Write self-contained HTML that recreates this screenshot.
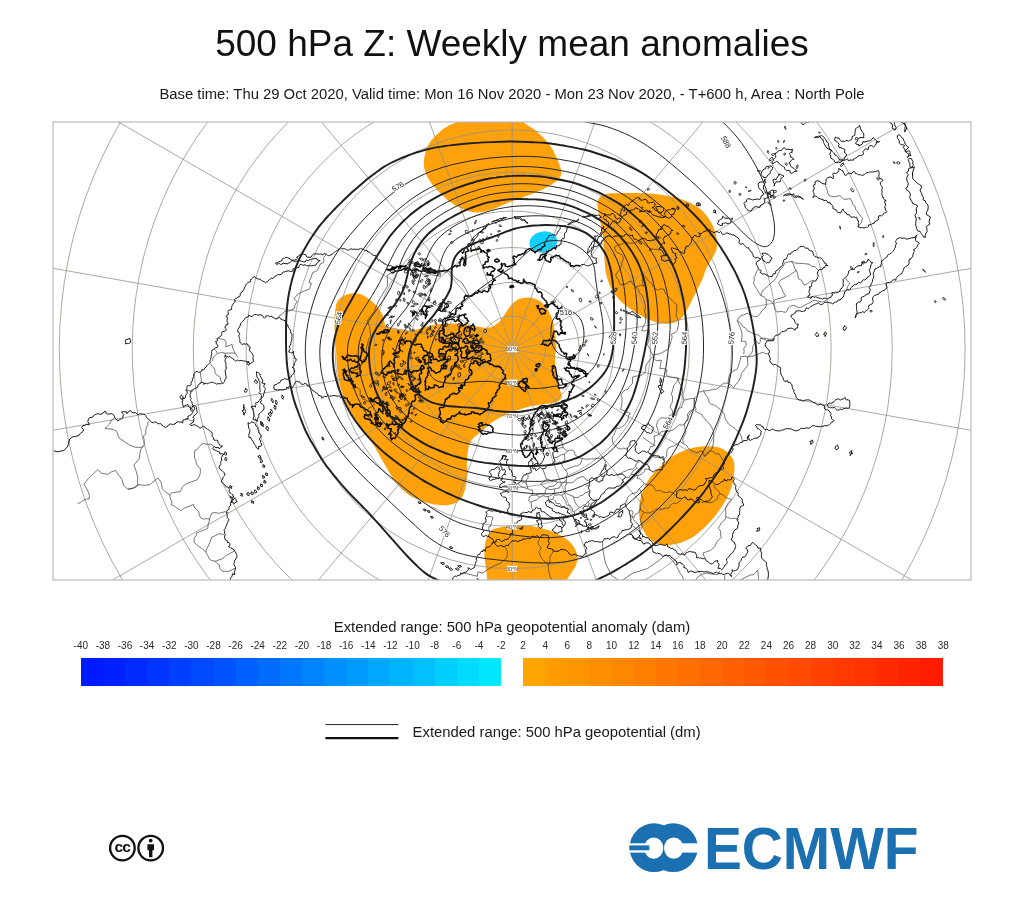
<!DOCTYPE html>
<html lang="en"><head><meta charset="utf-8"><title>500 hPa Z: Weekly mean anomalies</title>
<style>
html,body{margin:0;padding:0;background:#fff;}
body{width:1024px;height:922px;position:relative;overflow:hidden;font-family:"Liberation Sans",sans-serif;color:#111;}
.map{position:absolute;left:0;top:0;}
.t{position:absolute;left:0;width:1024px;text-align:center;white-space:nowrap;line-height:1;}
#title{top:25.3px;font-size:37px;}
#sub{top:86.7px;font-size:14.83px;color:#1a1a1a;}
#lt{top:620.4px;font-size:14.85px;color:#1a1a1a;}
#l2{position:absolute;left:412.6px;top:724.6px;font-size:14.85px;line-height:1;white-space:nowrap;color:#1a1a1a;}
</style></head><body>
<svg class="map" width="1024" height="922" viewBox="0 0 1024 922">
<defs><clipPath id="fr"><rect x="53.0" y="122.0" width="918.0" height="458.0"/></clipPath></defs>
<g clip-path="url(#fr)">
<g fill="#ffa10a" stroke="none">
<path d="M475 114C483.2 112.6 500.2 111.8 508 113C515.8 114.2 518.4 119.2 522 121.5C525.6 123.8 527 124.8 529.5 126.5C532 128.2 533.6 128.7 536.7 131.5C539.9 134.3 545.1 139 548.4 143.2C551.7 147.4 554.2 152.3 556.3 156.9C558.4 161.5 560.6 166.9 561.1 170.5C561.6 174.1 561 176 559.2 178.4C557.4 180.8 554.1 182.9 550.4 185.2C546.6 187.5 541.6 189.9 536.7 192C531.8 194.1 526.3 195.9 521.1 197.9C515.9 199.9 510.4 201.9 505.5 203.8C500.6 205.8 496.4 208.2 491.8 209.6C487.2 211 482.3 212.3 478.1 212.5C473.9 212.7 470.6 212 466.4 210.6C462.2 209.2 457.2 206.9 452.7 203.8C448.1 200.7 443 195.9 439.1 192C435.2 188.1 431.8 184.2 429.3 180.3C426.9 176.4 425.2 172.5 424.4 168.6C423.6 164.7 423.6 161.1 424.4 156.9C425.2 152.7 426.9 147.3 429.3 143.2C431.8 139.1 435.9 135.4 439.1 132.5C442.4 129.6 445.6 127.4 448.8 125.6C452.1 123.8 454.2 123.4 458.6 121.5C463 119.6 466.8 115.4 475 114Z"/>
<path d="M597.5 203C597.8 200.9 598.4 198.9 599.5 197.5C600.6 196.1 601.6 195.2 604 194.5C606.4 193.8 608.4 193.6 613.9 193.3C619.4 193.1 629.5 192.8 637.3 193C645.1 193.2 653.4 193.6 660.8 194.7C668.2 195.8 675.6 197.2 681.9 199.4C688.1 201.6 693.6 204.1 698.3 207.6C703 211.1 707.1 216 710 220.5C712.9 225 714.8 229.8 715.9 234.5C717 239.2 717.2 244.7 716.6 248.6C716 252.5 714 254.8 712.3 258C710.6 261.2 708.2 264.3 706.5 268C704.8 271.7 704 275.5 702 280C700 284.5 697 290 694.5 295C692 300 689.5 305.8 687 310C684.5 314.2 682.4 317.7 679.5 320C676.6 322.3 673.2 323.4 669.5 323.8C665.8 324.2 661.2 323.6 657 322.5C652.8 321.4 648.7 319.6 644.5 317.5C640.3 315.4 636.2 312.9 632 310C627.8 307.1 623 303.8 619.5 300C616 296.2 613.1 292.1 610.8 287.5C608.5 282.9 606.9 277.9 605.8 272.5C604.7 267.1 604.7 260.8 604.2 255C603.7 249.2 603.7 243.3 603 237.5C602.3 231.7 600.8 224.6 600 220C599.2 215.4 598.4 212.8 598 210C597.6 207.2 597.2 205.1 597.5 203Z"/>
<path d="M335.4 309.2C335.9 306.1 336 304 337.2 301.8C338.4 299.6 340.2 297.6 342.7 296.2C345.2 294.8 348.9 293.8 352 293.5C355.1 293.2 358.1 293.3 361.2 294.4C364.3 295.5 367.6 297.8 370.4 299.9C373.2 302 375.6 304.5 377.8 307.3C380 310.1 381.9 313.4 383.3 316.5C384.7 319.6 383.6 323.7 386.1 325.8C388.6 327.9 393.7 328.6 398.1 329.4C402.6 330.2 406.7 331.2 412.8 330.4C418.9 329.6 427.4 325.9 434.7 324.8C442 323.7 449.8 323.3 456.6 323.5C463.4 323.7 470.2 325.5 475.7 326.2C481.2 326.9 485.3 328.5 489.4 327.6C493.5 326.7 497.1 323.9 500.3 320.7C503.5 317.5 505.8 311.8 508.5 308.4C511.2 305 513.5 302 516.7 300.2C519.9 298.4 524.1 297.5 527.7 297.5C531.4 297.5 535.4 298.4 538.6 300.2C541.8 302 544.5 305.2 546.8 308.4C549.1 311.6 550.9 315.3 552.3 319.4C553.7 323.5 554.3 328.4 555 333C555.7 337.6 556.4 342.6 556.4 346.7C556.4 350.8 555 353.1 555 357.7C555 362.3 555.7 369.1 556.4 374.1C557.1 379.1 558.2 384.1 559.1 387.7C560 391.3 562 393.6 561.8 395.9C561.6 398.2 560.7 400 557.7 401.4C554.8 402.8 549.1 403.3 544.1 404.2C539.1 405.1 533.2 405.5 527.7 406.9C522.2 408.3 516.7 410.1 511.2 412.4C505.7 414.7 499.8 417.4 494.8 420.6C489.8 423.8 485.3 427.9 481.2 431.5C477.1 435.1 472.6 437.6 470.2 442.4C467.8 447.1 467.5 454.6 467 460C466.5 465.4 467.7 470 467.3 475C466.9 480 466.1 485.8 464.8 490C463.6 494.2 462.5 497.5 459.8 500C457.1 502.5 453.3 504.4 448.5 505C443.7 505.6 437.2 505.2 431 503.8C424.8 502.4 416.8 499.9 411 496.3C405.2 492.8 400.6 488.1 396 482.5C391.4 476.9 387.2 468.8 383.5 462.5C379.8 456.2 377.2 450.8 373.5 445C369.8 439.2 364.9 433.3 361 427.5C357.1 421.7 353.1 416.2 349.8 410C346.5 403.8 343.1 396.7 341 390C338.9 383.3 338.1 376.7 337.3 370C336.5 363.3 336.4 355.8 336 350C335.6 344.2 335.3 340 335 335C334.7 330 334.3 324.5 334.4 320.2C334.5 315.9 334.9 312.3 335.4 309.2Z"/>
<path d="M712 446.3C717 446.7 721 447.7 724.5 450C728 452.3 731.7 455.8 733.3 460C734.9 464.2 734.6 469.6 734 475C733.4 480.4 731.9 486.7 729.5 492.5C727.1 498.3 723.2 504.6 719.5 510C715.8 515.4 711.6 520.4 707 525C702.4 529.6 697 534.4 692 537.5C687 540.6 682 542.5 677 543.8C672 545 666.6 545.8 662 545C657.4 544.2 652.8 541.7 649.5 538.8C646.2 535.9 643.8 531.9 642 527.5C640.2 523.1 639.2 517.5 639 512.5C638.8 507.5 639.2 502.9 640.8 497.5C642.3 492.1 644.8 485.4 648.3 480C651.8 474.6 657.2 469.4 662 465C666.8 460.6 671.6 456.7 677 453.8C682.4 450.9 688.7 448.8 694.5 447.5C700.3 446.2 707 445.9 712 446.3Z"/>
<path d="M491.4 530.5C493.8 528.1 496.5 528.4 500 527.5C503.5 526.6 507.3 525.5 512.5 525.3C517.7 525 524.4 525 531 526C537.6 527 545.7 529.1 552 531.6C558.3 534.1 564.6 537.3 568.8 541C573 544.7 575.8 549.9 577 554C578.2 558.1 577 562.1 575.8 565.6C574.6 569.1 571.6 572.4 570 575C568.4 577.6 567.6 578.2 566.4 581C565.2 583.8 576.1 590.2 563 592C549.9 593.8 500.6 593.8 488 592C475.4 590.2 487.5 584.7 487.2 581C486.9 577.3 486.8 574.2 486.3 570C485.8 565.8 484.5 560.7 484.4 556C484.3 551.3 484.3 546.2 485.5 542C486.7 537.8 489 532.9 491.4 530.5Z"/>
</g>
<ellipse cx="543.3" cy="242" rx="14" ry="10.5" transform="rotate(-10 543.3 242)" fill="#0fd0ff"/>
<g fill="none" stroke="#92928a" stroke-width="0.9" stroke-opacity="0.88">
<circle cx="512.2" cy="349.3" r="542.7"/>
<circle cx="512.2" cy="349.3" r="452.9"/>
<circle cx="512.2" cy="349.3" r="380"/>
<circle cx="512.2" cy="349.3" r="318.9"/>
<circle cx="512.2" cy="349.3" r="266.1"/>
<circle cx="512.2" cy="349.3" r="219.4"/>
<circle cx="512.2" cy="349.3" r="177.2"/>
<circle cx="512.2" cy="349.3" r="138.3"/>
<circle cx="512.2" cy="349.3" r="101.8"/>
<circle cx="512.2" cy="349.3" r="67"/>
<circle cx="512.2" cy="349.3" r="33.2"/>
<path d="M512.2 349.3L512.2 945.8M512.2 349.3L716.2 909.8M512.2 349.3L895.6 806.2M512.2 349.3L1028.8 647.5M512.2 349.3L1099.6 452.9M512.2 349.3L1099.6 245.7M512.2 349.3L1028.8 51.1M512.2 349.3L895.6 -107.6M512.2 349.3L716.2 -211.2M512.2 349.3L512.2 -247.2M512.2 349.3L308.2 -211.2M512.2 349.3L128.8 -107.6M512.2 349.3L-4.4 51.1M512.2 349.3L-75.2 245.7M512.2 349.3L-75.2 452.9M512.2 349.3L-4.4 647.5M512.2 349.3L128.8 806.2M512.2 349.3L308.2 909.8"/>
</g>
<g fill="none" stroke="#2b2b2b" stroke-width="0.65" stroke-linejoin="round">
<path d="M469.2 296.2L466 289.6L462 282.9L455.7 278.4L448.8 271L445.4 272.5L443.7 271.5L440.8 271.3L440.7 273.8L440.3 276.2L437.3 275.6L434.2 275.3L431.3 274.9L429.1 273.8L426.8 273.8L422.9 274.4L421.9 272.9L420.3 270.8M393.5 271.3L387.1 275.7L387.7 285.9L383.3 293L378.7 300.7L374.1 311.5L367 321.1L369.7 326.8L370.7 336.4L369.5 337.8L368.2 340.6L367.6 344.2L366.7 346.8L366.3 350.6L367.2 353.9L366.1 356.9L363.7 358.8L362.9 361.4L362 363L361.5 364.8L359.7 366.7L357.3 369.7L355 369.8L353.2 371L350.8 372L348.4 371.2L346.3 370.4L344.3 369.9L345.1 372.4L346.3 375.6L348.3 378.3L349.2 381L351.2 380.6L352.4 382.8L353.5 384L356.1 386.8L358.3 388.1L360.2 390L360.2 392.8L360.1 395.5L361.8 397.5L362.9 399.2L365.1 399.6L367.3 401.2L371.1 401.3L373.7 401.9L374.5 404.9L371.6 406.9L369 407.7L367.3 410.8M326.6 254.3L324.6 256.4L323.5 258.2L323.8 260.3L323.6 262.5L320.5 263.8L318.8 267.2L317.2 270.5L312.7 272.7L312 274.7L311.2 277.4L309.8 279.8L309.2 282.6L311.3 283.2L310.5 286.2L309.4 289.2L306.9 290.1L304.5 290.9L301.4 292.3L298.1 293.9L295.7 296.7L294.1 298.9L295.3 300.1L297.1 301.6L295.1 304.6L294.7 307L293.7 309.1L291.2 309.9L287.8 311.3L284.8 311.2L282.5 314.1L279.3 315.8L278.5 317.6L276.2 319.5M218.2 338L220.6 338.9L222.4 339.2L224.9 340L225.9 341.8L226.1 344.2L225.9 346.8L229.2 345.7L232.1 344.4L232.7 348.1L233.7 350.2L235.1 353.2L233.5 353.1L231 353L227.7 353.1L225.4 353.3L224.9 355.4L224.4 357.8M235.1 353.2L236.6 355.6L238.3 357.4M217.5 353.4L216.3 351.1L214.2 348.8M225.4 353.3L221.7 352.3L219.6 353L217.5 353.4L215.8 355L213.3 357.3L212.3 360.8M210.3 363.5L212.6 366.5L213.7 367.9L215 370.1L214.9 372.3L215.9 374.2L218.6 376.2L220.4 377.4L220.5 380.1L221.9 382.2L222.7 383.8M200.4 372.7L200.6 374.9L201.1 377.9L201.4 381.3L200.3 383.7M185 390.1L188.7 390.6L191.5 391.5L193.2 390.7M193.8 420.5L190.6 420.8L188.5 419.3L184.6 419.5M219.7 448.3L217.9 447.7L215.4 447.4L213.6 445.9L210.8 444.3L207.3 444.4L204.1 443.5L201.8 444.2L199.2 446.8L197.1 449.7L194.7 450.6L194.5 455L194.5 458.2L195.9 460.4L196.3 464.3L200.3 468.8L200.3 473.5L198.9 477.2L197.2 479.8L191.7 481.7L187.5 483.3L184.8 484.7L182.4 487.2L180.2 491.6L175 492.4L172.1 492.7L169.7 494.7M148.9 420.6L147.7 422.9L148.1 424.9L146.4 427L145.7 430.5L145.8 434.1L143.4 436.1L144.2 439.9L144.3 444.4L143.4 446.1M143.4 446.1L140.8 449.2L140 453.5L139 459.2L133.9 465L135.9 470.3L137.8 477.3L137.3 481.6L137.9 485.5L135.5 487.2L132.2 488.7L129.6 488.9L127.9 489.2M169.7 494.7L165.5 492L162.2 488.5L161.3 482.8L158.2 478.1L156 479.6L153.1 481.8L151.9 482.8L150 484.7L144.5 485.3L138.9 484.6L133.2 488L127.9 489.2M169.7 494.7L170.2 497.3L170.7 499.7L172.1 502L171.2 504.7L174.3 505.8L176.3 507.9L179 509.4L181.2 510.7L183.8 508.2L187.4 507L191.2 505.4L193.7 504.6L194.4 507.7L196.5 509.3L198.8 511.7L199.3 515.7L201.1 518.3L203.9 519.1L206.3 518.7L209.6 519.1M209.6 519.1L210.3 516.6L211.8 513.1L214.7 512.5L219.2 513.3L224.8 511.7L228.6 513M209.6 519.1L209.1 521.6L208 524.9L207.8 528.3L204.5 529.9L199.9 531.5L196.7 532.9L196.3 535.4L194.4 538.1L193.9 542.1L197 545.2L201.2 548.1L203.4 549.5L205.7 552.2M223.8 534.5L221.5 534.1L218.7 533.7L215.1 535.8L211.7 537.1L210 541.9L208.9 544.9L206.7 548.9L205.7 552.2M234.4 551.1L231 552.8L225.9 555.8L221.8 558.9L215 561.3M205.7 552.2L207.7 555.2L208.7 558L210.8 560.2L215 561.3L216.9 563.3L219.4 565.1L219.8 568.1L222.6 571.5L225.8 571.2L228.2 571.5L231 570.3L235.1 568.2M114.7 417.2L111.8 419.8L109.4 424.1L107.6 425.8L105.1 428.4L107.6 428.8L110.9 429L113.7 429.7L116.6 431.2L118.9 437.8L125.7 442.6L130 445.2L134.5 447L136 447.4L138.5 447.3L140.9 447.5L143.4 446.1M127.9 489.2L123.6 485.5L121.9 479.4L118 474L115.6 470.5L111.7 471.7L107.8 474.4L101.7 473.3L97.6 469.8L94.8 472.5L91.6 475.2L88.2 478.7L84.1 484.3L85.9 487.5L88.5 492.3L89.3 495.1L89.1 499.1L86.1 499.1L82.3 500.9L80.2 502.9L77.7 503.2M533.2 452.6L533.2 449.3L533.2 447.5L533.1 445.3L533 441.8L531.6 438.4L531.8 436L533 432.7L533.1 429L532.9 426.6L533 423.6L533.7 421.8L534.2 419.3L534.7 417.8L536.9 415.3M536.9 415.3L539.2 416.4L541.9 417.7L544 420.4L545.3 423.7M536.9 415.3L539.7 414.1L542.5 412.9L541.6 409.5L543.7 408.5L546.3 410.9M546.3 410.9L546.6 412.7L549.6 414.2L550.6 416.2L552 419.6L554.3 422.3L555.7 425.5L557.7 426.7L560.2 427.7L559.9 429.7L560.5 432.9L559.7 435L558.9 437.8M486.3 516.5L488.1 516.8L490.8 516.5L493 517.8L491.7 521.3L491.2 524.1L490.5 526.4L488.9 526.6L488.9 529.9L489.7 532.4L489.2 534.4L487.9 536.4M507.1 512.9L508.4 514.3L511.2 515.3L514.2 515.7L516.5 515.8L518 517.2L521.6 516.6M533.4 510L531.7 508.2L531.4 504.8L531 502.1L528.7 500.8L529.2 498.3L530.2 496L531.7 495.4L532.6 492.7L532.5 489.9L529.6 489.9L527.8 488.6L526.4 488.8L524.4 487.5L522.3 487.2L519.6 485.5L518.1 483.4M527.8 488.6L527.4 486.5L526.3 483.9L526.2 480.1L528 478.1L528 474.3M521.9 482L523.8 481.9L526.3 483.9M542.7 468.9L543.6 471.4L544.7 474.1L545.3 476.4L547 479.3M541 483.4L543.9 481.2L547 479.3L549.4 479.7L551.2 480.8L554.5 481.2L557.4 482L556.5 483.8L554 485.9L551.1 486.3L549 486.5L546.4 488.4L543 486.5L541 483.4M546.4 488.4L545.1 490.9L545.4 493.3L541.5 493.5L539.3 493.4L536.8 495L534.8 495.2L531.7 495.4M546.4 488.4L548.4 489L551 489.6L554.8 488.8L554.6 491L554.1 493.4L551.3 495.4L548.1 496.6L545.7 496.7L543.8 495.6L541.4 496.3L539.4 497.3L536.8 495M531 502.1L533 501L534.8 500.4L536.9 499.8L539.4 497.3M548.1 496.6L548.6 499.7M530.2 468.1L532.1 468.2M552.9 464.3L555.5 463.2L557.7 463.1L559.5 461.8L561.6 462.9L562.4 466.8L564.8 469.1L566.5 471.6L567.7 473.9L566.3 476.9L566.4 480.2M557.4 482L559.2 482.2L561.5 482.5L563.8 481.9L566.4 480.2L566.7 482.9L570.5 482.7L572.8 482.4L574.9 480.6L577 478.7L580.1 477.1L583.4 476.6L585.7 479.6L588.2 480.9M585.7 486.3L589.4 485.1M554.8 488.8L557.2 488.3L559.5 488.1L560 486.4L561.2 484.2L564.1 482.3L566.7 482.9M554.1 493.4L555.4 495L558.9 494.9L561.8 495L563.5 494.4L565.3 492.9L565.2 489L565.1 486.5L566.7 482.9M565.3 492.9L567.3 493.9L569.6 495L573 496.2L574.1 497.4L575.9 497.3L578.3 497.7L579.6 495.9L582.7 495.3L585.3 492.7L587 492.3L589.8 491.6M548.8 500.4L551.4 499.5L553.2 499.3L553.3 496.9L555.4 495M554.8 500L556.4 503.6L559.9 503.6L561.9 506.9L565.3 507.9L568.5 509.3M561.8 495L563.6 498.5L566 501.3L565.9 503.5L567.6 505.2L569.8 505L571.9 508L572.8 511.5L574.7 512.1L574.4 514.5L573.2 517M573 496.2L573.8 498.8L574.6 500.6L575.5 502.8L576.7 504.9L579.1 507.7L576.5 510.2L574.4 511.3M579.1 507.7L581.2 507.1L583.2 505.1L585.9 504.5L587.7 502L589.2 503.1L588.5 505.7M587.7 502L589.8 499.9L591.6 498.7M561.6 462.9L563.4 461.3L564.9 458.9L564.6 456.8L564.5 454.2L566.9 451.4L569.7 450.1L572.6 450.2L574.8 451.7L574.7 454.9L576.7 455.9L578.2 457.1L580.2 458L582.3 458.5L581.4 461.8L580.1 464.2L577.3 465.9L574.7 465.9L572.3 467.2L570.4 467.6L567.9 468.6L565.4 470.5M582.3 458.5L584.5 459.1L587.1 459.2L590.3 458.9L593.9 458.9L597.4 458.3L600.8 458.1L602.3 456.2L603.8 459L605.8 461.7L605 463.6L604.5 466.6M553.7 457.4L556.4 457.5L558.6 456.5L561.2 454.8L564.5 454.2M557.3 449.3L560 447.9L563.2 447.6M561.3 440.9L562.3 444L563.2 447.6L564.8 448.9L566.9 451.4M625.6 477.5L628.6 477.7L631.1 474.6L634.7 474.3L637.9 475.9L637 478.5L638.7 478.3L641 479.7L642.5 481.1L644.4 483.8L642.2 486L639.4 488.6L636.5 492.7L631.5 493.7L627.8 497.4L625.9 501.9L625.6 504.6L626.3 506.3M617.4 474.7L620.1 473.9L623.6 471.7L626 471L627.7 469.7L630.7 469.2L632.7 469L635.5 466.3L636.4 463.4L639.7 461.7M631.1 474.6L632.3 472.3L633.8 470.1L635.9 469L637.5 468.2L635.5 466.3M637.9 475.9L639.6 475L641.9 473.8L644.3 471.6L645.1 469L647.7 469.1L650.6 470.1M664.3 460.2L664.9 458.4L666.7 456.1L666.7 452.6L667.3 449.3L670 447.1L674.1 445.8L677.4 443.8L679.7 441.4L681.1 442.2L683.1 443.8L685.2 444.4L687.1 446.2L688.2 448.2L690.3 450.3L694.7 451.9L698 453.1L699.5 451.2L702.4 451.3L703.3 454.2L704.7 456.4L705.3 454.5L707.2 452.7L709.7 450.8L712.3 451.4L713.9 452.3L715.9 453.9L719.2 453.9L720.7 456.5L722.6 459.9L724 462.3L724.3 464M644.4 483.8L646.2 484.5L648.7 484.8L650.4 484.9L653 485.3L654.2 488.2L656.3 490.9L659.2 490.2L663.2 492L666.8 492.6L669.2 491.7L672.8 492.8L674.7 494.6L676.8 494.4M639.4 488.6L640.9 491.4L641.4 494L642 497.2L643.6 500.5L641 503.5L640.3 505.7L640.4 508.8L639.5 510.5L638.6 512.5L635 514.6L634.2 517.3L631.6 516M640.4 508.8L641.4 511L644.2 512.3L641.8 515.2L641.6 517L640.3 519.3L641.2 522.8L641.9 525.2L641.8 528.1L639.6 531.2M644.2 512.3L646.4 513L649.3 513L653.4 511.3L656.1 509.1L658.9 508.8L662.3 509.3L666.3 508L669 507.8L670.3 505.1L672.4 503.8L674.2 503.1L676.6 503.5L679.4 501.5L681.3 499.4M632.6 525.8L635.5 528.2L637.4 529.8L639 531.1M631.6 516L633.5 519.4L635.8 522.6L637.9 523.6L639.2 527L639.3 530.8M629.5 510.7L632.2 510.8L633.1 512.8L631.9 515.3M706.7 501.2L703.6 502L701.8 502.8M705.6 502.6L708.8 502.5L712.4 502.4L714.4 500.9L717.1 498.8L717.8 496.6L719.9 493.7L722.9 494.8L726.6 498.1L729.8 498.9L731.7 499.6L727.5 504L725.7 507.9L725.8 511.2L725.8 516.2L725 519.7L721.2 523.1L719.8 525.7L718.3 528.4L719.8 529.8L720.8 532.2L720.6 535.1L721.2 537.4L716.8 542L714.7 546.5L710.8 550.4L703.3 552.8L703.4 555.1L705.3 557.9M719.9 493.7L718.6 490.9L715.7 488.8L714.5 486.6L713.3 484.9M725.8 516.2L727.8 517.7L731.2 518.5L734.7 518.2L738.7 519.4M627.5 449.5L625.8 448.8L623.5 448.1L621.5 449L618.9 448.8L616.4 446.6L614.9 445.6L613.4 443.6L612.4 441.1L612.2 436.9L613.9 435.3L614.8 432.3L615.7 430.5L616.4 428L619.7 428.3L622.4 426.5L624.1 425.5L625.9 423.2L627.3 421.2L628.2 419L628.6 415.3L630.5 413.5L628.4 412.5L626.5 412L623.3 410.4L620.5 409.3L621.6 405.7L621.8 403.2L622.1 400.6L621.9 397.1L620.9 395L623 391.8L625.2 390L628.2 389.3L628.8 387.5L630.2 385.7L632.3 383.7L632.6 380L632.5 377.1L636.2 376.1L640.4 375.7L643.2 374.3L644.7 372.7L645.9 369.1L645.8 365.7L647 363.8L648.7 361.2L651.3 358.3L653.4 356M653.4 356L651.4 352.9L649.9 349.1L648.8 347.1L647.4 344.6L648.5 341.1L648.9 337.7L648.9 333.9L649.2 330.1L646.6 330.3L644.8 331L641.7 330.4L642.4 328.4L643.7 325.6L645.4 322.7L645.6 320.5L645.4 318.1L645.5 314.4L644.4 311L645.2 308.6L645.6 305.8L644.6 303.4L644.3 300.7L643.4 298.9L642.6 295.6L639.4 292.7L638.6 289.6L636.4 286.8M636.4 286.8L633.4 285.2L632.1 283.1L631.2 281.1L628.7 282L626.8 283.6L623.7 284.4L620.2 284.4L619.1 282.3L618.7 279.9L617.2 278.4L615.7 275.5L616.5 273.4L618.3 271.2L620.5 267.9L621.9 265.1L621.9 262.3L623.5 258.9L622.8 256.8L621.8 254.7L619.8 253.7L617.7 253L615.7 251L614.3 247.2L616 246.3L618.3 244.4L622.5 244L625.5 241.8L628 243L630.1 243.3L633.6 243.1L636.8 242L639.3 240M653.4 354.7L658.8 354.1L662.5 352.4L667.3 349.6L669.6 346.6L670.1 344L671 340.7L672.1 337.7L671.6 334L673.1 333.5L675.4 332.6L677.2 330.5L678.5 325L678.6 321.3L677.5 318.3L676 316L676.3 312.5L676.9 310L676.4 307.9L677.2 305.1L672.7 301.2L668.2 296.3L664.9 292.8L664.1 289.5L660.9 288.6L658.1 290.3L655.3 288.6L653.6 287.1L652.4 284.1L648.6 281.3L647.2 279.4L645.7 277.2L643.1 274.3L642.8 277.7L642.3 281.6L642.8 284.5L644.2 286.3L640.7 285.2L638.3 286.2L636.4 286.8M653.4 356L654.3 358.8L656.3 360.7L659.1 360.4L661.5 360.3L661 362L660.6 364.2L660.3 366.1L659.8 368.7L663 368.6L665.3 369L667 370.2L666.1 373.6L667.3 376.1L671 377.1L673.9 377.4L675.8 377.3L678.1 378M678.1 378L678.6 380.7L679.7 383.7L681.9 386.9L682.6 391.8L681.9 395.2L683.2 397.2L684 400.2L687.9 399.2L691.3 398.5L694.3 398.4M642.7 437.3L646.1 439.7L649.9 442.3L652.6 444.3L654.8 445.5L653.8 443.9L654.8 441.3L654.2 439.1L654.2 436L657.1 435.3L659.4 434.3L658.3 432.3L657.8 429.3L656.4 425.9L657.3 422.2L658.5 419.9L660.2 418.3L662.7 417.7L665 418.1L666.8 418.1L669.1 415.7L672.8 414.2L672.4 410.8L671.6 409.1L670.2 407.4L671 404L672.1 402.7L672.5 400.1L672.5 396.8L671.4 393.5L672.2 391.7L672.9 389.4L673.6 385.8L675.4 383.5L676.9 381.6L678.1 378M664.3 460.2L663.5 456.4L661.2 457.1L659.6 457.9L657.3 457.1L655.3 457.2L653.1 456.7L650.9 454.8L648.1 452.1L649.2 449.9L650.6 446.6L652.5 446.5L654.8 445.5M659.4 434.3L660.7 432L664 431L667.2 431.5L669.4 431.1L673.1 429.8L676.2 427.5L677.5 426.3L679.3 424.7L682.2 425.2L684.4 424.2M672.8 414.2L675.7 415.4L676.6 411.9L678 409.8L678.5 408.2L681.7 407.6L682 405.2L682.8 403.2L684 400.2M684.4 424.2L686 421.3L687.9 420.3L688.1 417.5L687.3 414.8L688.5 412.9L689.8 411.1L692.7 409.7M683.3 443.4L682.9 440.3L683 438L684.8 434.7L685.8 432.1L685 428.7L684.6 426.1L684.4 424.2L687.5 419L688.9 415.3L690.4 412.8L692.7 409.7L694 408L693.9 405.1L694.4 401.3L694.3 398.4L694.2 402.6L695 406.3L695.9 408.5L695.6 411.4L698.5 413L702 414.7L702.7 416.6L704.8 418.4L706.4 421.2L709.6 423.9L711.4 426.9L713.3 430.6L713.4 433.4L713.8 437L713.6 440.9L712.9 445.8L711.8 448.9L709.2 451.8L707.8 454L704.7 456.4M694.3 398.4L697.7 395.2L698.4 391.9L700.7 391.9L703.5 390.7L704.8 393.7L708 398L709.3 402.7L711.8 404.7L713.9 404.8L716.6 406.4L720 409.4L722.6 411.6L724.4 414.4L725.2 418.8L727.1 421.7L728.5 423.8L730.2 425.5L732.9 427L735 428.7L737.5 431.3L739.6 433.2L740.9 435.1L741.8 438.5L742.6 441.5M703.5 390.7L706 390.9L708.9 390.5L712.7 389.4L716.8 389.1L719.7 386.6L722.4 384.2L725.3 382.9L728 383.5L731.3 385.3L733.7 387.6L735.7 384.6L738.5 381.5L740.7 376.9L741.5 373.4L745 368.8L748.1 364.8L747.4 361.1L747.7 357.1L745.1 356.1L742.7 356.5L740.9 356.5L740.4 359.2L739.6 361.9L738.3 366.1L737.4 369L733.5 370.9L729.6 374.2L728.4 379.3L728 383.5M743.6 354.1L744.2 351.6L743.7 348.6L746.5 344.9L745.4 341.2L743.6 341.4L741.3 341.3L741.9 337.6L741.9 332.1L739.6 326.7L737.3 320.5M747.7 357.1L750.3 356.4L753.9 355.9L757.5 354.4L759.7 353.4L762.7 352.4L765.3 353.6L768.5 353.8M774.1 338.8L769.3 339.4L766.2 338.3L762.8 338.1L760.2 338.5L760.3 341.7L758.9 344.1L756.5 341.5L754.1 338.7L754.2 341.1L754.5 343.6L752.5 347.2L752.9 350.1L751.7 352.7L750.4 354.4L747.7 357.1M774.1 338.8L769.7 341.4L765 339.7L761.9 338.5L758.6 335.1L754.2 334.1L751 332.4L747.7 330.9L745.5 328.1L742.8 326.5L741.3 323.8L739.6 322L737.3 320.5L738.8 318L740.3 316L743.7 314.8L747.4 313.3L750.7 314.7L752.6 316L754.7 316.6L757.3 316.6L759.3 314.6L761.2 312.2L762.2 310.5L764.7 308.4L765.8 306.2L766.3 304.2L766.2 302L766.1 299.5L768.2 300.3L770 300.5L772.7 302.9L774.3 306.3L774.6 308.8L776.1 310.6L777.2 312.1L780.8 311.3L783.2 311.9L785.8 312.3L787.4 310L788.2 308L790.8 306.1L793.1 305.3L795.1 305.7L796.8 306.7L798.5 307.5L800.8 307.7L804 305.6L806.9 304L810.4 302.3L812.7 300.6L815.3 300.3L818.4 301.3L822.4 302L826.2 300.7M766.1 299.5L764.2 296.9L760.8 295.5L758.4 291.6L756.4 288.5L755.1 286.2L753.4 283.3L754.3 280.5L754 276.7L755.3 275.2L756.1 273.2L756.8 271.1L758.3 269.3M760.8 295.5L761.9 292.2L763.3 290L766.1 287.6L768.5 285.4L771.1 283.1L772.8 281.5L775.5 278.8L778.2 273.6L780.6 269.2L782.8 266.7L785.1 262.7L786.9 262.4L789.1 261.9L791.8 261.1M772.7 302.9L775 299.8L777.5 298.9L782.3 297.6L785.7 296.1L783.1 292L781.7 288.1L780.1 285.5L778.6 282.9L780.9 279.9L783.3 278.7L785.2 277.6L787 276.7L789.3 275.7L792 273.4L794.4 272.2L796.1 270M813.8 280.2L811.4 280.9L809.6 281.9L807.3 283.9L804.3 285.1L801.5 280.4L798.3 278.6L797.7 273.9L796.1 270L794.5 268.3L793.6 264.8L792.2 262.8L791.8 261.1L794.5 262.9L798.2 263.3L803.6 263.6L809.1 264.2L812.1 266.5L814.7 266.5L816.8 268.8L818.9 270.6M661.5 238L658.9 236.6L655.5 235.7M658.6 249.4L656 249.6L653.3 249.1L650.5 249.1L648.1 247.2L645.3 244.9L642.4 242.5L639.5 240.2M846.7 289.7L847.6 286.5L848.8 285.1L849.7 283.1L846.8 280.4L845.6 277.8M857.9 226.2L859.7 224.3L861.4 222.9L862 220.1L862.6 218.3L860.6 216.1L858.4 213.3L857.6 211.5L855.5 209.2L855.1 206.2L852.8 204.6L851.8 201.3L850.4 198.7L844.1 199.4L839.8 195.6L834.4 196.9L829.6 195.9L827.8 193.3L827.3 190.4L826.3 187.8L825.1 185.7M602.6 541.5L602.9 550.2L605.6 563.7L611.8 575.7L620.5 581.6L632.2 573.4L647.6 568.5L658.7 560.8L666.1 554.3M620.5 581.6L621.3 584.4L622.6 587.2L621.7 591.2L621.4 594.6L624.1 598.4L626.4 602L626.1 606.4L629.3 612.3M553.2 551.1L551.4 554.6L550 556.9L549.9 559.9L549.9 563.2L548.2 564.4M540.5 536.6L539.1 540L538.1 542.3L538.5 544.7L541.1 547.1L540.5 549.6L538.9 551.7L540 554.9L541.9 558.9L545.3 562L548.2 564.4L548.3 568.7L548.9 571.9L550.3 577.3L553 580.9L555.5 582.4L557.5 586L561.1 589.5L564 593L568.3 592L571.2 592.6L574 593.4L577.3 592.2L584.3 592.7L595.3 595.1L605.2 592.1L621.4 594.6M504.6 546.5L505.9 548.5L507.1 550.7L507.3 554.7L506.7 557.7L505.4 559.3L503.3 560.6L501.6 562.6L499.1 563.9L493.2 566.1L487.3 569.8L482.6 573.1L478.1 571.9L477.4 574L477.5 576.3L473 575.2L468.8 574.1L463.8 573.2L460.5 573.1M477.2 578.1L481.3 583.2L484.8 585.6L488.6 587L491.9 590.5L498.6 595.6L507 598.7L513.5 604.1L517.7 609.9M564 593L559.5 596.9L552.4 599L550.2 602.9L546.4 609.2M577.3 592.2L578.8 595.9L580.1 598.5L583 600.8L584.9 602.7M453.8 602.3L455.1 599.9L455.5 597.9L455.6 594.4L457.6 593.5L460.3 593.5L461.2 590.5L462.4 586.6L461.4 584.3L462.8 581.6L467.2 580.9L471.2 581.1L473.7 581.9L476.3 584L477.3 581.4L477.2 578.1M477.2 578.1L478.9 580.6L482.4 583.5L486.4 585.4L489 590.3L488.3 602.1L494.4 611.3L492.2 622.8L485 631.8M666.1 554.3L668.8 557L673 561.3L676.6 566.4L678.4 569.8L680.3 573.5L682.5 576.5L684.2 582.3L686.8 586.1L688.8 585.2L690.4 583.3L693.1 581.7L695.7 580L697.2 578L698.1 576.7L701.3 574.7L705.8 573.1L709.2 573.7L713 574.1L717.9 574.5L719.8 571.2M686.8 586.1L689.7 592.6L694 596.2L692 601.7L691.9 605.9M758.4 595.5L759.2 589.6L757.7 585.7L758.5 578.4L757.7 570.3L755.9 572.1L753.8 574.6L749.8 575.2L744.7 577.7L738.1 581.5L731.6 584.6L730.3 582.4L728.4 581.4L726.5 580.7L724.6 579.5L724.6 576.9L725.1 575.3"/>
</g>
<g fill="none" stroke="#141414" stroke-width="1.0" stroke-linejoin="round" stroke-linecap="round">
<path d="M344.2 397.5L343.1 396.5L342 396.3L341.5 397.4L340.5 397.9L340.2 396.7L339.2 395.8L338.4 396L337.1 396.2L335.4 395.6L334 395.6L332.8 395.7L330.8 396.1L329.5 396.2L328.4 395.1L327.4 395.9L326.2 396.8L324.3 396.1L323.5 397.3L321.8 398.2L321.8 396.3L320 395.8L319 395.3L318 394.9L317.4 393.4L316.3 393.1L315.3 392L314.1 391.4L313.4 390.8L312.3 390.4L311.7 389.2L310.4 387.8L309.3 386.1L307.7 386.1L307 384.3L306.2 384L305.2 383.2L303.6 384.3L301.7 384.2L300.4 383.2L299.7 381.8L298.4 381.9L297.3 381.3L296.2 381.1L295.3 382.1L294.7 383.6L294 384.6L293.6 385.7L293.1 386.7L292.1 387.3L291.2 387.6L290.1 386.8L289.2 386.2L288.5 388.2L286.5 387.4L286.5 388.9L285.5 389.4L283.9 389.7L282 389.9L280.5 389.7L279 389.9L277.5 390L276 389.7L275 389.9L274.1 389.1L273.8 388L273.9 386.2L274.6 384.9L276.3 384.6L277.5 383.7L278.1 383L279.9 382.7L280.6 381.7L280.7 380.4L282.2 379.8L283.2 379.6L284.4 378.5L286.1 379.1L287.9 379.3L289.4 378.7L290.1 377.4L291.4 376.8L291.3 375.3L292.7 374.7L293.3 373.9L294.1 373L294.4 372.1L294.9 371L294.1 369.7L294 368.2L292.2 367.4L293.3 366.4L294.4 365L294.2 363.4L295 362.6L295.5 361.5L296.2 360.2L296.1 358.9L294.8 358.5L294.7 356.9L294.1 355.4L293.6 354.5L293.6 353.2L293.7 351.2L292.8 352.3L291.9 353.1L290.5 352.4L288.8 352L289.1 350.8L289.6 349.6L290.2 348.4L289.3 347.4L289.5 345.9L290.5 345.2L290.8 343.6L290.9 342.6L291.2 341.6L291.9 339.7L291.9 338.8L291.7 337.6L292.1 336.4L292 334.7L291.7 333.3L290.5 332.9L290.7 331.5L290.1 329.9L289.6 328.8L289 328.2L287.9 326.6L288.1 325.1L287 324.9L286.7 323.6L285.5 322.7L285.5 321L283.9 320.2L282.6 319.9L280.8 319.2L280.5 318.2L279.3 317.6L277.5 318L275.8 319L274.8 318.2L273.4 317.7L272.3 317.2L271.8 316.1L270.8 316.4L269.6 316.8L268.6 316L267.7 315.8L266.2 315.7L265.6 317.1L264.4 318.3L263.7 317.6L263 316.3L261.9 315L260.2 314.8L259 315.1L257.9 315.1L256.3 314.6L254.7 314.6L253.6 315.1L252.1 316.4L250.5 316.2L248.7 315.3L248.4 316.7L247 317.1L245.5 318.1L244.6 318.7L244.3 319.7L243.3 320.9L242.4 321.4L241.3 322.6L240.6 323.6L240.2 325.5L239.5 327L238.7 328.1L238.1 328.8L237.8 330.1L237.8 332L238.9 332.3L239.8 333.8L238.8 335.4L238.8 336.2L239.4 337.4L239.4 338.7L240 339.3L239.7 340.7L239.9 342L240.8 343.4L242.2 344.6L243.9 343.6L245.2 344.3L246.3 343.8L247.4 343.9L248 345L248.3 346.1L249.2 346.3L250.1 347L249.8 348.8L249.3 350.2L249.9 351.1L251.1 352.5L252.5 353.8L253 355.7L253.5 356.8L252.7 357.7L253.3 359L252.9 360.1L253.8 361.5L252.7 362.2L251.5 362.6L250.5 363.9L249 363.3L248.2 362.1L247.3 361.8L245.5 361.2L243.9 361L242.6 360.8L240.9 360.3L239.3 360.8L238.3 360.5L237.3 359.9L236.5 360.8L235.7 361.1L234.8 360.3L234 359.7L232.7 358.7L231.1 357.6L230.1 356.4L228.3 357L226.6 356.3L225.4 355.3L225.6 356.5L226.2 357.8L225.3 359.3L225 360.7L225.1 361.8L225.9 362.8L226 364.6L225.8 365.6L226.1 367L226.3 368L226 369.3L224.9 371L225.5 372L225.7 373L225.4 373.9L225.9 375.1L226.1 376.8L226.1 378.7L224.7 379.8L224.5 381.5L223.8 382.4L222.7 383.8L221.6 383.1L220.1 383.9L218.3 383.6L216.5 384.1L215.5 383.3L214.6 383.2L213.8 382.8L212.7 382.1L211.7 382.4L210.4 382.3L209.5 382.9L208.6 383L207.8 383.8L206.4 383.6L204.8 383L203.8 384.5L203.7 383.5L203.3 382.5L201.8 382.2L200.8 383.1L199.7 383.4L199 384.7L197.7 385.5L198.1 386.6L197 387.6L195.7 388.2L194.7 388.7L193.7 389.1L192.9 390L191.5 390.3L190.8 391.4L190.7 393.3L189.9 394.3L190.1 395.6L190.3 397.2L191.4 398.3L190.6 399.3L190.5 400.3L191.1 401.3L191.8 401.8L192.2 403.4L192.5 404.8L193.7 405.5L194.6 405.7L195.7 406.1L196.5 407.8L196.6 409.3L196.8 410.5L197.3 412.4L196.4 413.5L195.4 414.8L194.2 415.6L192.8 416.9L193.9 418.2L193.9 419.2L193.8 420.5L193.3 422.1L191.7 423L190.9 424L189.9 424.3L190.9 425.5L192.7 425.3L193.8 424.6L195.4 424.9L196.5 426L197.6 425.9L198.4 426.9L199 427.4L200 428.1L201.4 427.7L202 427L203.3 426.2L204.8 426.9L205.6 427.4L206.2 428.4L207.5 429L208.2 429.7L209.4 430.4L210.4 431.3L212 432.5L212.1 433.6L212.3 434.5L212 436.2L212.6 436.9L213.5 437.8L213.8 439.8L215.6 440.4L216.6 440.2L217.9 440.8L217.8 442.1L218.5 443L219.2 443.9L219.7 445.3L220.8 445.9L222.5 446.2L220.9 447.3L220.2 448.3L219.2 448.5L218.2 447.4L217.1 447.6L215.9 447.8L214.5 446.6L213.4 447.3L212.8 448.9L213.7 449.8L215.7 450.2L216.7 451.2L218.2 451.5L219.6 452L219.9 454L220.8 453.9L222.1 453.9L223 454.2L224.1 454.2L222.6 455.2L222.2 456.8L221.2 457.5L221.5 458.8L221.8 460.8L220.8 461.5L220.4 462.4L220.8 463.5L220.9 464.6L220.1 465.2L219.3 465.7L219.2 467.7L220.1 469L221 470.3L222.2 470.9L223.7 472.2L224.4 473.1L224.8 474.1L224.7 475.5L223.5 476.6L222.8 477.5L222.9 479L222 479.4L221.3 480.4L221.8 482.3L223 483.1L223.7 483.8L224.7 484.6L225.3 485.8L226.3 487L227.8 487.1L228.6 487.6L228.9 488.5L229.4 489.8L229.2 491.6L229.8 492.8L231.1 493.6L231.9 494.4L232.9 494.7L233.2 496L233.6 497.4L232.2 497.3L231 497.2L229.6 495.8L230.3 496.5L230.8 497.8L232.2 498.5L233.5 499.1L232.4 500.8L230.7 502.1L230.5 503.6L230.8 505.3L229.5 506.3L229 507.5L229.1 509.3L228.2 509.7L227.2 510.5L226.7 511.8L226.6 512.7L226.8 513.7L227.1 514.6L227.2 516.2L227.2 517.2L228 518.4L229.1 519.4L228.1 520.9L228.1 522.1L227.3 522.8L227 523.9L226.5 525.2L226.2 526.2L225.5 527.1L225.4 528.2L224.3 529.6L224.2 530.7L224.8 531.9L224.6 533.4L225.2 534.3L224.7 536L224.5 536.9L224.7 538.2L225.1 539.2L225.6 540L227.1 540.6L227.5 542.7L228.8 542.2L229.7 543.4L230.1 545.1L228.4 546.6L229.9 547.2L230.9 548.2L232.1 548.2L232.8 549.3L234.4 549.8L234.4 551.1L235.7 552.1L235.8 553L236.5 554.3L237.1 555.9L236.8 557.1L236.2 557.8L235.8 559.1L235.1 560L234.1 561.2L234.6 562.4L233.7 563.9L234.1 565L234.8 566.2L235.6 567.8L235.2 569.7L234.6 571.3L234.4 572.8L234.8 574.6L232.6 573.7L232 576.2L231.2 577.5L230.3 578.2L230.5 579.7L229.3 580.7L228.5 582.5L228.7 583.7L228.9 584.5L228.9 585.9L228.3 587.2L226.8 588.5L226.1 590.3L225.1 591.7L224.1 592.6L222.7 592.8L221.5 592.6L220.9 590.7L220.4 589.5L218.4 589.1L216.9 588.4L217 590L217.5 591.5L217.4 593L217.3 594.2L217.6 595.8L219.3 596.7L218.6 599.4L220.7 600.7L221.7 602.4L222.3 604L223.6 604.6M54.1 450.9L57.9 451.9L60.9 451L63.9 450.6L65.2 449L66.9 447.5L67.9 446L68.3 444.3L68.9 441.9L69.7 439L71.8 437.4L73.7 436.5L75.9 436.6L77.1 435.7L78.7 435.8L79.6 433.9L80.8 433.2L82.7 431.6L83.7 429.9L81.7 427.6L83 425.5L85 425.6L86.1 424.2L88 424.6L89.3 424.6L88.8 423L87.7 421.5L88.5 419L89.5 417.7L91.1 417.4L92.7 417.3L93.5 415.7L95.2 414.6L96.5 414.1L98.1 413.7L99.8 414.2L101.7 414.2L102.7 412.7L103.8 412.7L104.6 411.3L105.8 411.5L106.1 413.5L107.5 414.1L109.4 413.9L111.8 413.7L112.8 414.4L114 415.3L114.3 416.2L114.7 417.2L115.6 418.7L116.6 419.3L117.4 420.8L119.2 420L120.4 419.2L121.4 418.9L122.7 418.1L122.9 416.9L123 415.6L123.9 414.7L123.4 414L122.4 413.3L121.6 411.9L123.4 411.5L125 412L126.6 411.9L127 413.7L128.1 412.1L128.9 411.2L130.4 410.5L131.4 411.4L131.9 412.6L133.7 412.8L135.4 412.6L136.4 413.2L137.1 414.3L138.5 414.5L139.4 413.6L140.7 413.9L142.6 414.1L143.8 414.3L145 414.7L145.6 415.3L145.9 416.2L146.5 417.4L147.5 418.6L148.5 418.9L149.6 420.4L150.4 421.1L151.6 422.2L153.3 422.9L154.8 421.8L156.5 422.3L158 423.9L159.6 423.6L160.7 423.6L161.5 424.8L163.2 425.8L164.2 426.9L165.3 427.5L166.8 426.7L167.9 426L168.7 424.8L170.4 423.9L171.3 424.1L172.8 424.7L173.8 424.1L175.2 424L176.1 422.6L177 422.2L178.3 421.7L179.4 422.1L181.2 422L182.9 422.9L182.8 421.2L183 420L184.3 419.8L185.2 419.4L186.8 418.7L188.2 418.5L188 417.3L188 416.2L189.8 415.5L191.2 414.3L192.2 413.5L192.9 412.4L193 411.3L191.4 411.1L190.8 410.1L190.4 408.9L190.5 407.2L189.1 407.1L188.3 406L187.6 404.2L186.1 405.5L184.6 405.7L183.4 407.3L183.3 406L182.9 405.2L182.6 403.8L182 402.2L182.8 400.8L182.5 399.9L182.9 398.5L184.7 398.4L185.3 397L185.7 395.5L186.5 393.9L187.1 393.3L187.3 391.9L186.2 390.5L186.8 389.6L186.9 388.3L186.9 387.3L187.4 385.7L188.5 385.6L189.8 385.8L191.3 384.7L190.9 383.4L191.8 381.7L192.4 380.2L192.4 379L193 378.1L193.7 376.5L193.7 375L194.2 373.2L195.6 372L197.1 371.4L198.4 372.2L199.8 372.2L200.6 371.9L201.6 371.3L201.9 369.7L203.9 369.8L204.4 368.8L204.8 367.9L206.1 367L206.9 365.8L207.7 365L208.3 364.4L209.1 363.6L210.2 362.5L209.8 361.2L210.5 359.4L210.7 358.5L211.1 357.2L211.3 355.3L211.8 353.7L211.5 352.7L211.7 351.2L212.2 349.9L213.7 349.3L214.8 348.6L215.5 347.4L217.1 347.6L217.8 346.4L217.6 344.8L216.1 343.7L216.4 342.2L215.4 341.5L216.9 341.1L217.6 340.4L216.9 338.6L217.8 338.2L218.7 337.5L220.8 336.1L221.9 334.6L221.4 333.3L222.2 331.8L224.2 331.3L225.3 331.1L226.5 329.8L225.4 328.4L224.9 326.6L225.9 326.2L225.9 324.8L226.9 324.2L228 324.4L227.8 322.6L227.2 321.8L227.1 320.6L227.3 318.7L227.6 317.4L226.1 316.7L227 315.1L228.2 314.6L228.3 313.1L227.9 311.8L228.5 310.4L229.9 309.9L231.8 309.3L231.5 308.3L231.6 307.3L231.8 306.4L232.4 305L233 304.3L233.5 303.1L234.5 302.3L235.3 302L234.9 300.8L234.5 299.3L235.7 298.5L236.7 298.2L237.8 297.2L239.6 296.7L240.2 295.8L240 294.4L240.9 292.7L242.1 291.9L243 290.7L243.6 289.9L244.2 288.8L244.4 287.8L245.2 286.8L245.7 285.3L246.6 283.9L247.6 283L248.9 282.1L250.7 281.7L250.5 280.6L250.3 279.7L251.3 279.4L252.4 278.4L253.2 277.2L254.7 276.6L255.6 278L257.2 278.6L258.3 279.1L260.2 279.2L261.4 280.6L262.6 281L264.3 281.8L265.4 282.7L266.6 282L267.8 281.6L268.2 280.7L269.2 280L270.4 278.7L271.8 278.1L272.9 278.4L273.9 277.8L274.4 277.1L275.2 276L276.6 275.8L277.7 274.4L278.6 274.6L279.9 274.7L281.7 274.1L282.4 273L283.2 271.9L284.6 272L285.9 271.4L287 271.1L288.4 270.8L290.1 271.3L291.3 271.5L293.2 270.9L292.8 269.1L294.1 268.3L295.8 268.4L297.3 267.4L299 267.5L299 266.5L299.4 265.1L301.1 264.1L302.1 264.8L303.2 265.3L305 264.7L306.6 265.6L307.9 265.8L309.3 265.5L310.4 265.9L311.9 265.5L313.1 265.5L314.3 265.3L315.7 265.2L316.3 263.8L317.8 262.7L318.7 261.1L320.2 260.6L318.4 260.1L317.1 259.8L316.4 258.4L314.9 258.5L313.4 258.8L312.4 258.7L311.5 259.2L310.2 259.7L308.9 260.2L307.8 260.8L306.9 260L305.5 260.8L305.2 262L303.3 261.9L301.6 261.2L300.1 260.8L298.6 259.8L297.7 260.8L296.8 261.1L295.4 261.7L293.7 261L292 260.6L291.1 261.4L290.1 262.7L288.3 263L287.2 264.2L286 263.3L284.9 263.9L284.1 263L283 263.1L282.2 264.1L280.6 264.4L279.7 263.7L278.3 263.7L276.4 264.4L275.4 263.1L276.9 262.8L278.4 262L280.2 261.3L281.8 260.9L282.3 259.2L283.4 258L284.5 258.4L285.4 257.4L287.2 257.5L288.9 258.3L290.1 258.8L290.9 259.9L292 260.3L293.1 260.1L294.8 260L296.5 259.4L297.5 258.3L296.7 257L298.3 256.5L299.1 255.3L300.9 254.9L301.7 253.8L303.6 254.2L304.9 254.6L306 254.9L306.4 255.7L306.8 257L307.9 257.3L309.3 257.2L310.9 257.3L311.8 255.8L312.5 254.8L313.7 253.8L315.1 254.1L316.8 253.8L318.2 254L319.3 254.4L320.1 254L321.5 254.1L322.6 255.2L323.3 254.1L324.1 253.6L325.1 253.9L326.6 254.3L327.5 255.1L328.2 255.8L329.5 255.4L330.9 254.9L332 254.3L333.6 253.1L334.8 252L335.6 251.4L336.6 250.6L337.5 250.4L338.1 249.8L339.2 249.3L339.9 248.4L340.5 247.7L341.9 248.5L342.9 248.9L344.8 248.7L346.4 249.6L347.5 250.2L348.6 249.7L349.5 249.7L351.2 248.7L352.9 249.5L354.1 249L355.2 249.3L356.7 249.4L358.2 249.3L359.4 248.9L360.4 248.7L361.4 248.7L363.2 249.4L364.8 250.3L365.7 250.7L367.1 250.4L367.9 252.1L369.5 252.1L370.3 252.8L370.9 253.6L372.1 254.4L373.1 255.3L374.4 255.4L376 255.7L376.2 257.3L377.1 258L377.6 258.8L378.2 260L378.5 260.8L379.5 259.9L380.7 260.6L381.4 262L382.9 262L383.8 263.7L385 264L385.9 264.1L386.8 265.2L387.9 265.5L389.5 265.8L390.6 265.4L391.3 266L392.4 266.4L393.5 267.1M386.8 269.7L387.7 270.5L389.7 270.9L390.7 271.7L391.7 272.6M467.1 248.1L466.8 246.5L467.9 245.6L468.8 245.3L469.3 244.1L470.3 243.5L470.8 242.6L471.2 241.5L471.3 239.8L472.4 239.3L473 237.6L474.4 236.4L475.7 235.3L476.7 234.5L477.6 233.8L478.7 232.5L480.2 232.3L479.2 232.7L478.4 233.5L478 234.8L477.6 236.1L476.6 237.2L475.7 237.9L474.4 239.5L474.1 240.7L473.4 242.1L472.1 242.9L471.9 244.2L471.7 246.2L470.9 247.3L470.7 248.6M464.7 248.4L463.3 249L462 248.6L461.5 249.8L460.7 251.2L461.4 252.5L462.7 253M463.9 251.2L464.3 249.9L464.7 248.4M480.3 231.9L481.2 230.9L482 230.2L483.3 228.9L483.7 227.6L484.5 226.9L485.8 227.1L486.6 227L487 225.4L488.1 224.7L488.9 223.6L487.6 223.9L486.6 224.9L486.1 226.7L485.3 227.4L485.5 228.7L484 228.9L483 229.7L482.9 230.7L481.8 231.3L480.3 231.9M492 221.9L493.1 221.2L494.5 220.9L496 220.3L497.4 219.7L498.5 219.5L499.2 218.6L500.8 218.4L501.9 218.5L502.8 218L503.6 217.2L504.7 217.9L506.4 217.5L504.7 217.8L503.7 218L503.1 219.1L501.8 219.3L501 219.7L499.8 220.5L498.2 220.7L496.9 220.3L495.5 220.8L494.4 221.2L493.7 221.6L492 221.9M514.5 216.6L515.1 217.6L515.6 218.8L517 218.8L517.9 218.6L519.4 218.5L520.4 219.4L521.2 220.1L522.4 220L523.6 219.7L525 219.9L525.1 221.4L526.7 222.2L528.1 223.2L526.5 223L525.6 221.4L524.6 220.3L523.4 220.4L522.5 219.9L521.3 218.8L520.6 217.5L519.3 216.9L518.1 216.7L516.8 217.1L515.6 216.6L514.5 216.6M256.4 372.1L257.4 372.5L258.3 372.7L259.2 373.4L260 374L260.2 375.6L260.8 377.1L261.3 377.8L262 379.1L262.9 380.9L261.9 383L263.5 383.4L265.2 383.8L263.9 385.2L263.8 386.3L264.4 387.7L265.3 388.6L265.2 389.6L264.7 390.6L264.4 391.9L264.3 393.2L263.5 393.9L263.5 395.4L263.2 396.6L262.3 397.6L260.9 398.6L260.9 399.8L261.6 400.6L260.1 402L261.2 403.6L262.5 404.3L263.6 405.2L264 407.1L264 409.3L262.9 410.3L261.7 411.6L260.5 412.8L259.1 413.8L258.8 415.5L258.8 416.7L257.7 418.2L257.4 419.7L257.6 421.3L256.5 421L256.1 419.7L254.8 419.8L253.2 419.7L253.4 417.7L254.1 416L253.7 414.9L253.9 414L253.8 413L253.6 411.8L252.8 410L253.4 408.7L251.3 407.8L251.5 406.1L252.8 406.6L254.1 405.9L255.5 407.1L255.3 405.5L256.1 404.7L255.4 403.3L256.9 402.6L258.3 402L258.7 400.9L259.9 399.8L261 398.4L261.2 397L261.6 395.9L261 394.6L260.2 393.8L259.1 392.6L259.9 391.7L260.7 390.9L259.9 390.2L259.9 388.6L259.8 387.1L259.9 385.7L259.8 384.3L259.8 383.2L259.7 382.3L259.7 381.4L258.8 380.4L258.5 378.6L257.6 378.1L256.9 376.9L256.7 375.2L256.5 373.4L256.4 372.1M248.2 423L249.4 423.4L250.5 422.8L251.9 421.8L253.7 422.6L254.7 423.2L255.4 423.8L255.5 425.4L257 426.3L257.9 427.6L258.1 429.6L258.7 430.6L258.6 431.6L258.9 433.1L259.8 433.8L260.7 434.6L261.6 435.9L260.4 437.2L259.8 438.4L259.5 440L260.8 440.8L260.5 442.4L261.2 443.2L261.4 444.1L261.6 445.6L260 446.5L258.2 446.6L258.8 448L258.6 449.2L257.1 448.5L256.5 447.9L256 446.6L255.6 445.4L254.4 444.3L253.7 442.7L252.9 441.1L251.9 440L251.3 439.1L250.9 437.5L248.9 437.4L249 435.9L248.8 434.1L249.5 433.1L249.7 431.6L250 430.5L249.7 429.5L248.9 428.5L248.5 426.9L248.4 425.2L248 423.9L248.2 423M243.8 404.9L243.8 406.5L244.7 407.4L244.6 408.5L244.8 409.5L245.7 410.8L245.3 411.6L245.2 412.8L244 413.7L244.1 415.2L243.7 413.9L243.8 413.1L243 411.4L242 410.7L243.5 410.3L243.7 408.5L243.5 407L243.6 405.7L243.8 404.9M259.8 455.4L260.7 457L260.9 458.1L261.3 459.2L262.4 460.6L262.4 462.1L261.7 462.7L260.4 462.5L261 460.7L260.2 459.5L260.2 458.1L258.6 457.2L257.7 456.3L259 456.2L259.8 455.4M234.7 498.1L235.9 499.3L236.2 501.1L237.3 501.7L236 502.1L235.2 502.8L233.8 503.6L232.8 501.9L231.1 502.4L231.5 501.1L231.7 499.7L232.8 499.6L233.8 499.4L234.7 498.1M129.7 338.6L130.4 340.1L130.6 341.2L130.3 342.6L128.7 343.4L127.4 343.4L125.5 343.9L125.8 342.2L125.3 341.3L125.6 339.9L126.8 339.5L128.1 339.1L129.7 338.6M535.6 459.4L536.7 461L537.7 461.3L537.9 462.6L538.5 463.7L538.8 464.6L539.8 464.1L541.3 463.6L541.8 462.8L542.1 461.6L543.1 460.6L543.5 459.1L544 458L544.6 457.2L544.4 455.8L543.7 454.4L542.9 452.6L543.3 451.1M557.7 451.5L556.6 451.2L555.1 451.4L553.7 451.6L552.9 452.7L552.8 454.6L553.2 456.1L553.7 457.7L554 459L554.6 459.8L555 460.9L554.9 461.8L553.3 462.2L552.6 463.3L552.9 464.3L551.7 464.3L550.6 464L549.5 464.9L548.2 464.6L546.6 465.6L546 467L545.3 468.3L544 468.7L542.7 468.9L541.7 468.5L540.6 467.6L539.4 467.9L538.7 468.3L537.7 469.4L536.8 470.3L535.8 470.5L535.5 468.7L534.6 468.4L533.3 469.1L532.9 468L532.4 466.3L532.7 465.3L532.9 464L532.8 462.5L532 461.5L531.5 460.6L532.2 459.3L532.4 458.2L531.2 458.7L530.7 460L529.9 461.5L528.5 462.1L528.7 463.6L528.5 464.6L529 466.1L530.1 466.9L530.4 468.5L530.9 469.6L531.3 471.3L531.3 472.4L530 473L528.8 473.3L527.5 473.7L526.1 473.8L525.6 475L524.3 474.8L523.5 475.8L522.9 476.4L522.6 477.8L521.9 478.7L521.8 479.8L521.3 480.9L520.3 482.1L519.2 482.7L518.1 483.4L517.3 484.1L516.2 484.2L516.4 485.5L515.8 486.8L514.8 487.6L513.9 488.3L512.7 489.1L511.3 489L509.7 489.8L508.8 488.7L507.8 489L507.6 490.7L508.5 492.5L507.6 491.9L506.5 491.2L504.7 491.9L503.9 491.9L502.6 492.2L501.4 493.1L500.4 493.2L501 494.3L501.2 495.1L501.9 496.1L502.6 496.6L503.6 497.3L505 496.9L506 497.8L506.7 498.9L506.2 500.1L506.9 501.1L507.9 502.2L509 502.4L509.3 504L509.2 505.4L509.4 506.4L508.9 507.8L508.2 508.8L507.4 510L508 511L507.6 512.5L506.3 512.8L504.6 512.9L503.7 512.7L502.2 512.3L501 511.9L499.8 512.8L498.9 511.3L497.8 510.6L496.6 511.4L495.1 510.8L493.8 510.5L492.7 511.5L491.6 510.9L490.3 510.8L489.6 510.2L487.8 510.6L486.8 511.7L485.8 512L486.8 513.3L487 514.3L486.4 515.2L486.3 516.5L485.7 517.3L484.9 518.1L485.9 519L486 520.5L485.8 522.3L484.4 523L482.8 524.1L483.1 525.4L482.9 526.5L482.4 528L482.4 529.3L483.3 530.1L484.1 530.8L482.9 532.2L481.7 533.5L481.9 535.5L482.9 536.5L484.4 536.2L485.3 535.5L486.8 535.9L487.9 536.4L489.7 536.9L491 538.4L492 538.7L492.9 539.2L493.4 540.4L493.3 542L494.7 541.8L496.1 542.1L496 540.3L497.6 539.4L498.6 539.6L499.7 539.6L500.4 540.5L501.4 541.5L503 540.9L503.9 540.3L504.9 539.9L505.8 539.2L507 539.4L508.4 538.5L509.6 537.3L509.9 536.3L510.6 534.7L510.6 533.6L512.1 533.7L513.1 533.4L512.4 532.2L512.8 531.4L512.6 529.9L511.3 528.5L512.2 527.6L513.7 526.9L514 525.4L515.1 524.3L514.6 523.3L515.7 523.6L517.2 522.8L517.4 521.5L518.8 520.8L520.1 520.3L521.7 519.4L521.6 518.5L521.6 517L521.4 516.1L520.8 515L520.8 513.5L522.5 513L523.6 512.2L524.5 512.6L525.9 512.5L527.4 512.6L528 511.6L529.7 511.9L531.4 512.6L531.9 511L533.4 510L534.6 509.7L535.3 509.1L535.5 507.9L536.6 507.2L537.5 508L538.3 508.4L539.8 508.5L540.8 508.4L540.9 510L541.1 511.1L542.3 511.8L543.6 511.7L545.4 512.7L546 513.3L546.7 514.5L548.3 515.2L549.1 515.9L549.6 516.7L551.1 517.1L552.4 517.2L553.1 518L554.3 518.1L555.9 517.7L556.9 518.2L558.8 518.6L559.9 520L560.2 520.8L561.5 521.2L562.3 522.3L562.2 523.5L563.1 525.2L563.4 526.7L562.4 527.7L563.6 526.4L564.4 525.4L565 524.3L565.5 522.5L564.5 520.9L563.2 520.3L563.2 518.8L563.4 516.8L565.3 516.9L566.7 517.2L568.1 517.4L567.8 516.3L566.8 516.3L565.8 515.8L564.4 514.8L563.4 514.7L561.9 514.3L560.7 513.6L559.4 513.8L558.9 512.3L557.2 513.1L556 512.7L555.1 512.4L554.6 511.3L553.4 511.4L552.5 510.8L552.2 509.6L552.4 508.5L551.2 508.3L550.2 507.7L549 507.6L548.5 506.5L546.7 506.1L546 504.2L545.6 502.9L545.5 502L546.3 501.3L547.6 500.9L548.6 499.7L549.4 501.1L549.2 502.3L550.3 501.9L550.9 501.1L551.4 502.7L552.4 502.7L553.4 503.2L554.2 504.3L555.5 505.5L557.1 506L558.7 506.2L560.1 506.7L560.8 507.2L562 507.3L563.4 506.7L564.2 506.4L565.1 507.2L565.4 508.2L566.8 508.3L567.6 507.9L567.9 509.2L568.7 509.6L567.4 510.9L567.4 512.8L569.1 513L570.4 514.5L571.7 515.8L573.2 517L573.5 518.1L574.3 519.5L575.4 519.2L576.6 519.6L577.7 520.4L579.1 520.8L579.3 521.8L579.2 523L580.1 523.8L580.8 524.7L582.4 524.9L582.6 526.1L583.7 526.1L585.2 526.4L586.1 525.8L587 525.6L586.3 523.9L586.3 522.3L584.8 522L584.8 520.3L585.8 519.7L586.4 519L588.1 519.7L588 518.5L587.3 517.9L586.3 517.3L584.7 517.3L583.9 516.9L583 516.1L582.1 515.3L581.7 514.5L581.5 513.4L580.9 512.3L579.7 511.4L581.2 511.2L582.3 511.2L584.1 510.8L583.9 509.5L583.1 508.6L583.3 507.7L584.1 506.6L585 506.1L586.4 506.2L587.5 506.3L588.6 506L589.9 507.2L590.9 505.8L591 504.2L592.3 503.3L593.5 502.4L594.6 501.7L596 500.4L594.2 500.2L592.4 500.1L591.6 498.7L590.9 497.8L589.6 496.6L589.1 495L589 493.8L589.8 493L589.8 491.6L589.7 490L588.7 489.1L588.5 487.2L589.2 486.2L589.6 485.5L589.6 484.2L589.2 483.3L589.7 481.9L589.2 480.5L589.6 479.2L590.7 478.4L592.1 477.7L593.3 478.6L594.5 478.5L596.2 478.2L596.9 477.3L597.1 478.3L596.9 479.4L595.9 480.7L597.6 481L598.7 482.1L599.9 481.9L600.5 480.8L602 480.9L603 480L602.5 478.9L603.4 477.6L604.1 476.5L605.1 474.9L604 475.6L603.4 476.7L602.2 476.3L600.9 476L599.8 474.4L601 473.3L601.3 472.3L601.9 470.6L602.8 470.2L603.5 469.1L603.9 467.8L604.1 467L605 465.4L606.3 464.7L605.8 466.4L605.7 467.7L605.1 469.1L606.7 470.3L607.2 471.5L607.1 472.9L606.4 473.8L606 474.7L607.2 474.6L608.1 475.1L609.6 475.5L611 474.8L612.4 474.6L613.1 475.6L614.5 475.3L615.5 474.9L616.5 474.9L618.1 474.7L619.5 474.2L620.7 474.2L622.5 473.9L623.4 475.1L624.3 475.6L625.5 476.5L625.1 477.9L624.3 478.7L623.4 479.4L622.6 479.7L623 480.9L623.5 482L621.8 482.9L621.7 484.2L620.3 485.1L618.9 486.6L617.6 486.1L615.9 487L615.1 488.1L613.9 487.9L612.6 488.2L611.1 488L609.2 487.9L608.3 488L607.6 489L606.4 489.4L605.6 490.4L604.7 491.7L604.1 492.8L602.5 493.8L601.5 494.4L600.9 495.8L600.2 497L599.7 497.8L598.8 499.4L597.4 499.9L596.3 499.8L596.5 501.5L595.3 503L594.8 504.1L593.3 505L592.3 505.8L591.1 506.2L590.5 507.3L590.2 508.3L590.9 509.2L591.3 510.1L592.2 510.3L593.4 511.1L594.5 512.2L594.5 513.2L594.2 514.6L596 515L597.5 515.2L598.5 516.2L599.4 517.5L600.7 516.5L602.3 517.4L604 517.4L605.6 517L606.8 516.3L607.9 515.8L608.9 515.1L609.6 514.7L609.4 512.9L610.8 512.1L612 512.2L613.2 512.9L614.4 512.8L615.1 511L616.1 510.2L616.7 509L617.9 509.2L619.4 509.5L620.2 508.7L620.2 507.5L620.5 505.7L622.2 505L623.3 504.4L624.3 503.6L625.3 504.5L626 505.9L626.1 507.3L626.7 508L627.7 508.8L628.4 509.9L629.4 511.2L629.3 512.4L629.8 514.1L630.4 516L630.5 517.4L631 519L630.6 521L631.1 522.5L632.3 523.6L632.7 524.7L631.1 525.5L631.6 526.8L630.6 528.2L629 529.1L627.5 529.6L626.4 529.9L625.1 529.7L624 530.5L622.4 530.3L621.8 531.7L620.6 533L619.8 533.8L619 534.4L618.5 535.6L618.2 536.9L616.6 537.7L615.4 537.3L614.5 536.6L613.2 537L611.9 537.3L611.1 537.6L610.6 538.9L609 539.3L608.1 538.1L606.7 538.9L605.8 538.8L604.5 538.5L604 539.5L603.6 540.5L602.6 541.5L601.4 542L600.2 542.1L599.2 542.1L597.9 541.7L596.8 541.6L595.9 541.4L594.7 541.7L593.5 540.8L591.5 540.7L590.2 540.9L589 541.3L587.3 542.4L586 541.9L585.2 543.1L584.7 543.9L584.2 545L584.7 546.3L585.7 546.6L586.9 548.1L585.8 549.6L585.7 551.3L585.8 552.7L584.8 554.4L583.2 555.5L582.1 556.8L580.7 556L579.5 556.3L577.9 555.6L576.6 555.6L575.5 554.1L574.6 554.4L573 554.6L572.2 555.4L571.1 555.3L570.4 554.4L569.2 554L568.6 552.7L567.4 551.2L566.5 550.6L565.6 550.1L564.6 549.6L563.4 549.7L562 549.5L561 549.4L559.4 550.6L557.9 551.3L556.9 551.3L555.1 551.2L553.2 551.1L552.7 549.3L551.5 549L550.2 548.6L548.3 548.5L547.4 547L548 545.3L548.8 544.9L549.3 543.6L549.2 542.5L548 541.5L548.1 540.3L549.1 539.4L548.9 537.7L548.5 536.8L548 535.3L546.8 535.2L545.6 535L544.2 534.8L543.4 534.9L542.2 534.8L541.8 535.8L540.5 536.6L539.4 537.7L538.3 536.7L536.8 535.5L535.8 536.5L535.3 537.3L534.3 536.4L532.5 536.2L532 537.2L531 537.5L530.4 538.7L528.8 538.2L527.6 538.2L526.7 538.4L525.6 539.2L524 538.8L522.2 539.3L521.7 540.7L520.3 540.5L519 541L517.4 541.7L516.4 540.9L515.5 540.8L513.9 541.2L512.2 540.6L511.6 541.7L510.6 542.5L509.6 543.4L508.8 544.1L508.8 545.3L507.3 545.5L505.8 545.4L504.6 546.5L503 546.7L501.9 545.6L500.7 545.6L499.6 545.6L498 546.5L496.7 545.7L495.9 544.9L495.1 543.9L494.3 542.5L493.1 542.7L492.2 542.7L491.9 544.2L491.1 545.3L489.7 546.7L488.2 547.1L486.9 547.3L485.9 548.2L485.3 549.6L485.3 551.3L484.7 550L482.9 549.9L483 551.6L481.1 551.5L480.4 552.6L479.7 554.4L478 554.8L477.4 555.9L477 556.6L476.8 557.8L476 559L476.8 560.5L476.1 561.5L475.6 563.4L474.9 564.6L474.8 565.6L474.8 566.8L473.9 568L472.8 568.3L471.6 569.2L470.7 569.2L469.6 568.6L468 567.7L468.5 569.6L467.3 570.6L466.9 571.7L465.2 572.3L463.6 572.5L462.6 574L461.6 574L460.5 573.1L460.6 574.7L459.5 575.2L457.7 575.4L456.8 576.4L455.7 576.2L454.3 576.3L453.1 577.8L452.6 579.1L452 581L450.1 582L450 584L448.9 584.9L447.3 586.2L445.2 586.7L443.9 587.4L443.8 589.3L442.2 589.4L440.4 591.2L439.7 592.6L438.6 593.4L437.2 594.5L436.2 596.3L436.1 598.1M630.1 534.3L631.5 534.4L632.5 535.4L633.1 536.5L632.8 537.9L633.6 538.1L634.4 539.2L635.9 539L637.2 539.6L638.7 540.5L640 540.4L641.8 541.2L642.7 542.9L643.7 544.2L645.1 543.3L646.8 542.8L648.2 542.9L649 543.2L650.5 544.7L651.7 546.3L652 547.7L652.4 549.5L652.9 550.6L653 552L654 552.2L654.9 552.7L656.5 553.7L657.6 553L659 553.6L660.1 553.9L661 554.6L662.1 555.6L662.8 556.6L663.9 555.8L665 555.3L666.5 555.7L667.9 555.9L669.9 555.3L671.1 557.2L673.2 558.6L674.7 559.4L674.9 560.5L676.4 561.2L677.1 563.4L676.5 564.9L677.5 563.9L678.2 562.7L679.3 562.6L680.6 562.3L681 563.5L682.2 563.8L683 564.3L684.1 565.4L683.8 567.4L686 568.2L687.6 569.9L688.2 572.6L689.9 571.4L691.1 570.9L694 572.2L696 572.3L697.8 571.6L698.8 571.7L700.2 571.4L701.5 571.4L702.8 571.6L704.3 572.1L705.2 571.4L706.3 571.8L708 571.9L709.7 572.3L711.5 573L713.7 573.7L714.6 572.7L716.4 572.2L717.6 572.9L718.7 573.2L720.3 573.7L721.3 573.3L722.7 574.3L724.4 574.5L725.9 573.7L727.3 573.3L728.4 573.1L729.3 574.2L730.4 575.7L731.7 576.6L730.7 574.3L731.6 572.6L732.3 571.4L732 569.6L733.7 571.1L735.4 570.4L737.6 569.5L738.3 567.7L739.1 565.8L739 562.7L740.3 561.5L741.2 560.3L741.4 558.8L742.9 557L744.7 557L745.6 555.8L746.4 554.3L747.4 552.7L747.8 551.5L747.4 550L745.9 547.9L747.8 545.9L750.4 545.3L752.4 542.5L753.5 543.1L754.5 543.8L755.9 545.2L757.4 546.2L757.8 547.1L757.8 548.2L760.5 548.2L760.7 550.9L761.7 553.4L761.3 555.3L761.6 557.7L762.6 559.3L764.2 560.7L765.2 561.6L766.5 562.5L766.5 563.7L766.2 565.2L766.8 566.1L767.1 567.4L767.1 569L767.9 569.9L768.2 571.8L768.4 573.3L768.4 575.8L767.8 578.8L766.5 580.2L767.2 582.1L769.9 581.8L771.3 583.2L773.2 584.3L774.9 587.6L773.5 590.5L771.9 592.1L772.3 594.3L772.2 596.6L773.2 598.1L774.7 599.9L773.9 602M630.1 534.3L631.5 534.7L632.2 535.2L633.2 536L633 537.2L634.2 537.9L635.3 538.9L637 538.2L638.4 537.4L639.6 538.2L641.3 539.3L640.7 537.9L639.7 537.5L639 536L640.4 534.5L640.7 533.3L640.7 532L639.3 530.8L640.1 532.6L640.6 533.7L641.7 533.9L642.7 534.9L642.5 536.8L644 536.4L645.9 537.7L647 537.6L648.3 537.8L649.1 538.8L649.7 540.3L651 540.7L651.8 541.4L652.7 542.7L653.1 543.8L653.9 544.6L654.8 545.3L656 545.8L657.3 545.2L658.9 545L660 544L661.2 544.5L662.8 545L665.5 545.4L666.8 543.8L667.4 545.1L667.6 546.7L669 547.2L670.3 548L671.3 548.6L672.9 548.4L674.1 549.9L675.4 550.1L676.5 551.4L677 552.8L678.1 554L679.6 554.1L680.6 554.2L682 553.7L683 554.6L684.8 555L685.6 553.2L687.4 552.4L689.2 551.5L690.6 551.7L693 552.1L695.3 552.4L696.6 555.5L696.8 558L698.5 557.5L699.4 558.3L700.6 557.9L701.7 558.2L703.3 558.7L705.2 558.6L706.3 560.8L708.2 561.7L710.1 563.7L712.2 564L715.1 561.2L717.6 560.5L717.7 562.6L719.2 564.4L718.5 566.4L718 568.5L718.8 568.4L720.2 568.3L721.4 569.7L722.9 568.7L723.7 567.5L724.3 566.5L725 564.9L726 564.4L726.7 563.8L727.2 562.8L727.1 561.4L726.5 560.4L726.8 558.8L728.2 557.4L729.5 555.9L730.3 554.3L731.3 553.6L732.7 552.7L733.8 550.4L735.1 549.1L735.2 547.6L735.6 546.5L735.6 545.4L734.9 544.2L734.3 542.3L732.4 541L731.3 539.2L732.6 537.1L732.6 534.4L733.7 531.6L734.9 529.8L737.5 528.4L737.8 525.6L738.6 524.1L738.6 522L737.7 521.1L737 519.8L737.3 518.8L738 517.7L738 515.9L739.7 514.6L739.6 512.9L739.5 511.8L740 510.4L739.8 509.1L740 507.9L740.6 506.3L742.3 505.9L743.8 505.3L742.9 503.1L742.3 501.4L742.3 499.8L741.8 498.8L740.8 497.7L739.5 496.9L738.2 495.9L737.9 494.7L738.5 493.3L737 492.2L736.3 490.8L735.8 489L735.6 487.1L736 485.8L735.5 484.9L734 484.1L734 482.6L732.9 481.1L733.9 480.1L734.3 479.3L733.4 478.1L732.6 477.3L731.6 477L731.6 478.7L731.3 479.7L729.5 479.9L728.4 479.8L726.9 479.9L726.5 480.9L725.1 480.5L724.4 478.9L724 480.7L722.6 481.6L721.3 481.8L720.5 482.7L719.2 483.7L718.2 484.4L716.4 484.6L715.1 484.2L714.2 483.5L712.9 482.2L712.3 480.9L710.4 480.5L709 480.5L709.1 482.1L709.3 483.4L708.5 484.3L709.1 486.1L709.9 487.8L709.9 489L710.8 490L710.9 491L710.8 492.2L711.1 493.8L711.4 495.1L712.3 496.5L711.3 498.3L710.3 499.3L709.4 500.5L708.4 501L706.7 501.2L704.8 501.5L703.5 501.5L702.5 500.8L701.1 499.3L699.8 499.4L698.6 500.9L698 499.2L699.1 498.5L698 497.1L696.9 497.5L696.7 498.7L697.8 499.5L698.2 501L699.3 501.2L699.8 502.3L698.9 502.9L697.8 502.8L696.6 502.4L695.7 502.2L695.1 501.4L693.8 501.1L693.1 500.4L692.2 499.2L691 499.1L690 499.1L688.6 499.9L686.7 499.2L686.2 497.5L685.1 497L683.7 497.3L682.9 498.2L681.8 498.8L680.5 498.2L679.2 498.3L678.4 497.8L676.9 497.6L676.4 496.1L676.5 494.7L677.2 493.1L676.4 492.1L677.7 490.6L678.5 490.4L679.6 489.8L681.3 489.7L682.8 490.2L684 490.2L684.8 489.8L685.9 489.7L686.8 490.7L687.9 489.9L689.1 488.4L690.1 489L691.6 489.2L692.7 489.5L693.7 490.1L695.1 489.7L696.6 488.6L697.2 487.4L698.6 486.2L699.8 486L701 485.6L702.9 485.3L704.4 484.4L705.2 482.7L705.9 481.5L706.7 480.2L706.2 479.5L705.6 478.3L707.3 478.8L708.8 478.1L710.3 477.6L711.8 477.9L713 476.7L713.8 474.9L714.7 473.8L715.7 472.8L717 472.6L718.1 473L719.1 471.7L719.9 470.8L720.4 469L722.5 469.2L723.8 468.6L722.5 465.9L724.1 464.4L724 463.1L724.7 461.8L724.6 459.8L724.9 458.2L725.7 457.3L726.6 455.9L727.8 455.7L728.5 454.8L729.7 453.9L730.5 453.3L731.6 451.9L732.8 450.2L733 448.7L732.4 447.8L732.8 446.4L732.5 445.1L734.4 445.8L734.9 445.1L735.9 444.3L737.6 444.7L738.5 443.9L739.3 443.7L740.4 442.5L742.3 442.3L743.2 440.8L745 440.5L746.4 440.6L747.9 439.8L747.4 438.2L747.7 436.4L748.5 435.6L749.3 434.7L748.8 436.1L748.2 437.1L749.1 438.8L749.4 440.1L750.1 440.6L751.3 439.7L752.4 439.6L753.3 438.8L754.3 438.4L755.9 438.1L757.2 438.4L757.8 437.2L759.3 436.8L759.9 435.7L760.6 435.1L760.9 434.1L760.8 432.6L761.3 431.1L760.5 430.3L759.7 429.7L758.5 428.7L757.4 428.7L756.8 426.8L755.4 425.5L756.9 424.3L757.8 424.8L758.9 424.9L760.6 424.9L761.7 426.5L763.2 426.6L763.4 428.2L764.9 429.5L766.8 429.3L768.2 429.7L769 430.8L770.4 430.3L771.1 429.5L772.4 429.1L773.6 429.6L775.4 430.6L776.8 430.7L778.8 430.9L780.1 430.9L781.5 430.1L782.6 430.1L784.1 429.7L785.1 429L786.3 428.6L787.9 428.6L789.2 428.8L790.9 428.8L792.5 429.7L794 430L794.9 430.8L796.1 430.9L797 430.4L798.9 430.2L800.7 428.6L802.5 428.3L803.9 428.6L804.8 428.4L806.1 427.8L808.1 428.2L809.4 428L811 427.1L811.8 426.2L812.7 425.6L814.3 425.7L815.7 426.3L817.1 426.3L819.1 426.8L820.6 426.3L821.6 426.3L823 426.4L824.7 425.5L826 425.9L827.7 425.6L828.8 425L829.7 424.4L830.8 423.4L831.1 422.5L833.1 421.7L834.1 420.7L832.6 419.5L831.4 418.6L831.7 417L830.5 415.8L830.9 414.7L830.9 413.5L829.9 412L829.1 410.9L827.8 409.7L825.9 409.9L824.9 409L824.2 408L824.4 407L824.4 405.5L822.5 405.1L820.2 404.1L818.9 404.8L817.6 405.2L815.6 403.1L813.5 402.6L811.7 401.4L809.6 400.1L807.8 399.8L806.3 400L805 400.1L803.2 401.1L801.2 400.1L799.6 400.1L797.9 399.2L796.6 398.2L795.9 397.1L795.9 396.3L795.8 395.2L795 394.1L794.2 392.5L793.7 391.3L794.2 390.1L792.9 389.3L792.4 388.3L792.4 387.2L792 386.2L792.1 385.1L791.4 383.9L790.2 383.1L789.9 382.2L788.1 382.6L787.5 380.7L786 381.1L784.8 381.5L783.9 380.2L783.2 378.9L783 377.6L782.3 376.4L781.1 374.8L780.7 372.8L780.5 371.4L780.1 370L780.8 368.7L780.4 367.3L778.6 366.8L777.8 365.8L776.8 365.5L775.3 364.4L773.5 364.8L772.2 364.2L771.5 362.9L770.3 362.3L769.7 360.4L770.5 359L769.8 357.4L769.2 356L768.6 354.3L769 352.8L769.5 351.5L768.8 349.9L767.5 348.9L766.9 347.7L766.1 347.1L765.3 346L765.2 344.3L766 342.7L766.9 341.3L767.9 340.8L769.1 340L770.3 340.5L771.7 340.8L773.7 340.5L774.1 338.8L774.1 337.3L775 336.3L776 335.1L777.3 335.2L778.4 334.8L779.5 334.4L780.3 332.9L781.4 332.2L782 331.5L783.7 331.6L784.8 331L785.9 331L786.6 330.1L787.5 328.6L788.8 328.5L789.9 328.3L790.9 328L792.3 328.5L793.7 329.1L795.1 330.2L795.7 328.3L797.7 327.8L797.7 326L798.5 324.3L796.5 324.1L795.5 323.2L794.7 321.5L794.4 319.6L793.1 319L792.5 318.2L791.5 317.5L790.9 316.9L791.3 315L793 314.7L794 313.4L795.7 312.6L796 310.9L797.4 310.9L799.4 310.7L801.1 311.2L802.2 311.6L803.5 311.1L805.2 310.9L805.6 309.5L806.2 308L807.7 308.3L808.8 308.6L809.8 307.4L810.8 306.4L812.4 305.7L813.9 304.9L815.4 304.1L816.5 303.8L818.4 302.9L819.7 304L820.7 304.6L821.8 304.6L823.6 303.5L824.9 302.2L826.2 302.2L827.6 302.2L829.4 302.7L830.8 302.8L831.9 303.3L832.7 303.9L833.8 303.3L834.2 302.4L835 302.1L836.2 302L837.2 301.7L837.7 300.4L838.9 299.8L840.1 300.3L840.9 298.8L841.9 298.1L843.2 297.1L843.6 295.8L844 294.4L844.7 293.1L844.7 291.5L846.2 290.4L847.8 289.4L849.3 290.2L850.2 289.3L850.7 287.9L851.7 287L853 286.2L853.4 285.3L854.8 284.6L855.9 284.1L857 284.2L858.5 282.3L860.3 282.9L861.9 281.8L862.4 280.4L863.4 279.8L864.8 280L866 278.9L867 278.4L867.4 277L868.9 276.2L870.5 274.9L870 272L869.1 270.3L870.2 268.6L870.5 267.3L871 264.3L872.8 262.7L871.2 262.4L870.2 260.8L869.3 260.1L867.9 259.3L867.3 261.6L865.5 262.7L864 262.1L861.7 262L861.9 263.6L861.4 265.7L858.8 265.6L856.8 266.6L855.3 267.6L854.8 268.4L854.3 269.5L852.9 269.1L851.1 269.2L849.9 270.5L848.4 271.3L848.6 272.8L847.8 274.5L847.4 275.7L846.6 276.7L845.5 277.2L844.5 278L843.9 278.7L842.9 279.8L843.4 281L843.3 282.4L843 283.7L843.4 284.9L843 286.1L842.8 287L841.6 287.9L841.1 289L840.1 289.7L839.8 291.2L838.7 292L837.7 292.3L836.9 292.8L835.6 292.3L834.3 293.1L832.9 292.6L831.8 292.9L832.1 294.1L832.8 295.1L831.9 295.5L831.1 296.2L830.9 297.7L829.3 297.7L828.2 298.6L826.8 299.2L825.9 298.3L824.1 298.2L822.6 299.2L821.4 298.6L820.5 298.4L818.9 298L817.9 297.7L816.7 297.2L815.4 296.9L814.3 297.4L813 296.5L811.6 297L811.1 298.4L809.7 297.8L808.9 297.2L807.7 297.2L808.4 295.3L810.2 294.9L809.5 293.6L809.2 292.7L808.9 291.6L809.5 289.9L809.9 288.8L809.5 286.9L811 286.9L811.6 285.7L811.7 284.4L811.8 282.9L812.6 281.8L813.5 281.3L814.9 281L816.1 280.7L816.5 279.2L817.4 278.8L817.3 277.3L818.3 276.3L817.9 274.9L817.3 273.6L817.8 271.8L818.7 270L819.9 269.6L821.4 269.7L822.8 269L822.8 267.8L824 267.5L824.9 267.5L824.9 266.3L825.7 265.3L827 265.3L828.2 265.8L826.4 265L826 263.3L824.5 263.2L824.1 262L823.4 260.9L822.6 259.6L821.6 258.6L820.6 257.9L819.1 258L817.4 257.3L816.1 256.9L815 256.7L813.9 255.3L813.1 253.6L812.7 252.2L812 250.9L810.4 250.7L809.3 250.4L807.9 248.2L805.8 248.2L804.5 247.4L803.8 246.2L802.4 246.6L801.2 246.5L799.8 246.6L798.9 247.5L798.3 248.4L797.5 249.4L795.5 250.5L794 250.6L793.2 251.7L792.2 252.3L791.1 252.9L790.2 254.5L789.1 253.7L787.9 254.4L787.5 255.6L787.4 256.6L786.7 257.4L786.7 258.7L785 259.3L783.7 260L783.6 261.8L782.7 263.1L782.7 264.6L782.1 265.6L781.3 266.6L780.1 267.4L779.2 268.2L778.4 269.4L776.9 270.4L775.8 271L775.6 272.4L775.2 273.9L773.6 273.5L773 274.7L772.5 276.3L770.7 276.6L769.3 276.7L767.8 275.3L767 275.3L765.9 274.6L764.7 273.9L763.8 273.8L762.5 274.3L761.7 273.1L760.1 272.5L761.1 271.5L760.8 270.3L759.5 270.1L758.3 269.3L758.2 268.2L757.8 266.8L757.4 265.9L756.4 264.8L756.1 262.9L756.8 261.6L758.5 260.8L759.7 260.2L760.8 258.8L758.9 258.2L758 257.7L757.2 257.1L755.9 258.2L755.1 257.9L754.4 256.9L753.2 256.3L752.9 254.5L752.3 253.4L751.9 252.2L750.9 251.8L750.1 250.6L749.1 249.2L748.6 247.7L747.3 247.9L746.4 247.5L745.3 246.4L744.7 245.6L744 244.6L743.4 244L742.1 243.5L741.1 244.2L739.6 243.8L738.9 242.7L739.4 241L739.3 239.6L738.7 238.8L737.8 237.7L736.3 236.8L735 236L734.1 234.8L732.9 235L731.9 234.9L730.5 234L729 233.9L728.1 233.2L726.6 232.9L725.3 233.4L724.5 234.3L722.6 234.3L721.8 233.6L721.6 232.4L720.5 231.5L719.4 232.9L718.8 232.3L717.7 231.8L715.8 231.7L714.9 232.3L713.9 232.9L712.7 231.9L711.3 231.4L709.9 230.6L709.5 229.2L708.3 230.2L707.3 230.8L706.1 230.7L705 231.2L703.1 231.9L702.5 232.5L701.6 233.4L699.8 233.6L698.6 232.8L699.6 233.7L700.2 234.7L700.1 235.8L699.1 237L698.2 236.7L697.2 236.4L696 235.8L695.1 235.5L693.6 236.1L693.4 237.2L692.3 237.6L692 238.4L691.8 239.6L691.6 240.8L691.3 242.6L690.5 243.8L689.6 244.8L688.1 246.2L686.2 246.2L685.5 248L685.2 249.4L684.4 250.8L684.9 252.8L683.4 253.5L681.8 252.6L680.7 251.8L679.4 251.6L678.5 250.8L678.1 249.5L677.2 249.4L676.1 249.5L675.1 248.3L674 248.5L672.9 248.4L672 247.5L671.3 249.2L672.2 250.3L672 251.4L672.8 252L673.7 253.2L675.7 253.3L675.5 255.1L676 256.2L675.9 257.1L677.2 257.8L675.9 258.6L674.6 259.3L676 260.5L675.5 261.8L675.1 262.7L673.9 263.4L673.6 264.3L672.7 265L671.6 264.2L670.8 263.5L670 261.8L668.9 260.7L667.8 260.2L666.6 260.7L664.8 261.3L663 260.4L661.3 259.7L661.8 258L660.8 256.5L661.9 255.9L663 255.8L664.7 255.7L666 255.6L667.2 255.4L665.9 254.6L664.4 254.7L663.4 253L662.4 251.3L661.6 250.1L660.5 249.6L658.9 249.2L659.6 247.9L660.9 247.6L661.1 246.3L660.7 245.3L661.4 244.5L662.5 243.8L663.6 242.5L664.6 243.8L664.2 241.9L663.5 240.8L663.1 239.6L663.9 238.1L664.5 236.6L666.2 236.2L667.3 235.4L668.2 234.7L670.1 234L671 233.2L670.7 231.5L671.9 230.1L673.1 230.7L672 230.3L671.2 229.5L670.1 228.1L669.2 227.4L668.1 226.4L666.6 226.4L665.6 225.1L664.4 224.9L663.3 224.9L663 225.9L661.8 226.4L661 227.9L661.1 229L659.4 229.8L658.2 229.8L658.3 231.1L658.1 231.9L657 233L656.3 234.7L656.1 236.4L656.5 238.1L655.1 239L654.4 240.2L652.9 240L651.8 240.2L650.4 240.9L649.1 240.4L647.8 240.7L646.3 239.9L645.4 238.7L644.2 238.7L642.8 238L641.7 238.8L640.4 239L639.9 240.2L638.6 240.5L637.6 240.3L636.8 240L635.8 239.3L634.4 239.3L633.3 237.6L632.7 236.5L632.6 235L631.5 235.5L630.5 235.3L629.4 235L628.1 235.4L626.6 234.3L625.3 234.3L624.8 235.2L624.1 236.3L622.4 236.3L620.6 235.6L619.6 235.3L618.2 235.6L616.9 236.2L616 235.9L614.1 236.4L612.8 237.3L611.4 237.2L610.5 236.3L609.6 236.1L608 235.8L607 236.7L605.1 237.3L605.1 238.7L604.1 239.8L603 240L601.8 240.7L601.8 242L601.2 243.7L599.6 244.1L599.2 245L597.8 245.5L596.4 246.7L594.5 246.1L593.9 247L593.3 248.1L592.9 249.8L591.4 250.8L591.3 252.3L591.2 253.7L591.6 254.7L592 255.6L591.9 256.8L593 257.2L594.3 258.1L595.4 257.9L596.4 258L596.2 259.3L596 261L596.8 261.7L596.9 263.1L595 263.3L593.7 263.8L592.7 263.8L591.4 264.3L589.9 265.1L588.5 265.9L586.6 265.6L585.3 265.2L584.5 264.5L583.4 264.5L581.7 264.5L580.9 265.5L579.6 266M556.5 245.8L558 245.9L559.4 245.7L559.9 244.1L561.2 244.1L561.2 242.2L561.1 241.3L561.3 240L562.4 238.5L563.9 238.7L564.4 236.8L564.5 235.5L564.7 233.5L565.2 232.5L566.4 232.1L566.6 230.6L567 229L567.1 227.3L566.1 226.8L565.4 225.7L563.6 225.8L562.2 226.3L561 226.1L560.1 227.4L560.4 228.2L559.9 229.4L559.1 230L558.4 230.8L557.3 232.4L557.3 233.6L556.4 234.8L555.5 235.3L553.8 235L552.3 234.6L551.3 235.6L550.5 235.2L549.2 235.4L548.4 236.9L547.6 237.7L547 238.3L546.8 239.5L546.2 240.9L545.1 241.9L545.1 243.1L543.8 243.9L545 245.4M499.7 487L501.1 487.8L502.1 486.9L503.8 486.2L505.5 486.1L506.5 485.9L507.5 485.3L508.7 484.8L510.1 484.9L511.2 485L512.2 484.6L514.1 485.1L514.7 484.1L515.2 483.5L515.5 482.3L514.5 482.4L513.4 482L514.6 481L515.1 479.7L515.5 478.6L516 477.9L514.9 476.4L512.9 476.4L512.4 475.7L512.4 474.2L512.3 473.3L511.8 472L511.5 470.3L510.4 469.6L509.5 469.8L509.1 468.4L508.9 466.9L508.3 465.5L507.1 465.4L505.7 465.3L506.1 464.1L507 463.5L506.4 462.2L506.6 461.2L507.4 460.2L508.3 459.6L506.8 459.4L505.5 459.1L504.1 459.8L504.9 458.8L505.8 457.9L506 456.3M502.1 458.5L501.8 459.6L500.5 460.2L499.5 461.5L499.9 462.3L500.8 463.1L499.7 464.1L500.5 465.4L500.9 466.7L502.3 467.6L501.7 469.4L502.9 470.2L504.7 469.2L505.2 470.6L505.6 471.9L504.4 473.3L504.9 474.1L505.8 474.8L504.1 474L502.9 475.4L501.9 476.8L502.3 477.9L502.9 478.7L501.5 479.5L500.5 480L501.6 480.6L502.3 481.3L503.6 482L505.2 482.2L504 481.9L503.3 482.8L501.8 483.4L500.7 484L499.8 485.2L499.7 487M498.6 478.7L499.7 477.4L498.5 476.4L498.6 474.6L499 473.3L499 472.2L500.3 470.7L499.3 469.6L499.3 467.7L497.9 466.8L496.7 467L495.9 468.2L494.3 469.2L492.9 469.7L492 469.5L490.9 470.2L490.3 471.2L489.3 471.6L489.7 472.5L490.7 473.5L491.2 474.7L491.4 476.2L489.9 477.3L488.8 478L489.4 479.2L489.8 480.1L490.7 480.6L491.9 479.9L493.2 479.5L495 479.1L496.3 478.8L497.7 478.5L498.6 478.7M587.5 252.9L587.7 251.7L587.6 250.9L588.2 249.9L588.1 248.6L589 247.7L589.7 246L590.9 245.1L591.4 244.2L591.5 242.9L592 242.2L593 241.6L593.9 240.8L594.3 239.9L595.4 238.5L595 237.3L594.6 235.9L596.5 236.1L597.7 235.8L598.4 236.4L599.7 236.4L600.3 235.9L601.2 235.1L600.8 233.9L600.4 232.8L602 231.9L601.4 230.2L601.7 228.4L602.8 228L603.5 226.4L603.5 228.3L604 229.6L605.5 229.6L606.7 228.3L605.9 229.2L605 229.6L604.7 230.6L604.8 231.7L603.3 232.4L602.2 233.1L601.5 234.6L600.8 235.9L599.3 236.5L598.3 237.5L597.6 239.1L597.2 240.2L596 241.4L594 240.4L594.2 242.1L594.7 243.5L593.7 244.7L593.3 246.6L592.6 247.4L591.5 247.7L591.4 249.2L590.6 249.9L589.7 250.8L589 252.1L587.5 252.9M608.1 227L608.4 225.5L608.6 224.4L608.5 222.5L607.9 221.4L606.6 221.2L606.3 219.7L604.4 219.4L603.4 217.7L604.1 216L605 214.9L604.4 213.6L605.6 214.3L606.2 215L607.7 214.9L608.8 214.8L609.6 215L610.9 214.9L611.9 213.4L613.3 213.7L614.5 214.8L614.9 215.7L615 216.9L615.8 218.1L617 218.5L617.4 219.4L618.3 218.7L619.6 217.9L620.6 218.6L621.5 217.6L620.9 218.7L620.6 219.6L620.2 220.6L619.9 221.9L618.4 222.8L617 223.1L616.3 221.8L615.6 221L614.6 220.6L613.6 221.8L612.5 221.6L611.7 222.8L611 224.2L609.8 225.1L609.6 226.2L608.1 227M619.2 215.2L620.7 214.1L620.9 212.6L620.8 211.4L621.5 209.9L622.1 209L622.4 208L623.3 207.3L623.8 206.5L625.3 205.6L626.5 204.4L627.8 205.2L628.8 205.3L629.2 203.7L630.1 202.7L630.8 201.9L632 201.4L633.2 200.8L633.5 199.6L634.8 199L635.6 198.5L636.7 198L637.6 197.3L638.9 197.9L639.9 198.2L639.9 199.8L641.8 200.3L643.6 199.7L645.3 199.2L646 199.7L647.2 200.3L647.2 201.8L647.8 202.9L649.6 202.9L650.6 202.4L651.9 202.5L653.4 201.8L654.5 202.9L655.1 204.1L655 205.5L653.9 207.1L652.2 207.8L653.5 207.6L654.1 208.6L654.9 210L655.7 210.7L657.6 210.5L657.8 211.7L658.2 212.5L659.3 213.2L660.2 213.7L661.1 214.8L662.4 215.7L663.8 216.3L664.7 216.7L664 217.8L662.8 217.3L662 217.5L660.3 217.1L659.2 216.9L657.9 216.9L657.2 216.3L655.3 215.8L654.3 215.3L652.5 214.9L651.4 213.3L650.7 212.3L650 211.5L648.1 211.2L646.7 210L645.7 210.3L644.8 211.2L643.3 211.7L642.1 211.4L640.8 211.4L639.3 211.6L641 211.7L642 210.1L640.4 210.3L639 209.7L638.3 209L636.9 208.3L635.3 207.7L634.4 209.3L633.4 209.7L632.6 210.1L631.2 209.9L630.1 211.1L628.9 210.6L628 210.4L627.1 211.3L626.6 212.9L626.5 214.4L624.8 215.1L623.6 215.6L622.3 216.7L621 215.8L619.2 215.2M665 216.5L665.4 215.5L664.8 214.4L664.4 213.2L665.7 211.9L666.2 210.7L667.8 210L669.3 209.8L670.7 209.3L671.8 208.6L673.3 208.5L675.2 209.1L675 210.1L675.1 211.7L673.9 213.1L674.2 214.3L673.1 214.3L671.4 214.7L671.5 215.8L670.9 217.5L669.9 217.7L669.1 218.6L668.2 217.8L666.8 217.2L665 216.5M661.2 212.8L659.9 212.6L658.2 211.6L657.3 210.1L656.9 208.6L655.7 208.3L656.4 206.6L657.9 206.6L659.2 206.4L660.2 206.9L661.3 206.7L662.6 207.2L663.7 208L663.5 209.5L663.6 211L661.8 211.7L661.2 212.8M601.3 217.2L600.1 217.4L599.4 217.9L598.3 219.2L596.8 218.8L595.8 218.4L595 216.8L594 215.9L592.5 215.4L590.9 215.8L589 216.3L587.3 216.8L586.3 216.8L585.2 217.6L583.7 217.1L582.5 217.1L583.4 216.3L584.7 216.6L586.2 216.3L587.8 215.7L589.6 215.5L590.5 214.9L591.8 214.8L592.6 214.3L593.2 214.9L594.4 215.1L596 215.5L597.5 215.2L598.5 215.3L599.5 215.5L600.3 216.2L601.3 217.2M578.4 219.3L578 220.9L576.9 221.5L576 221.5L574.9 221.9L572.9 222.1L572 223L570.8 223L569.8 223.8L569.6 224.7L567.7 224.7L568.5 223.8L569.3 223.4L570.4 222.5L571.4 222.2L572.1 221.3L573.2 220.2L574 220.6L575.3 221.2L576.6 220.6L577.7 219.9L578.4 219.3M717.4 223.5L718.3 222.5L718.3 220.5L719.7 220.2L720.5 219.5L722.2 218.5L722.7 216.3L724.2 217.4L724.8 218.4L726.1 218L726.9 218.3L728.3 218.2L729.3 218.1L730.8 219.3L732.4 218.1L732.1 219.5L731.1 220.6L730.8 222.3L729.8 223.2L728.7 223.3L727.2 223.5L725.5 222.7L724.8 223.3L723.4 223L721.9 223.8L722.8 225.2L720.9 225.5L719.3 224.9L718.1 224.2L717.4 223.5M761.8 257L762.6 256.4L763.5 255.7L762.7 254.8L762 253.4L763.4 253.2L764.7 253.3L765.8 253.3L767 254L768.4 254.5L769.2 255.4L769.8 256L770.6 257.1L771.5 257.5L771.7 258.6L771.1 260L770.1 260.6L769.9 262.1L768.6 262.8L767.7 262.2L766.6 263.2L765.9 262.5L765.2 261.6L764.1 261.3L763 260.5L762.5 258.7L761.8 257M747.7 210L746.8 209.3L746.1 208.4L745.4 207.7L745 206.3L745 204.8L743.7 203.5L744.6 202.8L745.2 202L746.7 201.7L746.5 199.9L747.7 198.8L749 198.8L749.9 199L751.6 199.5L752.6 199.9L753.6 199.8L755 199.4L756.1 199.3L757.8 198.9L759.1 199.5L760.6 198.8L760.9 197.5L761.4 195.7L762.8 195.2L763.9 193.9L762.8 192.9L762.1 191.2L761.4 190.6L760.7 189.8L760 188.9L759 188.4L758.6 187.5L758.5 186.3L758.2 184.8L758.8 183L760 182.2L761.4 181.9L762.4 182.3L763.5 181.4L764.5 180.7L765.3 180.2L765 178.8L764.6 180.6L764.6 181.9L766.1 182.1L764.8 183.3L764.4 185L763.4 186L763.4 187.8L763.5 189.2L764.2 189.8L765 190.6L764.9 191.9L765.3 193L766.4 194L767.3 194.8L767.8 196.2L767.7 198.2L766.3 197.9L765.4 198.8L763.8 198.7L764.9 199.9L764.5 201.3L765.1 202.1L763.7 203.4L762.4 204.4L761.2 204.9L760.3 205.6L759.8 207.5L758.3 207.5L756.8 206.4L755.8 206.8L754.7 206.6L753.7 208L752.5 208.3L751.9 210L751 211L749.7 210.9L748.8 211.1L747.7 210M773 163.9L771.7 161.8L773.6 160.4L773.5 159.3L774.4 158.3L775.8 157.1L775.7 155.7L775.4 154.5L775.5 153L776.7 152.9L777.6 151.9L778.3 150.9L779.5 150.6L781.1 150.4L782.5 149.3L783.1 148.2L784.8 147.8L785.3 148.7L785.9 149.5L787.6 149.2L789 149.5L790.8 149.6L792 149.6L793.1 149.7L791.8 150.6L792.2 152.3L790.4 152.6L789.3 153.8L789.9 154.4L790.4 155.6L790.2 157L792.1 157.3L792.8 158.2L793.9 159.3L792.3 159.4L791.1 160.5L790.2 161.9L789 162.6L790 164.1L790.4 165.2L790.7 166.3L792 167.3L793 168.1L793.8 168.4L795.1 169.7L796.3 170.4L797.3 171.1L795.5 171.3L794 171.6L792.8 172.9L791.7 173.3L789.9 172.6L790.1 171.4L789.6 170.3L788 170.3L786.4 170.7L785.5 169.9L784.8 168.9L784.5 167.2L783.5 166.7L782.7 166.1L781.6 165.8L780.6 164.8L779.7 163.9L778.7 163.4L777.7 161.7L776.4 161.4L775.3 162.3L774.2 162.4L773 163.9M764.1 177.4L762.9 176.7L761.8 175.4L761.1 174.4L761.1 173.1L761.9 171.5L763.1 170L764.1 169L765.3 168.9L765.7 167.2L767 166.2L767.9 166.7L769.1 166L771.1 166L772.5 167.1L772.3 168.6L772 170L771.1 170.6L770 171.4L770.4 172.8L769.9 173.8L768.8 174.4L768 175L767.1 176.1L766.6 177.4L765.6 177.4L764.1 177.4M774.1 185.7L774.7 183.8L773.4 182.8L773.9 181.3L772.6 180.2L774.6 179L776.1 179.8L776.4 178.4L777.1 177.2L778.2 176.3L778.6 175.4L778.7 174.2L780.5 174.3L781.5 175L782.7 175.5L784 176.1L782.7 177.1L781.5 178L780.6 179.6L780.5 180.5L780.2 181.8L778.9 181.6L777.9 182L776.3 181.6L776.1 182.5L774.9 183.3L774.6 184.3L774.1 185.7M803.2 199.1L801.9 198.2L800.2 197.3L799.2 197.2L798 197L796.9 196.7L795.8 197.9L794.6 197.3L793.4 196.6L792.7 195.5L792.3 194.7L790.7 194.3L789.4 193.6L788.3 194L786.7 193.9L784.7 194.9L783.4 195.9L784.4 195.4L785.2 195L786.4 195.5L787.9 195L789.2 194.8L791.1 194.7L792.2 194.6L793.7 193.7L794.2 195.4L795 196.4L796.3 195.9L798.3 196.1L799.6 196.6L800.8 197.1L801.6 198.2L803.2 199.1M770.8 197L770.9 195.8L771 194.9L769.6 194.3L768.7 193.1L769 191.9L769.8 191.4L770.8 190.9L772.1 190.1L773.7 190.3L773.5 191.5L773.7 193.4L773.3 194.5L772.6 195.6L771.2 195.9L770.8 197M858.1 226.8L858.7 225.4L858.1 224L858.5 222.2L858.3 220.7L857.2 220.2L857.2 218.4L856.6 217.1L855.4 217.6L853.9 216.8L852.5 217.3L851.1 217.2L850.1 215.7L849 214.8L846.8 214.5L846.2 212.8L845.1 212.7L844.5 211.6L843.4 210.7L843 208.9L841.8 210.7L840.7 212.9L838.1 212.5L836.5 211.2L835.9 209.7L834.4 209.2L832.9 208.6L833.1 206.4L832.1 205.2L831.3 204.1L829.8 203.4L829.9 202.1L828 202.9L826.7 200.5L825.3 200.3L823.7 200.7L823.3 199.6L822 199.3L820.3 198.9L818.9 198.5L817.3 197.2L815.9 195.8L814.5 196.6L812.8 197.5L813.4 196.1L814.3 195.1L814 193.9L813.6 192.4L813 191.4L813.6 189.9L814.4 188L813.8 187L813.3 185.2L815.2 184.5L815 182.9L815.7 181.1L817.6 180.8L819.2 181L820.1 182L821.5 182.8L823 183.8L824.2 183.8L825.9 184.6L825.5 182.9L826.1 181.9L826.1 179.3L827.5 177.8L829.3 177.1L831.1 177L832.2 178.3L833.4 178.5L833.3 177.4L833.4 175.8L832.7 174.4L833.4 173.1L835.7 173.5L837.2 172.9L838.9 170.7L838.8 168.3L839.6 169.1L841.1 169.8L841.9 170.7L843 171.1L843.5 172.8L844.5 173.5L844.6 174.8L845.7 175.5L847.1 174.5L848.3 173L849.9 173.1L851.2 174.1L852.1 172.8L854 171.4L855.1 172.3L855.5 173.7L856.5 173.8L857.5 173.9L858.4 174.6L859.3 174.9L860.4 174.6L861.3 175.2L863 175.2L864.5 174.4L865.5 173.5L866.9 172.5L868.5 172.7L869.5 171.9L871.2 171.9L872.4 171.9L873.6 172L874.8 171.5L875.8 171.7L877.3 170.7L878.5 170.7L878.9 172.3L879.3 173.8L878.8 175.1L878.8 176.4L879.5 178.5L881.2 178.8L882.4 179.5L883 180.3L881.6 181.5L880.3 182.5L880.5 184.6L881.4 185.7L882.4 187.3L881.9 189.4L881.9 190.5L882.1 192.3L881.8 193.6L882.2 195.5L882.5 197.2L883.8 197.6L883.5 198.6L884.4 199.8L886.2 200.5L884.6 201L885 203L885.8 205.4L884.4 207L885.2 208L885.2 209L885.7 210.1L886.7 211.5L886.2 212.6L884.5 212.9L883 214.2L882.2 215.4L881.5 216.1L880.1 215.5L878.8 215.9L878.6 217.1L878.3 218.2L878.4 219.7L877.1 220.5L876 221L874.7 221.8L874.2 223.2L873 223.4L871.6 224.2L870 224.9L868.2 225.1L868.6 226.4L867.4 227.5L866.4 227.1L865.3 227.7L864 228L862.4 227.6L861.5 227.6L860.2 227.5L859.1 227.1L858.1 226.8M855.3 317.5L855.8 315.8L856.6 313.9L857.3 312L856.7 310.3L856.5 308.5L856.6 306.5L856.5 305L856.2 304L856.9 303.1L857.8 302.7L858.7 302L860 302.2L861.2 301.1L861.2 299.3L861.2 297.4L862.7 296.9L864.6 295.9L867.1 294.1L869 293.8L869.6 291.9L870.2 290.3L870.3 289.1L869.1 287.6L870.4 286.1L870.9 285.1L871.2 283.4L872.1 282.5L872.5 281.1L872.4 279.3L873.6 278.3L873.6 276.6L873.9 275.3L873.1 274.6L873.6 272.6L874.5 270.7L875 268.8L876.8 268.5L877.4 267.6L878.8 267.3L879.7 266.5L880.8 266.8L880.9 265L881.5 263.3L881.4 262.1L881.7 260.6L882.9 260.3L883.7 259.7L884.6 258.7L885.3 257.9L886.8 257.1L887.4 255.8L888.2 254.6L889.8 254L890.9 253.4L891.8 252.4L892.5 251.7L893.2 250.8L894.1 249.9L894.4 248.8L895.5 247.1L895.6 245.3L896.6 243.2L895.3 241.7L896.1 240.5L897.1 238.9L899.5 237.7L902 238.2L904.6 238.1L906.6 239.2L908.8 238.7L911.2 237.9L915.3 237.5L916.9 234.8L916.4 236.1L915.2 236.4L916.2 237.5L915.3 238.9L915.6 240.5L916.5 241.7L917.9 241.7L919.2 243.3L917.7 245.2L916.7 247.3L915.5 248.7L913.7 249.5L914.3 251.3L913.7 252.4L912.9 254.7L912.7 256.8L911.2 257.9L910.5 259.4L909.2 259.3L908.9 260.7L909.1 261.9L908.9 263.6L908 265.2L907.2 266L905.6 266.6L904.3 267.9L903.4 269.1L903.3 270.5L902.3 272.2L901.9 273.6L900.4 274.3L899.6 274.8L898.4 275.6L897.4 276.9L896 278.3L895.9 280.4L894.6 279.5L892.7 280.2L891.1 281.6L889.5 282.8L887.8 282.4L885.9 283.9L886.4 285.9L886.9 287.8L885.9 289L884.3 290.4L882.4 290.8L881.1 292.2L880.1 292.3L879 293.1L878.3 294.4L876.4 294.9L874.4 295.5L873.3 296.5L872.4 299.2L873.3 301.3L872.6 302.6L872.2 303.9L870.7 304.5L868.9 305.5L868.5 307.2L868.8 308.3L868.2 309.2L866.9 310.4L865.3 311.3L864.5 312.6L862.7 311.6L861.5 312.6L859.6 312.7L858 313.4L857 314.2L855.4 315.4L856 316.6L855.3 317.5M925.2 237.1L923.6 237.1L922.8 235.4L921.9 234.4L921.2 233.5L920.8 232.6L919.9 231.2L918.1 231.2L916.9 229.4L916.7 227.9L915.8 225.5L915.6 223.6L916 221.1L916.3 219.2L915.7 217L914.8 215.2L916 214.2L916.6 212.4L916.5 211L916.1 208.8L917.7 205.9L915.7 204.6L912.7 203.5L912.2 202L911 200.2L910.2 198.5L909.7 196.7L910.4 194.9L910 192.7L908 190.8L906.3 189.7L905.9 188.1L907.6 186.9L907.8 185.6L908.4 183.5L907.5 181.9L906.9 180.4L906.8 178.9L906.7 177.8L908.3 174.7L906.3 172.6L908.5 171.2L908.6 168.7L909.9 168L911.1 167.8L913.1 167.6L914.5 166.8L913.4 170L912.5 172.9L912.5 176.2L912.9 178.9L914.5 180.6L916 181.9L917.8 183.5L919.7 184.7L921.1 185.6L921.6 187.6L920 190.2L921.2 192.7L921.9 193.9L922.2 195.9L923.6 197.7L923 199.8L925.4 200.9L925.8 202.8L926.6 203.8L928 205.1L928.2 207.4L927.8 210.2L926.4 212.2L926.5 214.7L928.1 215.5L930.3 216.9L930 218.3L929.3 220L929.1 222.1L930 223.9L927.8 225.4L926.2 226.7L926.8 227.8L926.9 228.8L926.9 230.5L927.2 231.8L926.1 232.8L925.8 233.8L925.2 235.4L925.2 237.1M835.6 162.6L834.2 161.5L834.3 160.4L833.3 159.6L832.3 158.9L830.6 158L830.8 155.9L829.8 154.3L830.7 151.7L831.5 150.1L830 149.8L828.5 148.9L826.7 148L825.4 145.9L824.4 143.8L823.4 142.5L823.1 139.5L821.1 138.5L820 136.3L818.4 137.7L816.5 136.5L814.4 137.7L815.7 137.1L816.7 137.8L817.3 136.6L818.7 136.1L820.3 136.2L821.3 135.6L822.6 135.9L823.3 136.8L824.2 137.4L824.9 138.6L825.6 139.3L826.1 140.4L826.4 141.7L828 142.5L828.7 143.8L828.2 145.1L829 146.6L829.1 148L830 149.5L831.1 149.8L831.9 151.1L832.7 152L833.4 152.5L834.6 153.6L834.8 154.9L836.7 155.6L837.4 156.6L838.3 157.3L838.7 158L838.9 159.2L840.3 160.1L841.4 159.8L843.4 160L844.4 158.9L844.8 157.7L845.6 156L846.9 155L846.2 153.7L845.2 153.1L844.1 152.1L844.8 150.9L844.8 149.4L843.5 148.8L842.3 148.5L841 147.6L839.1 147.5L838.4 145.6L839.2 144.3L837.8 142.6L836.5 141.1L834.8 140.7L834.8 138.8L835.4 137L836.7 137.7L838 138.1L839.1 138.1L839.7 139.5L840.5 140.2L841.4 141.4L843 141.1L844.7 141.5L845.6 141L846.8 140.4L848.4 141.1L849.4 140.7L850.3 140.2L851.7 139.6L852.1 138.3L852.1 136.5L853.9 135.8L854.9 135.1L854.8 133.6L855.1 132.2L855.5 130.7L855.1 129.2L856.5 128.1L857.8 127.4L858.8 126.7L859.6 125.4L860 126.9L860.5 128.2L861 129.9L862.1 131.3L862.4 132.2L863.6 133.1L863.8 135.3L863.7 137.8L861 137.5L859.3 137.8L858 139.3L857.2 141.1L856.6 142.2L855.4 143.1L855.9 143.9L857.1 144.4L858.8 144.5L858.8 146L862.2 144.2L863 141.6L865 142L867.1 141.2L869.4 140.8L870.9 140.2L872.2 139.2L873 137.6L874.6 138.8L875.6 140L877 141.3L876.6 142.1L876.3 143.3L875.4 145.3L873.5 147L871.8 145.5L869.9 145.8L868.5 146.9L868.2 149.4L865.4 148.9L863.8 150.4L863.1 151.4L863.2 152.5L863.4 154.1L862.4 155.2L860.9 155.2L859.9 155.7L858.2 155.8L856.8 157.7L855.6 158L854.7 158.6L853.4 159.1L853.4 160.2L852.2 160.2L851 159.9L848.5 160.7L847.5 158.8L846.4 159.7L845.2 159.9L843.5 160.6L842 160.4L840.9 162.1L840 162.3L838.7 162.2L836.8 162.7L835.6 162.6M808.5 122L806.7 122.2L805.6 122.4L804.9 123.3L804 124.4L802.3 124.2L801.4 123.4L802.1 122.1L802.4 121.2L801.1 119.9L800.9 118.5L802.1 117L803.1 117.6L804.6 117.2L806.1 115.6L808 116.5L809.3 116.8L810 116L811.6 115.3L812.2 114.3L813.8 113.5L815.6 113.7L817.1 113.7L816.3 114.7L816.1 115.5L815.7 117.1L813.8 117.6L813 119.8L813.2 121.8L810.4 121.4L808.5 122M827.3 404.9L828.3 404L829.4 402.9L831.1 403.4L833 402.3L834.4 401.4L835.1 400.4L835.8 399.4L837.4 399.2L838.6 398.6L839.2 399.5L840.5 400L841.7 399.3L843.4 398.9L844.5 398.2L845 397.3L845.6 398.4L845.8 399.5L846.8 399.9L848 399.6L848.7 400.2L849.9 401L849.5 402.7L850 403.8L849.8 405.6L849.4 407.5L848.1 408.4L846.2 407.9L844.8 408.6L843.1 408.8L842.2 409.5L840.7 409.1L839.3 409.8L837.4 410.2L836.3 409.7L835.5 408.6L834.5 407.3L832.7 407.8L831.6 407.6L830.3 407.8L829.3 407.5L828.3 407.2L827.7 405.8L827.3 404.9M536.9 520.7L538.6 519.8L539.7 519.7L541 519.7L541.1 521L541.7 521.6L541.6 523.1L541.2 524.7L542.4 526L541.9 527.4L540.6 528.3L539.3 527.6L538.4 526.6L538.2 525.5L538.8 524L537.8 522.7L537.1 521.6L536.9 520.7M537 513.1L538.3 512.6L539.5 512.3L539 513.7L539.5 514.8L540 516.1L540.3 517L539.4 517.6L538.4 518.5L537.9 517.1L536.5 516.4L536.8 514.9L537 513.1M552.3 530.2L553.1 528.9L554.1 528.1L555.6 526.7L556.5 524.4L557.2 525.7L559 526.9L560 526.3L561.5 527.1L561.2 528.1L562 529.2L561.9 530.8L561.9 532.1L560.7 531.4L559.2 532.3L557.6 533.2L556.3 533.1L554.7 532.8L554.1 531.5L553.3 531.1L552.3 530.2M590.6 528.6L592.2 527.8L593.6 528.4L595.4 528.9L596.6 529.1L597.6 528.1L598 527L599 525.7L598.9 527.1L598 527.1L596.8 527.1L595.5 528L594.6 528.6L593.6 528.7L592.6 529.3L591.1 529.8L590.6 528.6M617.9 516.5L618.6 515.8L619 514.4L619.2 512.4L621.1 511.9L621.9 511.3L622.8 510.2L622.6 511.9L622.8 513.3L621.5 514.7L621.3 516.4L620.3 517L618.9 516.7L617.9 516.5M519.7 528.4L521.6 528.2L522.7 526.6L522.2 528L522.2 529.1L520.5 529.2L519.7 528.4M532.8 466.2L534.3 465.2L534.7 467L532.8 466.2M534.6 464.4L536.4 463.5L537.3 462.7L537.6 464.1L537.6 465.7L536.8 466.1L535.5 466.1L534.6 464.4M546.3 453.2L547.8 452.7L548.3 454L548 455L547.9 456L546.6 455.3L546.1 454.3L546.3 453.2M625.9 455.3L626.4 453.8L627.2 452.2L627.7 450.6L627.3 449.5L627.5 447.8L628.9 446.6L629.8 445.7L629.9 444.5L629.9 443L630.8 441.2L631.8 441.1L633.3 440.5L634.8 440.6L635.3 442L636.3 442.8L637 443.3L636.3 445.1L635.4 446.2L635 447.7L635.5 449.1L635.2 450.7L635.8 451.6L636.9 452.2L637.7 453.2L638.4 453.6L640 452.8L641.1 452L642.5 450.9L643.6 451.3L644.9 451.1L645.6 451.9L646.5 452.4L647.5 451.7L648.5 452.8L649.8 454L651 453.6L652.1 454.7L653.1 455.6L654.4 455.2L656.2 455.9L657.8 455.9L659.6 456.4L659.4 457.5L660.8 458L662.5 457.7L663.5 458.3L662.9 459.4L664.1 460.5L664.6 461.9L663.1 462.7L662.7 464.3L663.8 465.3L662.2 466.5L662.2 468.2L662.4 469.7L661.3 469.9L660.3 469.6L658.4 469.8L657.2 470.1L655.7 470.2L654.5 471L653.3 472L652.1 471.5L651.4 470.8L650.3 470.4L649.2 469.2L649.2 468.3L649.1 467.1L648.1 465.6L647.3 464.5L646.1 464.1L644.6 464.2L643.4 463.1L642 462.9L641.4 461.6L639.8 460.7L638.3 460.2L637.7 461.3L636.6 461.2L635 461L633.5 460L632.6 459.1L631.7 458.8L630 458L628.4 458.4L627.1 457L626.4 456.1L625.9 455.3M641.5 428.5L641.9 426.8L643.3 426.3L643.5 425.1L645 425.4L646.2 425.4L647.3 424.8L647.9 423.8L648.8 423.5L649.3 425.1L650.5 425.5L651.8 426.7L653.3 427.5L653.2 428.5L653 429.8L652.5 430.9L652.2 431.8L651.5 432.9L650.5 433.5L649.3 433.1L648.1 432.6L647.1 432.5L646 431.9L645.4 431L644.6 429.9L642.8 429.3L641.5 428.5M640.7 317.7L639.7 316.7L639.1 315.8L637.5 316.3L636.5 314.8L635.9 313.8L634.5 313L633.1 311.9L631.7 311.6L630.8 312.4L630.1 312.8L628.9 313.2L627.3 313.9L626.9 312.4L625.7 312.1L624.6 311.2L623.4 309.9L623.1 311.1L624.8 310.8L626.1 312L627.3 311.6L628.2 312.7L629.3 313.7L631 314.2L632.4 314.8L633.6 314.7L634.7 315.3L635.4 316.3L637.2 316.9L638.1 317.6L639.2 317.6L640.7 317.7M661.3 393.5L660.9 391.9L660.3 390.4L659.7 389.2L659.9 388.3L658.9 387.8L658.2 387.1L658.7 385.5L660.6 385.5L660.7 383.7L659.8 382L660.1 380.5L660.3 379.6L660.3 378.1L661.2 378.9L661.7 379.7L661.6 381.1L661.2 382.4L660.5 383.3L660.7 385L661.2 386.4L661.5 387.4L661.5 388.9L662.6 390.1L663.9 391.4L662.4 392.6L661.3 393.5M440.9 562.9L442 563L443 562.4L444 562.9L444.3 564L443.1 564.4L442.3 564.5L441.9 563.6L440.9 562.9M445.6 566.3L446.7 565.8L447.7 565.7L448.3 566.6L449.1 567.3L447.7 567.3L447 567.9L446 567.2L445.6 566.3M449.1 568.7L449.9 567.9L451.1 568.1L451.7 568.8L452.5 569.7L451.6 570.3L450.5 570.3L449.8 569.5L449.1 568.7M455.7 568.7L456.5 568.3L457.7 568L458.5 568.6L459.1 569.5L458.4 569.9L457.1 570.2L456.3 569.3L455.7 568.7M458 566L458.8 565.9L459.9 565.3L461 566.1L461.4 566.8L460.4 566.8L459.4 567.5L459.1 566.6L458 566M449.6 547.2L451.5 546.7L452.7 548.2L450.8 548.8L449.6 547.2M418.4 502L420.2 501.9L420.8 503.5L419.1 503.6L418.4 502M423.7 509.3L425.4 509.1L426.2 510.7L424.4 510.9L423.7 509.3M427.5 510.9L429.3 510.7L430.1 512.2L428.3 512.5L427.5 510.9M430.7 516.7L432.5 516.4L433.4 517.9L431.6 518.3L430.7 516.7M322.2 437.3L323.9 438.3L323.6 440.2L322 439.2L322.2 437.3M282.1 395.3L283.1 396.1L283.5 397.1L283.1 398.2L282.9 399.3L282.3 398.5L281.5 397.5L281.9 396.6L282.1 395.3M276 400.4L276.5 401.3L277.5 402.2L276.9 403.2L277 404.5L275.7 403.9L275.5 402.6L275.6 401.4L276 400.4M271.8 398.6L272.5 399.6L273.3 400.5L273.2 401.6L272.7 402.8L272.7 401.7L271.3 400.9L271.1 399.7L271.8 398.6M274.3 405.5L275.9 406L275.8 407.4L275.9 408.8L275.3 409.7L274.6 408.9L273.8 407.8L274.5 406.5L274.3 405.5M270.9 409.5L271.7 410.3L272.5 411.3L272.2 412.4L272 413.7L270.6 413L270.4 411.8L271.1 410.5L270.9 409.5M269.3 412.6L270.3 413.7L270.8 414.4L271.1 415.6L270.4 416.8L269.6 415.5L268.8 415L268.4 413.9L269.3 412.6M268 417L268.9 418L269.6 418.9L269.6 420L269.2 421.3L268.4 420.4L267.6 419.4L267.9 418.5L268 417M262 422.5L262.3 423.9L263.7 424.3L263.4 425.5L263.3 426.8L262.6 426L261.6 425L262.2 423.7L262 422.5M266.8 426.7L268.2 427.3L268.5 428.5L268.1 429.7L268.2 430.9L267.2 430L266.5 429.1L265.9 428.1L266.8 426.7M260.7 421.4L261 422.7L262.3 423.3L261.7 424.3L262 425.8L260.9 424.8L260.3 423.9L260.7 422.6L260.7 421.4M263.2 464.9L264.9 465.7L264.4 467.5L262.6 466.7L263.2 464.9M266 473.1L267.8 473.8L267.3 475.7L265.5 475L266 473.1M262.8 475.8L264.6 476.5L264.1 478.4L262.3 477.7L262.8 475.8M264.2 480.6L266 481.3L265.5 483.2L263.7 482.5L264.2 480.6M260.8 484.1L262.6 484.8L262.2 486.8L260.3 486.1L260.8 484.1M257.6 487L259.4 487.7L259 489.6L258.1 489.6L257.1 488.9L257.6 488L257.6 487M254.6 490.3L255.7 490.4L256.5 491L256.7 492.4L256.1 493L254.9 493L254.2 492.3L254.5 491.4L254.6 490.3M251.3 492.1L252.6 492.1L253.2 492.8L253.2 494L252.8 494.9L251.9 494.2L250.9 494.1L250.9 493L251.3 492.1M247.5 493L248.9 492.8L249.5 493.7L249.2 494.6L249 495.8L248.3 495.2L247.1 495L247 493.7L247.5 493M241 493.5L242 493.9L242.9 494.3L242.5 495.5L242.5 496.3L241.7 495.8L240.5 495.6L241.2 494.5L241 493.5M251.9 500.8L252.7 501.7L253.9 501.5L253.5 502.6L253.5 503.5L252.7 502.9L251.5 502.8L251.5 501.7L251.9 500.8M225.4 457.7L226.2 457.9L227.2 458.7L226.3 459.6L226.5 460.7L225.5 460.2L224.7 459.7L225 458.5L225.4 457.7M225.1 452.1L225.8 452.5L226.9 453.1L226.2 454L226.2 455.1L225.3 454.8L224.3 454.1L224.7 453.2L225.1 452.1M230.2 485.6L230.9 486.5L232.1 486.5L231.5 487.2L231.6 488.6L230.9 487.9L229.6 487.7L229.7 486.4L230.2 485.6M245.5 388.7L246.7 389.1L247.3 390.3L246.8 391.3L246.1 392.4L244.6 391.8L244.3 390.8L245.3 389.9L245.5 388.7M255.8 379.9L256.2 381L257.4 381.5L257.6 382.6L256.2 383.5L255.4 382.6L254.5 381.8L254.7 380.7L255.8 379.9M248.4 361.7L249.1 362.9L250 363.5L249.1 364.1L248.6 365.4L247.7 364.3L247 363.7L247.5 362.3L248.4 361.7M192.7 406.2L193.9 407L194.8 408.1L194.3 409.7L193.5 410.7L192.6 409.4L191.4 408.8L192 407.5L192.7 406.2M181.5 395.2L182.7 396.3L183.6 397.2L182 398.3L182.2 399.8L181.3 399L180.1 397.7L180.4 396.4L181.5 395.2M408.5 108.5L407.9 109.4L407.4 110.6L406.2 110.9L405.2 110L405.8 108.9L406.2 107.9L407.6 108L408.5 108.5M417 108.7L416.8 110L415.8 110.8L414.7 111L413.6 110.1L414.1 109.1L414.7 108.1L415.8 108.3L417 108.7M424.1 108.6L423.9 109.8L422.9 110.6L421.7 110L420.8 109.9L421.2 109L421.9 107.9L422.9 107.9L424.1 108.6M850.3 455.3L850.2 453.7L849.3 452.4L850.6 451.9L851.8 450.5L851.2 452.3L852.9 453.4L851 453.2L851.1 454.3L850.3 455.3M836.2 449.6L835.3 448.6L835.2 446.8L836.5 445.7L837.6 445.1L837.9 446.5L838.6 447.8L837.6 449.2L836.2 449.6M810.8 444L810.9 442.6L809.8 441.4L811.6 441.2L812.1 439.8L812.8 440.7L813 442.4L812.2 443.6L810.8 444M816.9 336.5L816.1 335.7L815.2 334.5L816.1 333.4L816.7 332.3L817.4 333.4L818.5 334.3L818.2 336.2L816.9 336.5M825.2 336.2L824.8 334.5L823.4 334.1L824.7 333.2L825 331.8L826.2 332.8L826.7 333.9L825.7 334.9L825.2 336.2M844.9 330.1L843.4 329.9L843.3 328.7L843 327.9L844.5 326.8L844.6 325.5L845.3 326.4L846.5 327.7L845.8 329.2L844.9 330.1M677.6 110.4L676.4 110.2L675 110.6L674.4 109.4L674.2 108.2L675.5 108.1L676.8 108L677.6 109.1L677.6 110.4M751.9 117L750.7 116.9L749.1 116.5L749.1 115.2L748.7 113.7L750 113.7L751.6 114.1L752 115.3L751.9 117M698.5 205.8L697.2 205.6L696.4 205.4L696.3 204.1L696.5 203.2L697.8 202.8L698.6 203.7L699.1 204.8L698.5 205.8M688.3 206.2L687.5 205.8L686.3 205.8L686.3 204.8L686.3 203.7L687.4 204L688.4 204.1L688.5 204.9L688.3 206.2M678.7 209.1L677.8 209.5L676.7 208.8L677.3 207.7L676.7 206.8L677.5 206.7L678.7 207.1L678.8 208L678.7 209.1M700.1 205.6L699.1 205.4L698 205.2L698.3 204.3L698.1 203L699.1 202.9L700.2 203.5L700.4 204.7L700.1 205.6M715.7 213.1L714.9 212.3L713.6 212.4L713.8 211.4L713.8 210.2L714.9 209.8L715.9 210.9L715.3 212L715.7 213.1M757 531.1L757.6 529.6L757 528.5L758.4 528.2L759.6 527.7L759.6 529.3L759.6 530.4L758.1 531L757 531.1M910.7 167.7L910.1 166.5L909.8 164.6L909.9 163.1L909.1 162.3L908.8 160.7L907.8 159.8L908.6 159.1L909.9 158.4L911.7 158.8L912.1 160.6L913.2 161.5L912.6 163L913.1 164.5L913.2 165.7L912 167L910.7 167.7M907.5 157.3L908.3 156.1L908.8 155L908.9 154.1L907.8 153.4L906.7 152.9L905.5 151.5L907.4 151.3L908.3 150.7L909.7 151.1L909.9 152.6L910 154L911 155.6L909.5 155.5L908.9 156.4L907.5 157.3M905.1 150.8L904.8 149.7L904.6 148.8L903 147.5L904.7 145.5L903.1 144.8L901.6 144.6L900.5 144.2L899.5 143.4L899.1 142.1L899.4 141.1L898.8 139.9L897.8 138.7L897.4 137.6L897.2 135.9L898.7 134.7L900.4 135.6L901.1 136.5L901.8 137.7L903.4 138.7L903.8 140.8L904.6 141.5L904.9 142.8L905.1 144L906.3 145L907.2 146.4L908.6 147.3L907.9 148.2L906.8 149.1L905.9 150.2L905.1 150.8M894.9 130.1L894.1 129.4L892.8 128.8L892.1 127.2L892.7 126L892 124.1L891.2 123.1L889.6 122.6L889.8 121L889.7 119.2L888.5 118.5L887.5 116.9L884.5 117L883.2 115L882.1 113.3L880.9 111.7L881.7 110.4L882.1 109.1L884.2 109.8L884.4 111.7L885.5 112.4L885.4 113.8L886.5 114.1L887.4 115.2L888.6 117L890.9 117.2L892.5 118.2L895 119.5L894.6 121.4L894.4 123.5L894.7 125.1L895.2 126.1L896.2 127.6L895.7 129.2L894.9 130.1M904.8 131.7L904.7 130.2L905 128.5L905.2 127.1L905.3 125.4L904 124.3L903.3 122.9L901.7 122.5L899.6 121.1L900.8 119.8L900.8 118.5L901.4 117.6L902.6 116.6L903.4 117.5L904.3 118.3L905.3 120L906 121L904.9 122.7L904.9 124.3L905.5 125.6L905.7 126.7L906.7 127.7L906.5 129L905.8 130.1L904.8 131.7M837.3 113.1L836.9 111.8L836.6 110.9L835.6 109.4L834.2 109.3L833.5 108.1L832.6 107.3L832.3 106.3L834.1 105.6L835.4 106.1L836.5 104.9L837.7 106L838.5 106.8L839.5 107L839.8 108L840 109L840.6 110.1L840.1 111L838.8 111.7L838 112.4L837.3 113.1"/>
<path d="M487.3 291.9L485.8 291.4L484.5 290.5L483.3 290.8L482.6 291.3L482 292.6L481 292.2L480.3 291.8L479.5 291.4L478.6 290.5L478.4 291.3L478.4 292.3L477.2 293.3L476.1 292.8L475.2 292.9L474.5 293.6L474.3 294.2L473.5 294.9L472.5 295L472.1 296.1L470.7 296L469.2 296.2L467.7 295.8L466.3 296.2L465.6 295.2L465.3 296.1L464.5 296.7L464.2 297.8L464.5 299L464.7 300.5L463.4 300.5L462.7 301.7L461.9 302.4L461.9 303.4L461.4 304.3L462.1 304.4L462.8 305.2L462.6 306.2L461.1 306.5L460.3 307.4L460.6 308.3L460.7 309.1L460.2 308.1L459.7 307.5L459 308.1L457.6 308L456.2 308.5L455.9 309.9L456.1 311.1L455.4 312.5L455.7 313.5L455.8 314.2L455.1 314.4L454.2 314.4L453.5 314.1L452.5 313.7L451.6 314.5L450.6 314.6L450.3 315.9L449.4 316.4L449.4 317.3L448.6 317.8L447.7 317.9L446.8 317.9L446 318.5L444.9 317.9L444 319L442.9 320L442.5 321L442.4 321.9L442.8 322.7L442.5 323.9L442.4 324.6L442.8 325.5L443.4 326.1L443.6 327L442.9 327.4L442.3 328.2L443.1 329.3L442.9 330.6L441.8 330.4L440.6 331.2L439.2 331.3L439.5 332.6L439.3 333.8L439.4 335.1L439 336L439.2 337.1L440 337.5L439.2 338.2L439.1 339L438.9 340.2L439.5 340.8L439.8 341.7L440.9 342L442.3 342.4L442.9 343.1L443.7 343.3L444.6 342.7L445.5 343.2L446.3 343.1L447.6 343.3L448.7 342.8L450 342.2L451.3 343.2L451.8 344L452.2 344.6L451.5 343.5L450.2 343.7L449.1 344.4L449.3 345.3L448.7 346L447.4 346.8L446.3 347.4L445.5 346.1L444.3 346.1L443.9 346.9L443.1 347.6L443.1 348.7L442.4 349.4L441.1 349.3L439.9 349.3L439.1 349.8L438.9 350.6L439.1 351.9L438.5 352.8L439.3 354.1L440.4 353.9L441.3 353.5L442.3 353.5L443.7 354.1L444.2 354.7L445.5 355.1L445.1 356.3L445.6 357.2L444.8 357.8L444.8 358.8L444.3 359.8L443.2 359.7L441.9 360.1L440.8 360.3L439.9 360.5L439.2 361.1L438.3 361.2L437.5 360.5L437.3 359.8L436.1 359.3L435.5 358.5L435.1 359.3L434 359.5L433.3 358.9L432.9 357.6L433.3 356.2L432.3 355.7L432.3 354.2L431.3 353.6L430.3 353.1L429.2 352.3L428 353L427.3 352.4L426.6 351.7L425.6 350.7L424.5 350.8L423.5 350.3L423.2 349L422.7 347.7L422.3 347L421.2 346.8L421.8 346.1L421.7 344.9L420.9 344.1L419.9 344.3L418.9 344.3L417.6 344.3L416.5 344.3L415.9 345.2L414.6 345.1L414 344.5L413.1 343.5L412.2 343.3L411.2 342.8L410.7 341.3L409.5 340.9L408.6 341.1L407.4 341.4L406.5 340.6L405.4 341.7L405.4 342.6L405.2 343.7L404.3 342.3L404.1 341.1L403.1 340.2L402 339.4L400.4 340.7L398.6 340.9L400.6 342.3L399.7 344.4L399 345.8L399.4 346.8L399.9 347.4L399.1 348.4L399.6 349.3L400.5 350.3L399.3 351.2L398.4 352.2L397.5 353.3L396.8 353.6L395.8 353.7L394.5 353.2L393 354L394.4 354.8L396.5 356.4L394.6 357.8L393.9 359.6L393.9 360.6L394.4 361.4L394.9 362.8L393.6 363.8L393.8 365.3L393.2 364L391.9 363.1L391.2 362L390.1 360.9L389.4 362.3L389 364.7L387.3 365.8L386.2 366.6L385.1 367.4L384.6 368.6L383.4 368.6L383 369.8L381.8 370.8L381.6 372.1L380.9 373.2L381.9 372.9L383.2 373.4L383.7 374.2L384.6 374.6L385.8 374.8L386.6 375.4L387 374.2L387.6 373.6L388.2 372.6L389 371.8L389.9 372.5L391 372.9L391.6 372.3L391.4 371.1L392.6 371.2L393.1 371.8L393.1 370.6L394.3 370.7L395.1 371.6L394.9 372.5L395.4 373.3L395.9 374L396.9 374.1L398 373.4L398.9 373.8L400.5 374.1L401.9 374.6L402.9 374.5L404.2 373.6L405.4 373.1L406.2 374.4L405.8 372.9L406.2 371.9L406.4 370.8L407.7 370.3L408.9 370.4L409.1 371.2L410.6 371.8L411.3 372.6L412 372.5L412.9 372.1L413.3 370.7L414.5 371L415.4 371L416.3 370.4L416.9 371.4L418.1 370.9L419.3 370L419.8 369L420.9 368.7L421.3 369.9L420.8 370.9L421.5 371.7L421.7 372.4L421.7 373.5L420.6 373.3L419.7 374.4L419.3 375.3L419.2 376.2L419.8 377.1L419.7 377.9L420.4 379.1L420.5 380.1L420.6 381.4L420.3 382.1L419.9 382.9L419.3 384.2L418.2 384.3L417.1 385.4L416 386.5L415.2 385.6L415.7 387L415.1 388.5L414 389.1L412.8 389.4L412.6 390.5L413.5 391.2L414.7 391.6L415.9 392.2L417.4 392.2L417.8 391.4L418.7 390.8L419.2 392L420 391.9L420.9 391.9L419.9 392L418.7 392.8L418.4 394L419.1 394.7L417.8 394.1L416.8 394.9L415.9 394.7L414.8 395.3L414.9 396.1L415.4 396.9L415.5 397.9L415.5 399.6L414.9 400.2L414.7 401L413.4 401.5L412.6 401.1L411.8 402L411.3 403.1L411.7 403.9L411.2 405.1L411.4 406.1L410.4 406.7L409.6 407.8L409.4 408.7L409.5 410.2L408.8 411.4L408.8 412.5L409.7 413.4L408.6 413.6L408 415L408.2 415.8L408 416.7L407.1 417.5L406.5 418.7L405.4 419.5L405.8 420.4L405.5 421.8L404.5 422.4L404.2 423.1L403.4 423.6L402.5 423.2L401.5 422.5L400.3 421.8L399.7 421L399 420.4L399.3 419.4L398.1 419.2L397.1 418.8L396 419.1L394.7 418.7L393.4 417.9L392.1 416.7L390.9 416.5L389.6 415.8L388.7 415.7L389.8 414.9L390.3 413.5L389.9 412.5L390 411.6L389.8 410.8L389 409.9L387.5 410L387.8 408.4L387.1 407.3L386.3 406.9L387.8 405.1L386.1 404.2L385 403.8L384.2 403.1L382.7 402.9L382 404L382.7 402.8L382.7 401.6L381.3 402.9L380 401.4L379.4 400.4L379.9 399.4L379 398.8L378.4 398.2L377.1 397.6L376.1 398L375.1 398.3L374.1 399.6L372.6 399.7L371.6 399.6L371.2 400.5L370.7 399.9L370.5 398.9L369.8 397.8L370.6 398.2L371.5 398.6L371.2 399.5L371.5 400.5L372.3 401L372.6 401.8L373.3 400.9L374.5 401.1L375.4 401.7L376.3 402.4L377.1 403.3L378.7 403.2L379.9 404.1L380 405.5L381.3 405.5L382.2 405.9L383.1 406.8L382.7 407.7L382.9 408.4L383.1 409.8L384 410.5L383 411.1L381.8 412.1L381.2 411.2L380.5 410.8L380 409.3L378.9 408.6L378.5 409.4L378.5 410.3L378.3 411.8L377.2 412.4L376.5 412.7L375.7 413.2L375 413.9L375 415.1L375.5 415.6L376.4 416L375.6 417L374.8 417.8L374.4 419L375.5 419.3L375.7 420.5L376 421.7L375.5 422.5L376.2 423.5L376.2 424.7L375.5 424.8L374.5 424.7L373.6 424.3L372.9 423.3L371.3 423.4L371.3 422.4L371.3 421.5L370.9 420.5L369.9 420.2L368.9 419.5L367.5 418.8L366.5 419L365.1 418.6L364.5 417.8L364 416.8L364.8 415.8L364.6 414.4L365.8 414.8L366.6 415.6L367.4 415.7L368.3 414.9L369.2 415L370.4 414.5L371.6 415.5L371.8 416.9L371.2 416.2L371.3 415L370.9 414.2L370.1 413.9L370.4 413L370.2 411.7L368.8 411.4L367.7 410.6L366.9 409.8L365.4 409.7L364.8 408.7L363.6 407.8L362.4 407.6L361.7 406.9L360.7 406.9L359.9 406L359.9 404.7L358.6 404.3L357.7 404.4L356.3 403.9L355 404.4L353.9 404.4L353.8 405.7L352.8 405.6L352.7 406.4L352.5 407.4L352.7 406L352.7 404.8L351.2 404.9L350.1 404.2L349.4 403.3L349.6 402.4L348.2 401.6L347.8 400.6L347.4 399.7L347.2 398.2L345.6 398.3L344.9 397.8L344.2 397.5M393.5 267.1L392.6 267.4L391.5 268.3L390.8 269.2L390.5 270.3L389.4 269.5L388.4 269.4L387.5 269.2L386.8 269.7M391.7 272.6L393.1 273L394.3 272.1L394.9 271.4L394.9 270.5L395.9 271.1L396.6 271.1L397.5 270.9L398.2 271L399.1 270.6L399.7 270.3L401.2 270.3L402.2 269.6L403.4 268.8L404.9 268.9L405.2 270.2L405.8 269.4L405.9 268.7L407.1 268.3L407.9 268.9L408.8 268.8L409.9 268.9L410.5 269.9L411.1 270.3L412.6 270.7L414 270.2L414.9 270.7L415.8 269.8L416.6 269.3L417.8 269.6L418.5 270.7L419.7 270.9L420.4 271L421.4 271.4L422.9 271.1L423.7 270.5L424.5 271L425.8 271.6L426.9 272L428.2 272.3L429.4 272.8L430.4 272.5L431.3 272.6L432 271.9L433 272.3L433.9 272.3L434.5 273.1L435.5 273.4L435.7 272.6L436.4 272L437.4 271.5L437.9 271L439.1 271.4L439.9 270.9L440.9 271L441.7 271L442.8 271.4L443.4 270.3L444.7 270.6L445.8 270.7L446.5 270.4L447.5 270.5L448.4 269.9L449.5 269.1L450.2 268.8L451.1 268.1L452.1 267.3L453.5 267L454.4 266.3L455.1 265.6L456.3 266.1L456.7 266.9L457.1 266.1L457.6 265.6L458.7 265.9L459.9 265.7L460 264.1L460 263.2L459 262.5L460 262L460.5 261.3L460.7 260L460.2 259.3L461.2 259.4L461.9 258.9L461.8 257.8L462.6 257.1L462.7 257.9L463.3 258.7L464.5 259.4L464.4 260.6L464.2 261.5L464.1 262.5L463.9 263.6L463.4 264.8L464.4 265.8L465.4 265L465.8 263.8L465.3 262.9L465.9 261.6L465.4 260.6L466 259.4L465.8 258L465.1 257L465.7 256.6L466.1 255.7L465.6 255.1L465.3 254.2L465.6 253.4L465.4 252.1L466.2 251.9L467.3 251.4L468.1 251L468.8 250.8L468.3 249.7L467.3 249L467.1 248.1M470.7 248.6L471.1 249.9L471 250.6L471.1 251.5L471.6 251.1L472.4 250.5L473.6 249.7L474.9 250.1L475.5 249.3L476.6 249.7L477.3 249.4L478.4 249.3L479.3 248.1L480 248.5L480.4 249.3L481.3 249.9L481.2 250.7L480.5 251.8L481.5 252.1L482.2 251L483.6 250.8L483.9 251.7L485 252.6L486 252.9L486.9 252.9L487.3 254.1L487.1 255.2L487.2 256.1L488.1 256.5L489.3 257.4L488.3 257.9L487.8 258.7L488.2 259.5L488.4 260.5L487.9 261.7L486.8 261.5L485.4 261.9L485 263.1L485.3 264L484.2 264.4L483.2 265L483 266L483.2 266.8L483.3 268L484 268.4L484.8 267.1L486.2 267L487.3 267.1L487.9 267.6L488.5 266.9L489.2 266.4L490.8 266.6L492 266.4L492.4 267.5L493.3 267.8L494.2 268.6L495.1 268.9L494.3 270.2L493.5 271.4L492.4 271.2L491.6 271.4L491.2 272.2L490.9 273.5L490.3 274.4L489 274.5L488.1 275L487 275L487.6 274.2L487.3 272.8L487.1 274.3L487.8 274.9L489 275.1L490.6 275.4L492 275.3L493 275.5L492.6 276.9L492.8 278L493.2 278.9L494 279.8L495.4 280.2L494.1 280.4L493.4 281.4L492.4 282.1L492.4 282.9L492.4 283.9L492.4 284.6L491.1 284.6L490.1 284.5L489.4 285L489.3 286.1L490.2 286.3L490.7 286.9L490.4 288.1L489.1 288.1L488.6 289.5L488.9 290.9L487.8 291.4L487.3 291.9M406 265.4L404.9 266.4L403.8 266.1L402.3 266.5L401.3 266.7L400.6 266.8L400.5 268.3L399.4 267.7L398.7 268.3L398.4 267.4L397.4 266.2L396.3 266.5L395.5 267.1L394.7 268.4L393.8 269.4L392.6 269.7L391.7 269.8L392.2 269.1L392.7 268.6L393.6 267.8L394.8 267.5L395.7 268.2L396.5 267.1L397 266.2L398.4 266.8L399.5 266.7L400.1 266L401.1 265.6L402 266.4L403.4 266.6L404.6 266.5L405.5 266.3L406 265.4M422.2 265.3L421.7 265.9L420.6 266L420 267.2L419.1 266.6L418.1 266.5L417.1 266.4L416.5 265.6L415.9 264.5L414.5 264.5L414.5 263.5L415.5 262.8L416.7 262.5L417.3 263.8L418.2 264.6L419 263.9L419.4 264.5L420.1 265.3L421.2 265.2L422.2 265.3M435 273.4L434.1 273.3L433.2 272.9L432 272.5L431.5 271.9L430.5 272.9L429.7 272.3L428.6 271.9L427.8 270.6L426.7 269.7L427.2 268.7L426.1 268.3L425.5 267.6L424.6 268.8L424 268.3L423 268.2L423.7 268.3L424.5 268.9L425.1 270.2L426.4 269.9L427.2 268.8L428.2 269L428.3 270.3L429.5 270.8L429.4 270.1L429.8 269.2L428.9 268.3L430.3 268.8L431.1 269.3L431.8 269.5L433.1 270.2L434.3 270L435.3 270.4L436.2 271.2L435.3 271.2L434.1 271.2L434.9 272.2L435 273.4M462.7 253L463.4 252.2L463.9 251.2M499.4 260.7L498.5 261.6L497.2 261.8L496.5 262.2L495.5 261.7L494.7 260.8L495 259.9L496 259.5L496.7 258.9L497.6 258.9L498.2 259.8L498.9 260.1L499.4 260.7M490 250.7L489 251.4L487.9 251.9L487.6 250.7L486.8 250.3L487.6 249.9L488.8 249.5L489.3 249.9L490 250.7M500.9 367.3L501.4 368.3L501.4 369.2L502.3 369.6L502.9 370.5L503.3 371.2L503.1 372.1L502.4 372.5L503.3 373.6L504.3 374.6L505.4 374.9L505.4 376.4L504.9 377.8L506 378.6L504.8 378.7L503.8 379L503.2 379.1L502.9 380.2L502.5 381.1L501.4 382L501.4 383L500.3 383.9L499.3 385.2L499.1 386.6L499.9 387.3L499.5 388.2L499.1 389L498 389.9L497.2 390.6L497 391.3L497 392.2L495.9 392.8L495.5 393.8L496.1 394.9L496 395.5L495.6 396.4L494.3 396.6L493.7 397.6L492.5 398L492.2 398.6L492.3 399.6L492.2 400.8L491.3 401L491 402L490.1 403L489.2 403.1L488.4 402.7L488.4 404L488.8 405.1L489.4 405.7L489.2 406.4L488.5 407.2L488.1 407.9L487.8 408.6L487.4 409.7L486.3 409.9L486 410.7L484.7 411.1L483.9 411.8L483.2 412.6L481.9 413.4L480.7 413.8L480 414.7L479.2 414.7L478.7 413.7L477.3 413.6L476.3 412.7L475.6 413.3L474.8 413.4L474 413L473.8 412L472.8 411.9L471.3 411.7L471.7 412.8L471.1 413.7L469.5 413.8L468.6 414L467.6 414.5L466.2 414.6L465.3 415.1L464.8 413.9L463.7 414.3L462.5 414.1L461.6 414L460.6 413.9L459.7 413.5L460.1 412.7L459.5 411.6L458.9 413.1L458 413.8L456.9 414.3L456.2 414.7L455.7 415.5L455 415.8L454.2 416.5L453.2 415.8L451.9 415.9L451.2 417.1L450.8 417.9L450.7 419.1L449.8 418.7L449.1 418.5L448.2 419.5L447.3 419L446.6 420.1L446.4 421.4L445 421.9L444 422L443 423L442.8 422.1L442 421.7L440.6 421.7L440.4 420.7L441 419.6L441 418.1L439.8 417.1L438.6 417.4L439.5 416.3L439.2 415.1L440.4 414.6L440.2 413.2L440.4 412L440.1 411.3L439.6 410L439.3 408.7L439.5 407.9L440.7 407.4L442 407.6L443.6 407.3L444.1 406.7L444.7 405.9L444.5 404.9L444.1 403.5L444.9 402.4L445.2 401.5L445.2 400.8L445.3 399.3L446.7 399.5L446.8 398.3L447.7 397.7L449.2 397.3L449.9 396.4L449.4 395.6L450.2 394.9L451.1 394.6L452.1 393.8L453.1 393.5L454.3 393.2L455.3 393.8L456 394.2L456.9 394.1L457.7 393.2L458.3 392.7L459.4 391.7L459.9 390.6L458.7 390.6L458.9 389.4L458.7 388.6L458.5 387.6L459.5 388.2L460.3 387.5L461 388.5L462.1 388.5L462.3 387.4L462.6 386.6L461.8 386.4L460.8 386.6L460.6 385.4L461.5 384.8L462.3 385.1L463.3 385.3L464.8 385.3L464.6 384.6L464.8 383.6L464.5 382.8L464.8 381.9L465.3 381.2L465.3 380.3L466.1 379.6L466.9 379.7L467.7 378.8L468.7 378.1L468.8 376.8L469.4 375.7L470.3 375.5L471.6 374.5L471.8 373.8L471.8 372.6L471.7 371.1L471.2 370.2L470.2 369.6L469.3 369.6L469.6 368.9L469.4 367.9L469.5 366.4L469.9 365.5L470.2 364.5L470.6 363.8L471.9 363.2L472.8 363.2L473.8 363.6L473.5 362.6L474.2 361.8L475 360.7L476.5 361L477.8 361.8L477.5 362.5L476.8 363.3L477.8 363.3L478.5 364.2L479.3 365.4L480.4 364.7L480.9 364L481.2 363.1L482.8 363.2L483.6 362.6L484.3 362.4L485.2 362.2L486 361.8L487.2 362.1L488.6 362.9L489.5 363.3L489.5 364.5L490.6 363.6L491.2 364.5L492.7 364.8L493.7 366L494.8 366.2L495.1 366.8L496.1 366L497.2 366.8L497.8 366.1L498.9 366.3L499.4 367.5L500.9 367.3M478.4 424.2L479.6 423.7L479.9 423L481 422.7L482.6 422.8L481.9 423.6L481.9 424.4L482.1 425.7L483.1 425L484.3 424.7L485.7 424.3L487 424.7L487.5 425.5L488.5 425.3L490 425.2L491.1 426.1L491.8 427.1L492.6 427.2L493.1 428.3L492.9 429.3L492.6 430.5L493.2 431.7L492.3 432.4L491.5 432.6L490.6 432.9L489.1 432.7L487.8 433.1L487.2 433.8L486.1 434.2L484.8 433.5L483.9 433.6L483.4 434.4L482.3 433.6L481 432.8L481.2 431.8L480.6 431.1L479.5 430.7L478.5 430.7L479.7 429.9L480 429L479 428L478.5 427.3L478.1 426.7L479.2 427.3L480.4 426.2L479.2 425.4L478.4 424.2M425.3 390.4L425.7 389.1L425.8 388L425.3 387.1L426 386L425.2 385.2L425.1 384.5L425.4 383.5L425.7 382.4L424.7 381.5L425.6 380.9L425.5 380L425.6 379L426.1 378.1L426.9 377.3L427.2 376.1L427.8 375.3L428.2 374.8L427.4 373.6L427.8 372.6L428.7 372.5L428.2 371.4L428.6 370.2L428.2 368.8L427.6 368.1L428.8 367.4L429.8 366.8L430.2 367.9L431.4 369L431.3 370.2L431.8 370.8L433 370.6L433.6 371.2L434.7 372L435 372.7L435.9 373.3L437.1 372.6L438.1 372.4L438.9 371.7L440.1 371.8L440.5 370.6L441 370.1L441 369L441.8 367.9L441.3 367L441.3 365.9L442.3 365.2L443.2 364.5L443.7 363.9L444.2 363.1L445.4 362.8L445.9 361.7L447.4 361.9L447.6 360.6L447.6 359.5L446.7 359.7L445.6 359.3L444.1 359L443.6 358.3L443.6 357.2L444.1 356.4L445.5 355.7L444.7 355L444.9 353.9L445.9 353.8L446.3 352.8L445.9 351.8L447 351.1L447.9 350.4L448.9 349.7L449.9 349.8L450.7 349.5L452 349.6L452.9 348.9L454.2 348.9L455.4 348.5L456.4 349.3L456.7 350.5L457.8 351.2L457.6 352.4L457.6 353.6L456.9 353.7L456 354L455.3 354.4L455 355.3L456 355.6L457.2 355.4L457.9 356.6L458 357.4L457.8 358.5L458.4 359.7L457.6 361.1L456.5 362.2L455.7 362.3L454.7 362.9L455.1 363.7L455 364.6L454 365.5L454.7 366.7L453.9 367.2L453.5 367.8L452.9 368.6L452.2 369.7L451.3 370.9L451.5 372.3L450.9 373.7L450 374.7L449.1 374.5L448.9 375.4L447.9 376.3L447.1 376L446.3 376.1L445 376.5L445.1 377.8L445.7 378.5L445.6 379.5L444.7 380.1L444.6 381.1L445 381.8L444 382.6L443.6 383.5L443.3 384.9L443.1 385.8L443.3 386.7L442.1 386.7L440.7 386.8L439.8 387.3L438.9 387.7L438.4 386.7L437.4 385.8L436 385.2L435.2 385.1L434 385L434.4 386.4L434.1 387.3L433.3 387.8L432.2 387.6L430.8 388.1L429.7 387.3L428.9 386.4L428.6 387.8L428.7 388.5L428.5 389.6L427.5 389.4L427 389L426.3 389L425.4 388.6L425.7 389.5L425.3 390.4M490.2 361L490.8 359.9L491 358.8L490.4 357.6L490.4 356.4L490.3 354.9L489.5 354.1L488.5 353.6L487.2 354.4L486.9 353.2L487.1 351.9L486.8 351.1L486.9 350.1L485.6 350.3L485 349.3L483.8 348.6L482.3 348.8L481.4 349.3L480.6 349.4L480.4 350.2L480.3 351L479.2 351.3L479 352.1L478 352.2L477.1 352.4L475.7 352.2L474.9 351L473.8 350.5L473 350.7L472.4 351.4L471.2 351.1L469.7 350.9L469.7 352.3L469 353L468.8 353.7L467.5 354L467 355.2L467.2 356.3L467.2 357.2L466.6 358.5L467.1 359L468 359.4L469 358.7L469.9 358.3L470.9 357.7L471.7 357.4L472.3 358.1L473.3 358.3L474.5 358.4L475.4 358L476.1 358.6L477.3 358.2L478.6 358.9L479.8 359L480.5 358.6L480.3 360.1L480.9 360.9L481.9 360.3L482.5 360.8L483.2 361.6L483.9 361.7L484.9 361.5L486.1 362.1L487.1 361.8L487.7 361.2L488.9 360.8L490.2 361M480.7 350.7L481.6 350.1L481.5 349L483 348.8L482 348.5L481.6 347.8L482.1 346.7L481 345.7L479.9 345.5L479.2 345.5L478.2 345.5L477 345.4L475.7 346.1L476.5 347L475.5 347.9L474.3 348.4L473.3 348.3L473.4 349.5L474 350L475 350.3L476.4 350.2L477.7 350.8L478.9 350.8L479.4 351.4L480.7 350.7M465.3 357.6L466.6 356.8L466.9 355.3L467 354.2L466.6 353.2L467 352.5L466.4 351.9L465.8 350.9L466.9 349.7L467.3 348.8L467.6 347.7L467.8 346.8L467 346.2L465.7 345.6L465.2 346.9L463.9 347.7L462.7 347.8L461.5 347.5L461.1 348L460.5 348.9L460.9 350.2L460.5 351.1L461.7 351.9L461.7 353.2L461.6 354L460.8 354.7L461.3 355.7L461.2 356.6L461.9 357.9L463.3 357.6L464.4 358.5L465.3 357.6M458.8 349L459.3 347.7L459.2 346.5L458.4 345.5L458.7 344.3L457.8 344.6L456.9 343.7L455.7 343.6L454.2 343.5L453.4 343.7L452.6 344.1L451.8 345L451.4 346.1L452 347L452.7 347.8L454.1 348.3L455.1 349L456.4 349.3L457.7 349.4L458.8 349M458.5 342.7L458.8 341.3L459.2 340.4L459.6 339.1L458.9 338.7L458.2 338.3L457.7 337.5L456.9 337.2L455.4 336.7L454.5 336.5L453.8 337L452.5 337.7L451.8 337.3L450.8 337.7L451.4 338.5L450.4 339.5L451.3 340.8L452.2 341.6L452.5 342.4L453.5 343L454.2 343L455.1 342.5L455.9 342.4L456.7 342.3L457.5 342.9L458.5 342.7M458.1 319.3L458.9 320.1L459.2 321.2L460.4 321.8L461.2 322.8L461.8 323.6L462.5 323.8L461.8 324.9L461.7 325.7L460.3 325.7L459.9 326.6L459.4 327.8L459.2 328.9L459.1 330.2L459.4 331.3L459.2 332.1L458.4 332.3L457.6 332.7L456.8 333.9L456.2 334.4L455.9 335.4L455 336.4L454 335.9L453.7 335.2L454 334.1L453.4 333.5L452.4 333.9L451.5 334.1L450 334.8L449.3 334.9L448.5 335.2L447.9 335.9L446.8 336.2L445.5 335.7L444.9 335.5L444.2 334.7L443.4 334.1L442.9 333.3L444.2 332.8L444 331.3L444.2 329.8L443.8 328.7L443.3 327.8L443.7 326.7L444.3 325.9L444.9 325L444.9 324.2L445.6 323.3L445.7 322.1L445.8 321.1L446.9 320.6L447.7 319.6L448.7 319.9L449.6 319.4L451 319.2L452.5 318.9L453.2 319.6L454.3 319.6L454.4 321.1L455.5 321.5L456.7 320.9L457.2 319.6L458.1 319.3M462.9 314.8L463.8 315.3L464.4 314.2L466 314.3L463.9 315L464.5 316.8L465.2 318.2L466.8 318.1L467.1 319.6L467.4 320.4L468.5 320.9L467.7 322L466.8 323.1L466.1 324.1L465.4 324.3L464.5 324.5L463.8 325.3L462.8 326.1L462 325.5L461.2 324.4L461.2 323.6L461.2 322.4L460 321.5L459.5 320.9L458.6 320.5L458.7 319.6L458.6 318.4L458.6 317L459.6 316.2L459.4 315L460.1 315.9L461.2 315.5L461.9 315.2L462.9 314.8M467 336.3L468.4 335.8L469.5 335L469.6 333.9L469.4 333.1L470.2 332.3L469.8 330.8L470.8 330L470 329.9L469.5 329L469.4 327.9L469.3 327L468 326.8L466.6 327.1L465.1 327.4L465.4 328.5L464.3 329L464.3 330.4L463.9 331.7L463.8 333.2L464.5 334.3L465.3 335.3L465.8 336.2L467 336.3M468 343.1L468.6 342.6L469.5 342.3L468.6 341.2L467.2 340.6L467.6 339.4L466.7 338.5L466 338.1L465.2 338L464.8 339.4L463.8 339.2L463.1 339.8L463.4 341.2L462.7 341.9L464.3 341.7L464.9 343.1L466.2 343.4L466.9 343.2L468 343.1M474.5 330.9L474.6 329.8L475.2 328.8L474.4 328.3L474.6 327.3L474.1 326L473.5 325.2L473 324L472.2 325.4L471.2 325.6L470.8 326.9L471.2 328.4L472.4 328.8L473.1 329.7L474 330.4L474.5 330.9M474.7 335.6L475.6 335.4L476.2 335.1L477 334.3L477.4 335.6L478.5 335.5L477.3 335.7L476.9 336.4L475.4 336.6L474.7 335.6M472.8 343.1L472.3 342.3L471.9 341.4L472.7 341.3L473.2 340.3L474.5 340.9L475.4 340.6L476.4 340.4L477.5 340L477.7 341.1L478.9 341.7L478.7 342.5L478.8 343.4L477.9 343.4L477.1 343.6L476.3 343.6L475.3 344.1L474.4 343.6L474.1 342.9L472.8 343.1M470.7 346.4L471.8 345.7L472.5 345.1L472 345.9L471.6 346.6L472.6 346.6L473.3 347.3L472.6 347.8L471.6 348.6L471.4 347.5L470.7 346.4M445.2 342.3L445.2 341.2L445.2 339.9L443.8 340.3L443 339.5L442.9 338.7L443.4 337.8L442.5 337.8L441.4 337.7L441.6 338.4L441.4 339.4L441.4 340.4L441.5 341.9L442.4 342.4L443.1 342.9L444.3 342.3L445.2 342.3M431.5 362.8L430.3 362.2L430.8 361.1L431.8 359.9L430.3 359.8L430 358.2L430.8 357.5L431.4 356.4L430.1 357.2L429.2 357.1L428.4 356L427.4 355.2L427.7 353.7L426.7 354.6L426.2 355.6L425.3 355.7L424 355.5L424 357L422.6 357.7L423 359.1L423.4 359.9L424.3 360L425 359.2L425.2 360.7L424.5 361.5L424.1 362.5L425.1 362.8L425.2 364.2L426.8 363.9L427.1 362.8L428.2 362.8L429 361.9L430.1 362.6L431.5 362.8M421.6 370.2L420.9 369L420.8 367.8L420.6 367.1L421.8 366.6L422 365.2L422.5 366L423.8 366.2L423.6 367L424.3 368L423.4 368.5L422.9 369.2L421.7 369.2L421.6 370.2M421.5 362L421.1 361L420.2 360.9L420 360.1L419.4 359.4L418.4 359.8L418.2 360.8L419 361.6L420.2 362.6L421.5 362M398.7 370.3L397.8 371.5L397.6 370.5L397.8 369.5L398.7 370.3M442.8 369.2L443.1 368.4L443.5 367.3L443.7 365.7L445.1 365.5L446.2 365.8L446.4 366.7L446.3 367.4L446 368.9L444.6 368.6L444 367.8L443.1 368.4L442.8 369.2M403.1 424.3L402.1 424.3L401.2 424.5L400.2 424.6L399.4 424L398.6 424.3L397.5 424.3L396.3 424.5L395.6 423.6L394.8 424.8L393.1 424.5L392.7 422.9L392.2 421.7L392.6 423.2L391.6 424L390.6 424.6L389.8 424.3L388.7 425.4L388 426.2L387.7 424.7L387 423.7L386.1 424.2L386.7 425.2L387.7 426.1L388.1 427.3L387.9 428.5L388.8 428.3L389.9 428.7L391.4 428.6L391 429.9L391.1 431.1L390.3 431.5L390.2 432.3L390.5 433.1L389.4 433.9L388.5 434.3L389.3 433.9L390.1 433.6L390.1 434.6L390.7 435.3L391 436.3L390.5 437.7L391.3 438.8L391.4 439.7L392.2 439L392.9 437.9L393.8 438.4L395 438.6L395.3 437.5L395.9 436.8L396.1 435.7L396.5 434.9L397.4 434.6L397.7 433.7L398.5 432.5L397.9 431.3L398.1 430.2L397.4 429.7L398.5 429.6L398.7 428.3L397.8 427L398.9 426.5L400.3 426.8L401.1 427.3L402.2 426.7L401.6 425.2L403.1 424.3M387 409.8L387 411.3L386.7 412.2L387.7 412.9L388.2 413.5L388.9 414.3L387.8 415.5L387.3 416.3L387 415.2L386.2 414.1L385.6 413.3L386.1 412.2L386.5 410.8L387 409.8M376.6 414.5L376.7 415.5L376.9 416.7L376.6 417.4L376.4 418.5L377 419.4L378.1 419.7L378 420.7L378.1 419.3L378.4 417.9L377.4 417.7L376.5 416.9L376.4 415.8L376.6 414.5M376.5 423.6L377.2 423.2L377.5 422.3L378.2 423L379 423L380.6 422.3L380.7 424.3L381.7 424.2L382 423.2L381.1 424.5L380.6 423.7L379.7 423.7L380.2 425L380.5 426L379.5 426.5L378.3 426.3L377.1 425.4L377.7 424.2L376.5 423.6M361.8 344L362.2 345.2L362.7 346.6L362.4 347.6L362.5 348.3L363.7 349.3L363.6 350.7L364.5 351.7L365.1 352.2L366.3 352.5L366.8 353.5L367.2 354.4L367.6 355.6L366.7 356.3L366.4 357.5L366.1 358.4L365.9 359.5L364.6 360.1L365 361.2L363.9 361.5L363 361.8L362.4 362.9L361.7 361.6L361.4 360.4L360.4 360.3L359.8 359.5L360.5 358.2L360.7 357L360.7 355.9L361.2 354.8L361.5 353.9L361.4 352.7L362.2 351.9L361.6 350.6L361.9 349.6L362.8 349.3L361.6 348.7L361 348L361.4 346.9L362.8 346.4L362.7 345.4L363.1 344.7L361.8 344M342 356.4L342.8 357.4L343.2 358.6L343.9 359.2L345.3 359.5L345.9 360L346.8 360.7L348.1 360.7L348.9 360.2L349.6 360L350.3 359L351.2 359.7L351.9 360.8L352.6 361.3L353.9 361L354.3 359.9L354.4 360.9L355.2 361.7L356.5 362.4L357.5 362.6L358.5 363.3L357.9 362.6L357.2 361.7L358.6 361.3L358.7 360L359.1 359.2L358.4 358.4L358.3 357.6L359 356.8L357.9 356.8L356.7 356L355.9 355.6L354.9 356.2L353.6 355.9L352.6 356.1L351.7 355.9L350.7 356L349.7 355.8L349 355.3L347.3 355L347.2 356.8L345.9 357.5L345.1 358.2L344 358.1L343.2 356.8L342 356.4M359.4 364L358.7 364.7L357.6 365.2L357.3 365.9L357 367L355.6 366.7L354.3 367.6L353.1 368.3L352 367.8L351.2 368.1L350.7 368.9L349.4 369.6L349.2 370.8L350.5 371.3L351.2 372.1L352 372.9L353.4 372.5L354.6 372.9L355.6 373.5L356.6 373.2L357.8 372.9L357.4 374.4L357.7 375.5L357.2 376.2L356.4 376.8L357.1 375.7L358.3 375.7L359.1 375.4L360 374.8L360.6 373.8L360.4 372.9L361.3 371.8L360.5 370.6L360.2 369.8L359.8 368.9L359.9 368L360 366.6L360 365.3L359.4 364M344.2 369L344.1 370.3L345.6 370.5L346.3 372.1L345.2 373.3L346.1 374.3L346.5 375.5L347.8 375.3L347.7 376L348 376.9L349 378.1L348.8 379.4L349.8 379.7L349.2 381L348.5 380.4L347.5 380.4L346.6 380.4L345.9 380.1L344.9 379.8L344.2 378.8L344.2 377.7L343.7 376.2L343.5 375.3L343.3 374.5L343.2 373.2L343.9 372.7L344.5 371.8L343.4 370.8L342.7 370.1L343.8 369.9L344.2 369M351.2 378.8L351.1 380.1L350.7 380.8L351 381.8L351.3 383L352.5 383.2L353 384.4L353.1 385.6L353.9 384.9L355.2 385.3L355.2 386.5L355.5 387.5L354.4 387L353.5 387.7L353.5 386.7L353.3 385.1L352.3 384.5L351.4 383.5L351.5 382L352.2 381.4L353.4 381.5L352.5 381.3L351.8 381L351.8 380L351.2 378.8M389.4 330.9L388.5 331.9L387.5 331.2L387 332.1L386.1 332.7L385.3 332.7L384.5 332.3L383.2 331.7L382.2 331.8L381 331.8L379.9 332.3L379.5 333.1L378.6 333.4L377.8 334.3L376.6 333.9L377.6 333.4L378.7 334.1L379.8 333.5L380.2 332.7L380.6 332L382 331.6L382.3 333.1L383.3 332.5L384 333.2L384.6 331.5L383.6 330.4L384.7 329.8L385.8 329.7L386.9 330.3L388.2 329.8L388.5 330.8L389.4 330.9M429.3 307.1L428.1 307.5L427.5 308.4L426.6 308.7L426.3 309.6L425.6 310.8L426.1 311.5L426.8 312L426.4 313.5L427.3 314.6L426.7 315.6L425.9 316.8L425.6 317.9L425.5 318.6L425.3 317.6L425.7 317L425.2 315.8L425.9 314.9L425.1 314.2L424.4 314L423.1 314.2L423.8 312.8L423.3 311.7L422.5 311.3L421.7 311.1L422.1 310L422.4 309.3L422.4 307.9L422.8 306.9L423.6 306L424.9 305.8L426.3 306.1L427.3 306.2L428.5 306.5L429.3 307.1M446.6 303.4L447.9 304.1L448.2 305.4L448.4 306.2L447.5 307.2L446.8 307.2L446 308L444.8 307.8L444.6 309L443.8 308.9L443.1 309.6L442.8 310.8L441.8 311.3L440.9 311L439.8 310.4L438.7 310.2L439.6 309.8L440.4 308.9L439.1 308.6L438.7 307.4L439.4 307L440.4 306.9L441.8 307L442 305.5L441.7 304.4L441.9 303.7L442 302.8L442.7 301.6L443.5 302.1L443.9 302.8L445 302.9L445.3 304L446.6 303.4M414.5 311.8L414.4 313.2L414.2 314.6L413.2 315.1L412.3 315.9L413 314.8L413.1 313.9L412.4 313.2L412.5 312L413.8 312.8L414.5 311.8M497.8 270.2L498.3 270.7L499.2 271L500.4 271.6L500.7 272.5L501.6 272.2L501.8 271.3L502.7 270.5L503.3 270.1L502.1 271.5L503.8 272.5L504.2 273.2L504.9 273.7L505.8 274.1L506.6 274.3L507.7 275.3L508.4 276.6L508.7 277.5L508.3 278.4L509.4 278.7L510 278.3L510.9 278.3L512.2 278.5M512.2 278.5L512.4 279.3L513.4 279.9L514.6 280.3L515.6 280.1L516.1 280.8L516.9 281.8L517.7 281.4L518.8 280.5L517.9 281.3L518.3 282.4L519.2 282.5L520.4 282.8L521.3 283.6L522.7 283.1L523.2 282.4L524.1 282L523.8 280.4L523.9 279.2L523.2 280.2L523.6 281L523.7 281.8L524.9 280.9L525.2 282L526.1 282.3L527.1 283.3L527.9 282.8L528.8 282.6L529.7 282.7L530.8 283.1L531.7 283.3L532.2 283.9L533.1 284.3L534.6 284.3L535.3 285.6L534.6 286.7L535.1 288.1L535.9 288.7L536.9 289.1L536.9 290.1L537 290.8L537.9 291.8L538.7 292.3L540.2 291.8L541 292.5L541.5 293.1L542 293.9L542.2 295.2L541.5 296.2L542.3 297.2L542.9 298.1L543.6 298.4L544.4 299.7L545.3 300.6L546.2 300.9L546.5 301.9L546.2 302.5L547.1 302.9L547.1 304.1L548.4 304.6L549.3 304.5L550.4 304.1L551.6 303.2L552.8 302.6L553.3 303.2L553.2 304.2L554.8 304.4L554.4 305.3L555.1 306.1L555.9 306.6L557 306.1L557.6 306.9L557.1 308.2L557.9 308.2L558.9 308.6L560.2 308.8L560.8 307.8L559.8 308.3L559.5 309.2L560 309.9L558.5 310.5L558.8 311.6L557.7 312.5L556.6 313.3L556.2 314.1L556.2 315L556.5 315.6L557.3 316.1L556.5 317.1L556.1 318.5L556.9 318.3L557.6 319.3L558.8 318.8L559.8 318.4L559.9 319.9L560.3 321.1L561.4 320.9L561 322.2L560.8 322.9L560.8 324L560.2 325L560.9 325.8L560.9 326.6L561.9 327.2L561.4 327.7L560.7 328.5L561.2 329.6L562.1 330.2L561.9 331.7L562.6 332.4L563.5 332.5L564.3 332.5L565.4 332.5L565.4 333.5L565.2 334.1L564.3 333.8L563.8 333L562.9 333.6L562 333.1L561.3 333.2L560.5 332.6L560.2 333.4L559.9 334.2L558.8 335L557.9 334.4L557.9 333.4L557.5 332.4L556.6 331.7L556.4 331.1L555.2 331.7L554.4 331L553.7 332.1L553.4 333.1L553.5 334.1L553.2 335L552.8 336.2L553.6 336.6L552.5 337.7L552.3 338.4L551.9 339.2L552.7 339.9L553.2 340.6L554.2 340.4L555.1 340.8L556.5 341.5L557.2 342.8L558.2 343.7L559.3 344.7L559.1 346L559.6 347.4L560.2 348.5L561.1 349.7L561.2 351L562.2 351.9L563.5 352.4L563.8 353.5L564.3 354.2L564.9 353.6L565.8 353L567 353.8L566.3 355L566.3 355.9L566.4 356.9L566.2 358.3L567.5 358.6L568.1 359.9L569 359.2L569.9 359L569.1 358.6L569.1 357.5L570.5 357.3L571.7 357.2L572.5 357.2L573.1 356.8L573.9 356.3L573.3 355.5L573.5 354.7L574.2 355.1L575.1 355.6L575.3 356.8L574.8 357.4L574.3 358.6L572.7 358.3L572.1 359L571.1 359L570.4 360.1L570.5 361.1L569.4 361.5L568.3 362.6L569 363L569.9 363.7L569.1 364.8L567.7 364.2L568.9 365.1L570.1 365.6L570.9 366.7L571.4 367.4L572.3 367.8L573.4 367.7L574.8 368.2L575.7 369L576.4 368.3L577.2 367.9L578.1 368.3L579.3 368.6L580.6 368.9L580.9 369.7L582.1 369.8L583 370.3L583.7 370.5L584.8 371.3L585.6 371.8L585.5 372.9L586.7 373.9L588 373.9L586.6 374.2L586.7 375.7L586 376.6L585.3 376.6L585.6 375.8L585.8 375L585.4 374.4L584.9 373.6L583.9 373.4L583.2 372.4L582.4 371.4L581 371L579.5 371.2L578.9 370.3L578.2 369.9L577.4 369.3L576.2 369.1L575.2 369.1L574.5 369L574.3 367.4L573 368.3L572 368.2L571.3 367.7L570.4 367.4L569.5 368.4L568 368L566.8 367.2L566 368.5L565.3 368.4L564.3 368.3L565.4 368.7L565.9 369.5L565.7 370.4L566.7 371L568.2 370.7L568.8 371.3L569.3 372.4L569.8 373.8L570.7 374.3L571.3 374.6L571.3 376.2L572.4 377.4L573.5 377.5L574.3 376.9L575.1 376L576.7 376.2L577.8 375.8L578.6 375.2L579.6 375.9L578.5 376.2L578 377.2L576.9 377.1L576.5 377.9L576.1 378.5L575 378.8L573.8 379.3L573.8 380.7L573.2 381.8L572.3 381.2L572.3 382.2L571.4 382.8L571.6 383.7L572 384.5L572.8 385.1L574.1 385L574 386.3L573.1 386.6L572.8 387.9L572.2 389.2L571.5 389.6L571.3 390.7L571 391.7L571 392.3L569.9 391.8L569.1 391.4L569.7 391.9L569.6 392.9L569.1 394L569.7 395.2L568.7 395.8L568.8 396.8L568.4 398.1L568 398.8L567.4 399.9L566.4 400L566.1 401.1L564.8 400.1L563.5 400.6L562.5 401L561.4 401.6L562.5 402.3L563.5 402.4L564.2 403.2L564 404L564.2 404.8L565.6 405.2L566.8 404.8L567.3 406L567 407.1L565.6 407.6L565 407.9L564.3 408.7L564 409.9L564 411.1L564.6 411.7L565 412.7L566 412L567.4 412.8L567.6 413.6L567.8 414.4L566.8 414.6L566.3 415.6L566.2 417.1L566 415.9L564.9 415.5L563.8 415.4L563.1 416.4L563.3 417.2L563.8 418.1L562.4 418.6L561.7 420L561.5 419.3L562 418.3L561.3 417.4L560.3 417L559.3 417L558.7 416.3L558.1 415.4L557.6 416.4L556.8 416.5L556.6 415.4L555.6 414.9L554.4 415.4L553.6 414.2L553.7 415.3L553.2 416.2L554.3 415.3L555.2 416.5L555.8 415.9L556.1 415.1L556.5 414.6L557.5 414L558.5 414.2L559.4 413.9L561.2 414.1L560.9 415.9L561.6 414.9L561.9 413.9L562.7 413.4L562.3 412.2L563.2 411.5L564.6 411.3L565.3 410.5L565.6 409.6L564.3 409.5L563.3 409.1L562.7 407.9L561.4 408L562.1 407.3L562 406.2L560.9 406.1L560.3 406.4L559.5 405.3L558.3 406.2L557.3 406L555.9 406.2L554.7 406L553.4 406L552.9 407.4L551.9 407.7L551.5 406.9L550.3 406.9L549 406.3L548.4 406.8L547.6 407L547.1 408.4L545.7 408.5L545.6 407.1L546 405.6L544.7 405.7L543.6 405.6L542.7 405.5L541.5 405.8L540.1 406.5L539.3 406.9L538.7 407.5L538.9 408.4L538.3 409.2L537.4 410.3L536.7 411.4L535.7 412.1L535.2 413.6L534.3 414.3L533.5 415.1L534 416L533.5 416.5L533 417.3L532.1 418.5L531.1 419.7L531.8 420.2L532.6 420.3L532 420.8L531.5 421.6L531.3 423.1L530.1 424L531.1 424.9L531 426.2L530.4 426.9L529.8 427.6L529.4 428.9L530.5 429.7L530 430.9L529.6 432.1L529.1 432.6L529.1 433.4L528.7 434.4L528.3 435.2L527.1 435.3L527.4 436.5L526.9 437.2L525.7 437.3L526.2 438.7L524.8 439.3L524.2 439.7L523.5 440.3L522.4 441.4L522.2 442.8L521.4 443.2L520.5 444L520.8 445.1L520.8 446L521.1 447.2L521.7 448.6L522.2 449.9L521.4 450.7L521.9 451.1L522.3 452.1L523.2 453L522.8 454.1L523.8 455L524.6 455.8L524.5 456.9L525.9 457.4L527.3 456.8L527.9 456.3L528.4 455.3L529.5 455.1L529.7 453.6L530.2 453.1L530.9 452.3L532 451.3L531.1 450.1L531.6 451.3L531.5 452.2L532.3 452.7L533.3 453.8L533.5 454.5L533.4 455.4L533.4 456.6L534 457.5L535.1 458.1L535.6 459.4M543.3 451.1L543.9 449.8L543 449L543.2 448.2L544.4 448.3L545.3 447.1L544 447.8L542.6 447.8L541.7 447.1L541.5 446.4L541.5 445.3L542.2 444.4L541.6 443.5L540.8 443.2L541 442.2L540.7 441.5L540.3 440.2L541.4 439.5L540.4 438.3L541.4 437.2L541.4 436.3L541.5 435.3L542 434.7L542.8 434.1L542.9 433.2L543.2 432.1L544 430.8L545 429.7L543.7 429.9L543.5 428.7L542.8 427.8L542.3 427L542.9 426.4L543.2 425.4L543.3 424.1L543.8 423.4L544.8 423L545.6 423.6L546.3 424.9L547.3 424.7L548.2 425.5L549.1 426.3L548.6 427.3L547.9 428.3L546.9 429.5L545.9 430.1L546.7 431L546.7 432.6L545.8 433.7L545.6 434.5L545.8 435.6L547.2 435.8L548.1 436.3L548.2 437.3L549.3 437.4L549.2 438.4L549.2 439.2L548.4 439.6L547.8 440.1L549.1 441L549.8 442.4L551.1 442.4L552.1 443.4L552.9 442.2L552.7 441.3L554 441.3L554.9 440.9L554.8 439.6L555.5 438.5L556.8 438.3L557.7 438.2L558.4 438L559.5 437.9L560.1 438.7L561.3 437.9L561.8 439.3L562.3 437.9L562.5 438.9L562.5 439.6L561.5 439.4L560.7 440.5L559.3 441L558.2 441L557.5 442.1L556.4 442.1L555.7 442.5L555.3 443.7L554.5 444.3L554.7 445.8L554.6 446.9L555.5 447.7L556.8 447.6L556.4 449L556.8 450L556.7 450.8L557.7 451.5M579.6 266L578.5 265.4L577.7 265.4L576.8 265.5L576 265.5L575 266L573.9 266.7L573.1 265.9L571.8 265.7L570.8 266.3L570.8 265.4L570.2 264.7L570.3 263.1L569 262.9L568.1 262L566.7 261.7L566.2 261.3L565.4 260.8L564.4 260.3L563.7 259.6L562.4 258.7L561.8 258.3L560.7 258.3L560 257.2L559.7 256L558.3 255.7L557.3 255.8L556.1 255.1L555.3 256L554.3 256.4L553.2 256.7L553 257.9L551.3 257.1L550.6 258.7L551.2 259.9L550.7 260.8L550.4 261.9L549.8 262.3L549.1 262L548.3 261.2L546.8 260.9L545.6 259.9L545.4 258.8L544.7 258L545 256.8L544.2 256.4L545.2 255.9L546.4 255.3L545.1 255.5L544.1 256.2L542.9 257.1L542.3 258.6L541.8 259.2L540.8 259.6L540 260.2L539.4 260.4L538.7 259.8L537.8 259.9L539 259.9L539.3 258.7L539.9 257.6L540.3 256.4L540.9 255L541.8 254.7L543.1 254.2L544.3 254.4L545.1 254L546.3 252.9L546.8 251.6L548.4 251.7L549 250.6L550.4 250.4L551.6 249.9L551.9 248.9L553 248.3L554.4 247.8L555.6 248.9L555.5 247.5L556.4 247.1L556.5 245.8M545 245.4L544.1 246.4L542.6 247L541.7 248.3L541 248.9L540.8 249.7L539.3 249.4L538.2 249.7L537.7 250.7L536.7 251.1L535.9 251.6L535.1 252.9L534.3 251.6L533 251.4L532.7 250.2L531.6 250.3L531.2 249.5L530.5 248.6L529 248.9L527.9 249.4L527 249.9L526.4 250.1L525.5 250.8L525.9 252L524.8 251.9L524.3 253.2L523.8 254.1L522.6 253.5L521.3 254.3L520.4 255L519.3 254.7L518 255.2L517.1 256.4L516.5 257.1L515.4 256.6L514.3 256.1L513.3 256.3L513.2 257.1L512.8 258L514.1 258.8L513.9 260L514.4 261.4L513.7 262.6L514.7 263.5L515.9 264.1L515.1 264.8L513.9 264.2L513.7 265.4L512.2 265.1M512.2 265.1L511.4 265.6L510.7 265.8L509.8 266.2L509.1 266L507.9 266.9L506.5 266.4L505.1 266L505.5 264.6L504.7 263.7L503.7 264L502.4 264.1L501.6 263.3L501.1 264.5L501.6 265.5L502.5 265.6L501.8 266.6L501.4 267.5L500.9 269L499.9 269.2L498.9 269.6L497.8 270.2M506 456.3L505.3 455.9L504.1 455.7L502.9 455.7L502.6 457L502.5 457.9L502.1 458.5M518.6 383.6L519.3 383.2L519.2 382.1L520.2 381.6L521.6 381.2L522.7 381.6L523.4 382.7L524.2 383.3L525 383.6L525.8 383.6L526.6 384.1L526.5 385.5L526 386.2L525.6 387.1L525.6 388.3L526.2 389.5L525.3 390.3L525.5 391.6L524.6 390.9L523.8 391L523.4 389.9L522.2 389.4L521.2 388.4L520.6 387.3L520 386.7L519.3 385.9L518.5 384.9L518.6 383.6M522.3 380.3L522.9 379.5L523.3 378.9L524 379.2L524.9 378.6L526 378.3L527.1 378.6L527.4 379.9L527.2 380.8L527.1 381.9L525.8 382.2L525 381.8L523.7 381.9L522.8 381.1L522.3 380.3M525.9 385L526.6 385.3L527.5 385.4L528.1 386.5L529 387L528.7 388.1L527.9 388.2L527.3 387.2L526.5 386.6M560.6 387.8L559.6 387.9L559.2 388.7L558.7 387.8L558.2 386.9L558.1 385.7L558.9 384.5L558.5 383.6L558.3 382.7L557.6 382L557.1 381.3L557.1 380.5L556.6 379.6L555.9 378.4L554.8 378L553.8 377.2L553.9 376.1L553.3 375.5L552.7 374.5L553.3 373.6L553.5 372.4L552.5 372.1L552.2 371L552.2 370.2L552.3 368.9L553.2 368.4L553.2 367.3L551.9 366.6L552.6 365.9L553.8 365.5L554.7 366.6L555.6 367.6L555.4 368.6L556 369.4L555.8 370.4L556.3 371.8L556.4 372.8L556.7 374.2L556.7 375.2L557.4 376.5L556.9 377.3L556.2 377.7L556.8 378.4L557.7 378.8L558.4 379.8L559.5 379.4L560.9 379L561.8 379.8L561.8 381.1L562 381.8L562.3 382.7L562.9 384L564.3 384.2L564.8 385L565.5 384.2L566.7 384L566.6 385.4L565.7 386.1L564.8 386.9L563.8 387.2L563.3 387.8L562.2 388.1L560.6 387.8M535 370.6L536 369.9L535.4 368.7L536.3 368.7L537.1 368.7L536.7 369.8L536.8 370.7L535.8 370.8L535 370.6M536.7 366.5L535.9 365.7L536.4 364.4L537.7 364.3L538.6 363.3L539.9 363.9L539.8 365.3L539 366.1L538.4 367L537.4 366.5L536.7 366.5M548 345.9L546.6 345.6L545.9 344.5L544.5 345L544 344.3L542.9 343.9L542.1 343.8L541.4 344.4L542.7 344.1L542.8 342.8L543 341.7L543.3 340.7L544.4 340.4L545.8 340.9L546.7 340.5L547.6 340.8L548.7 340.4L549.5 339.3L549.8 340.2L550.9 341.1L551.7 341.9L551.6 342.7L551 343.6L550.1 343.5L549.5 344.4L548.5 345.2L548 345.9M544.9 313.7L543.4 313.2L542.3 314.1L541.2 313.7L540.7 312.8L539.7 311.6L539.5 310.8L539.9 309.7L541 308.6L542.2 308.8L543.2 309.1L544.3 309.6L544.7 310.5L545.7 310.8L545.7 311.6L545.3 312.5L544.9 313.7M539.1 308.7L537.9 308.5L537.4 307.3L537.3 306.5L536.5 306L537.8 306.2L538.5 305.5L538.2 306.7L537.5 307.3L538.3 308.3L539.1 308.7M547.4 307.4L546.4 307.1L545.5 306.7L544.7 305.9L545 305L546.1 305L546.7 305.1L547.3 306L548.5 305.7L548.3 307L547.4 307.4M511.7 287.4L510.2 287.6L510 286.1L510.9 286.3L511.6 285.4L512.3 285.7L513.3 285.7L513.6 287.1L512.6 286.9L511.7 287.4M552.3 448.7L553.1 447.8L554.1 448L553.5 448.9L553.9 450L553.9 448.8L552.3 448.7M564.3 436.8L563.5 435.6L562.6 435.1L562.9 433.9L563 432.5L563.3 431.1L564.4 431.1L565.7 431.7L565.1 432.6L564.9 433.3L565.5 433.7L566.3 434.3L566.9 435.3L565.9 435.9L565.6 436.9L564.3 436.8M567.9 430.3L567 429.3L567.4 428.2L567.7 426.9L566.8 426.4L566.2 425L567.4 425.7L568.5 426.8L569.4 427.7L569.8 428.5L569.3 429.3L568.7 429.7L567.9 430.3M535.4 453.9L536.6 453.9L536.6 452.6L536.9 451.5L536.6 450.7L537.3 451.7L538 452.6L537.3 452.4L536.2 452.6L536 453.3L536.5 454.4L535.4 453.9" stroke-width="1.45" stroke="#0c0c0c"/>
<path d="M400.3 301.1L399.7 300.5L399.9 299.5L400.8 299.6L400.8 300.4ZM386.4 326L386.8 324.5L388.1 324.5L388.5 325.5L387.7 326.4ZM435.2 301.8L434.1 302.3L433.8 301.6L434.3 300.8L435.3 300.8ZM408.2 326.9L406.8 327.8L405 327.6L404.7 326.5L407.4 326.2ZM430.9 307.3L429.1 307.9L428.4 306.5L429.7 305.4L430.6 305.8ZM425.7 294.6L424.9 294.8L424 294.3L424 293.7L425 293.9ZM422.9 325.5L421.6 326.5L420.9 326.2L420.8 324.8L422.2 324.4ZM398.2 294.7L397.5 293.1L398.4 291.2L399.7 291.6L399.6 293.5ZM412.6 330.5L412.5 329.5L413.7 329L414.3 329.9L413.9 330.7ZM405.7 334L405.5 332.9L406.9 332L407.5 332.4L406.8 333.8ZM412.9 284.2L412 282.9L412.8 281.9L413.9 282.2L414.1 283.8ZM430.4 329.8L430.1 328.4L430.4 325.7L430.7 325.9L430.7 328.4ZM434.6 331.5L433.6 332.1L431.7 331.1L432.3 330.2L433.6 330.4ZM436.5 324.9L435.4 324L434.8 321.6L435.7 321.7L436.7 323.8ZM389.5 340L388.1 339.4L386.7 337.7L387.6 337.1L388.7 338.2ZM424.4 288.9L423.2 288.1L423.3 285.4L424.6 285.6L425.2 287.2ZM434.6 328.2L434.8 327.4L435.7 326.6L436.4 326.9L435.5 328.1ZM426.4 295.8L424.9 295.8L423.2 294.8L423.9 294.1L425.4 294.6ZM416.2 312.9L414.5 312.2L413.2 310.6L413.6 310.1L415.8 311.8ZM401 340.6L400.4 339.5L401.8 337.1L402.6 337.5L402 340ZM430 336.1L431 334.6L432.8 334.2L433.2 335L431.3 336.6ZM411.9 280.9L412.7 280L415.1 279.7L415.2 281L413 281.4ZM427.6 312L426.2 312.5L426.1 311.7L427.3 310.8L428.1 311.1ZM438.8 304.5L439.5 303.7L440.7 303.6L440.9 304.3L439.9 305ZM435.1 321L434.3 320.4L434.8 319.4L435.8 319.4L436.3 320.3ZM408.8 291.4L408.7 290.4L409.4 289.4L409.9 289.9L409.5 290.9ZM417.6 320L416.5 319.6L415.8 318.2L416.5 317.8L417.6 319ZM414.8 342.2L414.7 340.6L415.8 338.4L416.5 338.4L415.6 341.5ZM444 301.3L443.2 300.9L442.4 299.4L443 299L444.2 300.3ZM417.7 316.4L417.6 315.8L418 315.1L418.4 315.4L418.2 316ZM413.6 278L413.6 276.7L414.5 276.2L415.3 276.6L414.8 278.1ZM426.9 307.5L425.9 307.4L425.5 306.7L426.1 306.1L427 306.6ZM405.6 325.8L404.3 325.7L404.1 324.6L405.3 324L405.9 324.6ZM422.3 294.4L421 295.4L418.4 294.4L418.9 293.2L420.7 293.1ZM431.1 333.6L432.2 332L433.4 331.4L434.2 331.9L432.7 333.2ZM427.7 334L426.8 333.9L425.7 332.1L426.8 331.7L427.7 332.7ZM423.7 312.6L422.1 313L421.5 311.7L422.3 310.7L423.6 311ZM391.3 317.5L392.5 316.8L394.7 316.1L394.4 316.6L392.5 317.4ZM402.4 288.2L402.5 287.4L403 287L403.4 287.1L403 288.1ZM438.8 334.5L437.8 334.4L438 333.6L439.6 333.2L440 333.8ZM389.2 317.8L390.3 316.6L392 315.7L392.3 316.1L390.3 317.4ZM445.7 311.5L444.5 311.9L443.5 310.9L444.2 309.6L445.6 309.9ZM415.8 313.2L415 312.4L415.7 311.7L417.2 312.5L417.2 313.2ZM440.6 321.2L439.9 321.9L438.4 321.4L438.4 320.1L440.3 319.9ZM427.6 338L427.4 336.9L427.6 335.8L428.2 335.8L428.1 337.5ZM391.2 308L390.4 308.8L388.3 308.7L388.1 307.4L390.2 307.2ZM404 294.6L403.6 293.5L403.8 292.9L404.5 292.7L404.5 294ZM395.5 300.4L395.9 299.3L397.1 298.8L397.5 299.3L396.8 300.1ZM396.1 306.8L395.4 307.2L394.5 306.5L394.9 305.2L396.5 305.4ZM398.2 333.5L397.8 332.6L398.6 331.4L399.2 331.7L399.1 332.8ZM422.2 323.2L422.3 322.3L423.2 322.4L423.4 323L423 323.6ZM445 307.3L444.5 305.6L445.4 304.5L446.8 305.1L446.3 306.9ZM398 326L397.5 324.5L398.3 323L399.5 323.3L398.8 325.4ZM415.2 304L416.4 303.3L417.9 303.5L418.3 304.3L416.1 304.9ZM436.1 303.6L434.9 304.5L433.1 303.9L433.2 302.5L435.5 302.5ZM420.9 311.5L420.2 310.6L420.8 309.9L421.8 310.3L421.8 311.1ZM403.1 340.2L403.8 339.1L405.5 337.5L405.8 337.9L404.5 339.3ZM444.1 311.7L443.3 310.5L443.3 309L444.2 308.7L444.9 310.5ZM426.8 287.1L425.7 287.2L425.4 286.4L426.3 285.7L427.2 286.4ZM420.8 311.7L419.6 310.4L420.1 309.6L422.1 310.2L421.8 311.4ZM419.8 296.1L420.1 294.7L422.4 293.3L423.1 294.4L421.9 295.8ZM430.4 292L430.5 290L431.7 288.3L432.2 288.6L431.3 291.2ZM410.7 326L409.3 324.9L408.2 323.2L408.4 323L410.2 324.9ZM420.7 315.2L419.9 314.3L420.3 313L421.5 313.1L421.4 314.7ZM429.9 300.3L428.9 300.7L427.9 300.4L427.8 299.8L429.2 299.9ZM428.5 299.6L428.8 298.3L429.5 297.5L430.1 297.9L429.4 299.2ZM391.7 307.1L390.7 307.9L389.8 307.6L389.8 306.5L390.9 306.4ZM411.6 312.1L410.8 312L410.2 311.1L411.1 310.3L411.8 310.9ZM426.7 330.6L427.5 328.8L429.2 327.7L429.6 328.7L428.1 330.4ZM413.9 304.3L412.4 303.1L412.2 301.1L413.4 300.6L414.7 302.3ZM433 306.5L432.3 306.5L430.9 305.8L431.1 305.1L432.2 305.4ZM404.2 301.7L403.4 300.9L403.7 297.9L404.8 298.5L405 299.7ZM429.4 321.2L430.1 320.1L433 319.9L432.8 321.5L431 322.2ZM398.1 332.4L397.7 331.4L397.8 330.2L398.2 330L398.5 331.3ZM408.3 304.6L407.3 304L407.1 302.4L408.1 302.1L408.9 303.7ZM417.9 335.8L416.8 335.9L414.7 334.5L415.5 334L417.1 334.9ZM407.9 287.3L406.3 287.2L404.7 285.8L405.7 285.2L407.5 286ZM435.7 340.3L435.2 339.8L435.5 338.8L436.4 338.9L436.3 340ZM442.1 320.9L440.1 321.1L438.6 319.3L439.8 318.3L441.2 318.9ZM387.7 315.5L387.3 314.6L387.5 313.6L387.9 313.7L388 314.7ZM388.7 338.5L388.2 338.2L388.3 337.3L389.3 337.2L389.7 338ZM420.6 332.4L420.5 331.7L421.5 331L422.1 331.3L421.5 332.5ZM415.7 292.1L414.8 293.2L413.5 292.6L413.8 291.2L415.4 291.3ZM399.9 321.9L400 320.8L400.8 320.6L401.3 321.8L400.5 322.3ZM440.4 305.6L440 304.6L440.3 302.8L441.1 302.9L441.3 304.2ZM390.3 323.3L390.3 321.7L390.9 319.6L391.2 320L390.8 322.4ZM387.9 337.9L388.2 337.1L389.4 337L389.7 337.8L388.9 338.4ZM410.9 330.4L409.6 329.1L408.9 327.5L409.4 327.3L410.3 328.6ZM411.2 306.3L412.4 305.7L414.3 305.8L414.4 306.4L412.9 306.7ZM451.2 303L449.6 303.4L447.7 302.4L447.7 301.1L449.9 301.6ZM412 358.8L410 358.7L409.7 357.1L411.1 356.4L412.2 357.3ZM385.6 395.5L384.9 394.2L385.7 392.4L386.8 392.5L386.8 394.7ZM397.8 393.1L397 393.2L395.3 391.8L395.5 391.4L397.1 391.8ZM397.5 385L398 384.2L399.5 384.3L399.6 385L398.7 385.6ZM412.7 381.1L412.6 379.8L414.3 377.9L414.7 378.7L413.5 380.7ZM406.1 370.9L407.1 370.1L407.9 370.1L408.3 370.9L406.8 371.5ZM416.7 390.6L416.9 389.2L418.2 387.8L419.1 387.9L418.1 389.6ZM402.7 363.6L403.4 362.2L405.4 362.1L405.9 363.3L403.7 364.3ZM409.9 385.7L409.1 385.4L407.8 383.4L408.1 383.1L409.5 384.2ZM418.7 380.3L417.2 379.6L417.6 378.8L419.3 378.8L419.6 379.8ZM418.6 384.2L419.1 382.5L420.6 381.4L421.4 382.5L419.9 384.3ZM383.8 352.9L382.8 352.3L382.6 350.3L383.6 350L384.3 351.9ZM383.2 387.2L383.2 386.1L383.9 385.7L384.7 386.3L383.9 387.4ZM410.8 352.3L410.5 351.7L410.4 349.8L410.8 349.7L411.1 351.3ZM399.1 397.4L399.6 395.9L401.5 394.4L401.7 395.2L400.8 396.4ZM384.9 389.5L386.4 387.9L388.2 387.3L388.6 387.8L386 389.4ZM410.7 384.6L410.7 383.4L411.6 382.3L412 382.4L411.6 384ZM399.4 356.7L398.5 357.6L396.4 357.3L396.3 356.3L398 355.8ZM393.7 352.9L395.5 352.2L397.5 352.3L397.1 352.9L394.7 353.3ZM402.5 351.8L401.8 351.6L401 350.5L401.5 350L402.4 351ZM382.6 340.3L383 339.3L383.6 339.6L383.6 340.7L383 340.9ZM386.5 388.7L384.4 389.4L382.5 388.1L382.9 387.1L385.9 387.8ZM400.2 377.8L399.4 377.7L399.4 376.8L400.1 376.5L400.7 377ZM409.3 354.1L409.9 353.4L411.3 353L411.9 353.6L410.7 354.5ZM411.3 388.3L411.5 387.5L412.9 387.1L413.4 388.2L412.6 389ZM396.8 372.7L395.6 372.2L395.5 370.6L396.2 370.4L397.2 371.6ZM413.8 352.6L414.1 352.1L415 352.3L415 353L414.5 353.3ZM374.9 344.8L375.6 344.2L376.8 344.4L376.8 345.2L375.5 345.5ZM403.7 361.7L403 361.6L402.3 360.6L402.6 360.2L403.6 360.8ZM411 374.6L410.7 372.7L411.7 371.2L412.4 371.8L412.1 373.2ZM389.8 366.6L388.6 366.7L386.7 365.5L387.2 364.1L389.2 364.8ZM388.7 405.5L386.8 404.8L386 403.3L386.8 402.1L388.3 403.5ZM416.7 360.1L416.7 358.2L418.1 356.6L418.7 357.6L417.8 359.6ZM415.4 359.1L415.3 358.1L416 357.3L416.3 357.7L416 358.6ZM379.9 375.5L378.6 376.1L377.5 375L378.2 373.8L379.6 374.2ZM402.8 345.1L401.6 344.4L401.3 343.1L402.1 342.5L403.4 344ZM393.7 367.6L393.2 366.2L393.4 364.8L393.7 364.7L394 366.3ZM402.7 379.6L401.9 379.7L400.8 378.7L401.1 377.8L402.3 378.3ZM381.7 354.1L382.7 353.3L383.8 353.6L383.7 354.8L382.4 355ZM391 339.9L390 339.9L390 338.6L390.7 338.4L391.5 338.9ZM389.2 363.4L387.8 362.9L387.9 362.2L389.4 361.9L389.7 362.9ZM409.1 370.3L409.1 369.8L409.7 369.4L410.1 369.8L409.6 370.5ZM394.2 380.6L393.3 380.6L392 378.8L393.1 378.4L393.9 379.1ZM401.9 366.6L400.7 366.1L400 364L401 363.5L402.4 365ZM392.5 398.1L391.7 398.5L390.1 398.1L390 397.3L391.9 397.3ZM393.6 385L392.8 384.3L393.1 382.4L393.7 382.5L394 384.2ZM397.3 378.4L396.8 377.4L397.4 375.7L398.7 375.8L398.5 377.9ZM377.3 373.8L376.2 374.3L374.9 373.1L375.8 371.9L377 372.2ZM395 351.4L393.9 350.4L392.5 348.2L392.9 348.2L394.5 350.1ZM399.2 353L398 353.4L395.8 352.8L396.1 352.2L397.9 352.1ZM412.2 375.9L410.9 376.9L408.9 376.6L408.6 375.3L410.9 375ZM387.3 384.3L387.6 382.6L390.3 381.3L390.9 383L389.5 384.2ZM404 372L404.3 371.3L405.2 371.4L405.3 372.6L404.5 372.9ZM385.5 377.6L384.4 377.7L382.7 376.7L383 376.3L385 377ZM384.1 374L383.4 373.7L382.9 372.8L383.4 372.5L384.1 373.3ZM411.4 412.8L411.9 411.8L412.6 412L412.9 413.8L412.1 414.1ZM418.6 400.6L419 400.3L420.4 400.1L420.4 400.6L419.3 400.9ZM419.3 390.6L418.6 390.8L418 390.3L418.6 389.3L419.4 389.7ZM414.7 389.5L415.5 388.2L416.7 388.8L416.5 390.1L415.6 390.4ZM371.1 402.2L369.9 402.1L369.1 400.3L370.5 399.4L371.8 400.8ZM398.1 427.5L398.1 426.4L400 425.8L400.5 427L399.5 428.1ZM401.7 387.5L400.7 387.2L400.8 386.3L402.1 385.9L402.8 386.7ZM371.9 383.1L372.8 382.3L374.7 381.9L375.2 382.5L373.4 383.3ZM374.1 382.3L375.6 380.8L378.4 381L378.3 382.4L376.2 383.4ZM393.1 379.5L394.8 378L397.6 378.6L397.2 380.1L394.3 380.6ZM404.3 418.3L404.9 417.1L407.7 415.9L407.7 416.8L405.8 418.2ZM379.2 404.9L379.1 403.7L381 401.3L381.9 402.3L381.3 403.9ZM404.2 371L404.7 369.8L405.8 369.7L406.1 371.1L404.8 371.5ZM406.1 390.8L406 389.9L407.1 389.3L408.1 390.7L407.2 391.6ZM403.8 396.3L402.1 396L401.6 394.7L402.4 394L403.7 394.9ZM391.5 391.3L390.5 391.2L390.1 390.2L391.3 389.6L391.8 390.3ZM420.1 401.8L420.2 400.8L421.3 399.6L421.9 399.9L421.4 401.4ZM399.2 394.9L399.4 393.3L400.6 392.9L401.6 394L400.4 395.3ZM386 427.1L386.5 425.3L388.3 424.4L389.2 425.7L387.3 427.1ZM415.4 379L414 378.6L412 376.5L412.5 376L415.1 377.7ZM396.2 390.2L395.3 391.1L393.9 390.4L394.3 389.2L395.6 389.2ZM391.8 435.1L390.4 435L388.7 433.3L389.3 432.6L391.4 433.9ZM398.3 418.2L396.4 418.8L394.6 418.1L394.8 417.1L397.5 417.1ZM411.5 422L410.5 422.4L410 421.7L410.5 420.8L411.6 421ZM397.1 408.9L398.4 407.3L400.9 407.7L401.1 409.1L398.2 409.9ZM422.5 402.4L421.5 401.7L422 399.9L423.1 400.3L423.2 401.2ZM391.8 391.2L390.9 391.4L389.4 390.4L389.5 389.7L391.4 390.4ZM397.2 408.7L396 408.1L395.8 407.1L397 406.3L397.9 407.3ZM394.4 433.1L395 432.4L395.7 432.5L395.8 433.3L395.1 433.6ZM400.6 399.4L400.1 398.1L401.4 396L403.2 397L402.9 398.4ZM377.7 403.5L378.8 402.3L380.6 402.2L380.6 402.8L378.6 403.7ZM383.4 413.9L382.5 413.6L381.5 411.6L382 411.5L383.2 413.1ZM381.1 401.9L381.8 400.9L383.6 400.9L383.8 401.9L382.3 402.3ZM393.6 379.2L392.3 378.5L391.2 376.4L392 375.4L393.6 377.3ZM397.6 418.4L396.1 417.2L395.2 415.7L395.6 415.1L397.1 417ZM401.1 412.5L399.4 411.7L399.9 410.4L401.2 410.2L402.1 411.3ZM405.2 395.9L403.7 395.7L403.2 394.5L404.4 393.7L405.3 394.4ZM363.7 403.4L363.6 402L365.1 401.3L365.9 402L365.1 403.6ZM384.7 429.7L384.1 428.9L384.9 428L385.8 428.6L385.5 429.6ZM377.1 385.1L376.3 384.2L377.4 382.9L378.8 383.8L378.7 384.7ZM364.5 397.8L362.9 397.3L361.1 396.1L361.3 395.4L364.1 396.8ZM400.8 387.1L401.7 386.2L403.7 386.2L404.2 387L402.1 387.6ZM414.8 415.3L415.1 414.5L416.4 413.8L417 414.3L415.8 415.6ZM401.9 396.6L400.6 395.1L401.2 393.4L402.9 393.7L402.9 395.6ZM405.2 405.1L406.1 404L409 403.8L409.2 405L406.6 406.1ZM399.4 401.3L398.4 401.6L397.7 400.9L398 400.5L399 400.7ZM405.8 398.9L405 400.5L404.2 400L404.4 398.1L405.4 397.8ZM392.4 399.6L393.3 397.8L394.5 396.9L395.5 397.3L394.4 398.9ZM389.1 373.5L387.7 373.5L386.6 372.6L386.9 372.1L388.5 372.7ZM391.2 397L390.2 395.9L390.7 395.5L392.3 395.6L392.9 396.7ZM370.1 387L369.4 385.8L370.6 384.4L371.8 385.1L371.8 386.2ZM420.5 399.4L419.1 398.7L418.5 396.5L419.3 395.6L420.7 398.2ZM384.9 403.4L385.7 402.5L387.9 402L388 403L385.9 403.7ZM410.6 377.8L409.3 377.4L409.4 376.6L410.9 376.4L411.3 377.3ZM414 388.8L412.6 388.5L410.8 387.1L410.8 386.2L412.7 387.3ZM381.4 405.9L380.1 405.4L379 403L380.6 402.1L381.6 403.5ZM377.4 398.2L376.8 398.2L375.8 397.1L376.2 396.6L377.5 397.4ZM402.6 420.4L403.3 419.2L405.9 418.4L406.5 420L403.9 421ZM409.8 389.2L410.6 387.6L412.3 386.3L413.2 386.5L411.6 388.5ZM390.9 387.6L389.7 387.5L389.1 385.9L389.7 385.5L391 386.8ZM400.5 420.3L400.9 419.4L402.2 419.1L402.9 420.1L401.4 421.2ZM382.2 390.9L382.4 389.5L383.7 388.1L384.6 388.6L383.6 390ZM413.1 409.3L413.2 408.5L414 408L414.6 408.5L414.1 409.4ZM400.7 398.1L399.9 396.3L400.5 394.5L401.8 394.1L402 396.9ZM411.3 389.5L410.2 389.3L409.7 388.6L410.2 387.8L411.4 388.5ZM472.9 358.5L471.9 358L472.3 356.3L474 356.4L474.4 357.5ZM460.4 326L458.7 326.8L457.3 325.4L458.5 323.7L459.8 323.9ZM444.8 326L444.9 324.6L447.5 323.5L448 324.2L447 326.1ZM467.4 354.6L465.9 353.9L466 351.9L467.3 351.4L468.3 353.5ZM466.1 331.2L467.1 328.3L469.1 327.4L470.8 328.6L468.7 330.9ZM482.5 354.5L481.5 354.6L480.7 352.8L481.5 352.2L482.7 352.9ZM472.8 364L470.8 362.1L471.1 359.6L472.7 359.2L474 362.2ZM474.9 344.7L472.9 345.7L470.4 344.9L470.1 342.9L472.7 342.6ZM449.4 360.9L447.7 361.1L447.4 359.7L448.4 358.7L450 359ZM459.5 366L458.2 366.8L456.7 365.9L456.9 365.1L458.8 364.8ZM479 365.8L477.6 364.2L478.3 362.6L480.5 362.6L480.9 364.8ZM466.3 361.7L464.9 363.4L463.2 361.8L463.7 360.3L465.5 360.1ZM450.5 370.1L450.7 368.2L451.6 365.9L452.2 365.6L451.4 369ZM479.7 340.2L480.3 338.9L481.3 337.9L482.1 338L481 339.7ZM447.3 377.7L446.9 376.4L448 374.6L448.9 375L448.7 376.5ZM452.6 334.3L451.2 334L450.5 332.9L451.6 332.1L452.4 332.7ZM473.4 339.3L472 338.6L470.5 336.1L471.7 335.9L472.9 337.1ZM448.1 359.2L447.5 357.6L448.8 355.7L450.8 356.5L450.5 358.6ZM450.9 347.4L449.9 348.3L448.4 347.3L448.7 346.2L450.3 346ZM464 367.6L463.4 366.5L463.6 364.6L464.6 364.2L464.9 366.6ZM480 347.6L478.2 347.2L478.2 345.9L479.6 345.2L480.8 346.4ZM444.2 341.8L442.7 341L441.3 337.8L442 336.6L444.1 339.8ZM475.3 354.2L474.6 352.5L475.9 351.5L477.4 353.1L476.5 354.3ZM458.1 318L456.9 317.2L457.1 316.2L458.5 315.7L459.4 316.9ZM473.7 344.1L472.3 342.5L473.1 341.8L475.2 342.4L475 344ZM482.2 361.4L482.4 359.5L484.8 359.1L485.2 360.7L484.1 361.8ZM446.7 366.7L444.8 366.7L444.2 364.8L445.4 364.2L446.6 365.1ZM451.9 314L450.7 313.6L448.8 311.9L449 311.5L451.1 312.8ZM445 340.3L446 338.6L450.1 338.7L449.7 340.9L447.3 341.5ZM474.1 340.1L474.3 338L475.9 336.8L477 337.9L476.3 339.3ZM477.7 348.3L477 347.4L477.4 345.1L479 344.9L479.3 347.6ZM453.1 379.7L452.9 378.8L453.8 377L454.5 377.4L454.2 379ZM458.9 338.3L459.3 337.8L460.5 337.9L460.5 338.3L459.7 338.6ZM461.5 369L459.4 369.2L457.5 368L458.1 367.2L460.6 368ZM468.5 351.3L467.9 350.8L467.9 349.1L468.7 349.2L469.1 350.5ZM454.7 317.4L452.6 317.9L449.8 317.3L450.3 316.5L453.1 316.6ZM481.2 342.8L479.8 343.3L478.6 342.4L478.9 341.3L480.3 341.3ZM438.2 356.5L439.6 354.6L441.8 354L442.3 355.8L440.2 357ZM454.9 351.4L454.1 349L455.4 346.3L456.3 346.6L456.2 350.5ZM461.3 335.3L459.1 334.5L458.3 332L459.8 331L461.6 332.9ZM484.8 332.4L483.4 330.9L484.5 329.3L486.3 329.8L486.5 331.6ZM460.7 362L460.4 361L461.3 360.1L462.4 360.5L462.2 362.1ZM481.9 349.7L481.6 348.9L481.8 347.4L482.4 347.2L482.4 349.1ZM452.1 350.9L450.8 351.4L449.4 351L449.2 350.1L451.5 350ZM469.4 337.6L470.9 335.2L472.6 334.1L473.7 334.5L471.1 337.1ZM462 338.8L460.6 338.2L458.1 335.9L458.4 335.2L461.2 337.2ZM442.2 359.3L440.3 358.8L439 355.6L441.1 355L442.8 357ZM453.2 340.1L454 338.4L455.1 338.7L455.6 340.3L454.4 341.6ZM470.9 374.1L469.4 373L468.8 369.9L470.7 369.7L471.6 372.6ZM468.3 352.7L469.2 350.7L470.3 350.8L471.1 352L470 353.2ZM470.8 343.6L470.2 341.4L471.4 341L473 342.7L472.6 343.8ZM456 367.1L455.5 365.9L455.6 363L456.3 363.4L456.4 364.9ZM458.5 377.1L457.7 374.3L458.8 372.4L460.8 373.2L460.5 375.8ZM482.6 342.7L481.8 340.6L482.6 340.3L484.5 342L483.7 343.2ZM477.4 357.2L478.4 355.9L480.8 355.4L481.7 357L479.9 358.3ZM413.4 277.3L412.8 275.8L412.6 272.6L413.1 272.5L413.7 274.8ZM417.5 276.9L416.2 278L414.8 276.7L415.4 275.5L417 275.6ZM429.4 282L428.9 281.1L429.3 279.2L430 279.4L430.1 280.8ZM437.9 275.2L437.2 272.7L438.4 270.7L439.5 271.6L439.2 274ZM428.8 282.1L428 281L428.7 279.8L429.9 280.3L429.8 281.4ZM423.7 269.3L422.9 269.6L422.2 269.2L422.2 268.8L423.2 268.7ZM427.8 265.8L426.3 266.2L424.7 264.7L425 263.9L427.4 264.2ZM427.6 284.9L428 284.1L429.6 283.8L429.9 284.6L428.5 285.4ZM432.2 269.7L430.9 269L430.1 267.6L430.4 267.4L432.2 268.7ZM416 270.1L414.7 269.3L415 268.6L416.9 268.8L416.9 269.8ZM428.6 283.2L429.4 282.4L430.4 282.5L430.7 283.7L429.5 284.3ZM415.2 266.5L414.5 266.4L413.6 265.3L414.4 264.6L415.1 265.1ZM423 260.2L423.4 259.3L426 258.6L426.4 259.6L424.5 261ZM406.5 268.8L404.8 267.8L404.8 266.1L406.2 265.4L407.6 267.4ZM438.6 272.9L437.2 273.2L435.6 272L435.9 271.1L437.8 271.3ZM424.6 276.4L426.1 275.6L428.4 275.5L428 276L426.2 276.5ZM423.4 267.4L423.3 266.5L424.3 264.4L424.9 264.7L424.5 266.3ZM404 268.8L405.5 267.7L407.8 267.2L407.7 267.8L405.2 268.8ZM422.9 266.3L421.2 265.3L421 263.7L422.5 262.9L423.5 264.7ZM414.2 269.5L412.9 269.8L412.7 268.4L413.7 267.9L414.5 268.3ZM427.9 265.7L427.6 264.5L427.9 263L428.4 262.6L428.4 264.8ZM428 263.5L426.6 262.7L427.4 260.6L428.6 260.8L429.1 262.7ZM418.5 264.1L417.1 263.7L416.8 261.8L418.2 261.6L418.9 263ZM411.7 271.6L412.5 270.4L415.5 270.6L415.3 272.1L413.4 272.5ZM404.1 271.6L405.7 270.1L407.3 270.3L407.7 272.1L405.9 272.8ZM417.2 275.6L416 274.8L416.7 274L418.4 274L419 275.1ZM411.6 262.6L411.9 261.4L413 261.8L413.3 263L412.6 263.8ZM425.8 283.6L425.3 282.2L426.1 280.6L427.5 280.8L426.9 283ZM429.2 272.7L427.2 272.9L425.4 271L425.9 270.3L428.1 270.7ZM432.2 272.3L431.1 272.2L430.6 271.1L431.7 270.3L432.7 271.3ZM415.1 277.7L415.1 275.5L416.4 274.4L418.2 275.4L417.4 277.3ZM408.8 260.9L409.4 259.6L410.6 259.4L411.2 260.5L410.3 261.4ZM423.3 259.6L421.4 260.2L419.5 258.8L420 258L422.3 258.4ZM419.8 281.9L420 280.6L422.7 279.4L423 280.5L421.8 281.7ZM414.9 276.9L413.6 276.6L412.2 275.7L412.5 275.2L414.1 275.8ZM428 284.4L428.2 283.4L428.9 283L429.6 283.6L429 284.5ZM428.3 264.6L428.2 263L429.3 262.7L429.9 263.5L429.5 264.5ZM415.3 273.6L414.9 272L416.2 269L417.3 269.1L416.6 272.2ZM431 272.2L428.6 271.7L427.6 269.7L429.2 268.9L430.4 270ZM428.8 279.6L427.2 279.5L426.6 278.4L427.6 277.7L428.4 278.3ZM416.5 277.4L414.9 277L413.1 275.1L413.4 274.3L415.3 275.4ZM418.6 254.6L417.9 253.6L418.8 252.5L420.5 253.6L419.9 254.8ZM410.5 275L410.6 273.4L411.4 271.9L412.4 271.8L411.9 273.9ZM415.2 267.2L414.4 266.1L415.1 264.4L416.3 264.7L416.1 266.5ZM407.8 264.5L407.9 263L409.2 262.2L410.2 263.1L409.7 264.4ZM530.8 438.3L531.4 437.9L532.8 437.9L533 438.3L531.4 438.8ZM522.3 421.9L522.2 420.7L523.1 420.2L523.7 420.7L523.4 421.7ZM528.7 437.2L528 436.6L526.5 434.3L526.8 434.2L528.5 436.3ZM522.3 426L522.2 424.1L522.8 422.5L523.6 423L523.2 425.3ZM541.4 443.4L540.7 442.1L541.8 440.8L542.6 441.3L542.5 442.6ZM524 419.9L523.4 419.6L522.4 418.2L522.7 417.9L523.8 419ZM526.6 447.5L526.4 446.3L526.7 445.2L527.4 445.2L527.3 446.5ZM523.4 450L523.1 449.2L524.3 447.3L525 448L524.7 449.2ZM521.8 424.2L521.1 424.2L520.8 423.3L521.5 422.7L522.4 423ZM531.6 422.2L530.6 423.2L529.8 422.5L530.5 421L531.4 420.8ZM533.9 421.3L532.6 421.8L530 420.1L530.7 419.3L533.1 420.1ZM532.8 425.1L531.7 423.8L531 421.7L531.4 421.3L532.6 423.3ZM536.9 450.6L536.4 449.7L536 447.3L536.3 447L537 448.8ZM528.6 419.4L527.1 419L526.9 418L528.3 417.1L529.2 417.9ZM530.3 449.4L529.5 448.4L528.9 446L529.6 445.9L530.6 448.2ZM526.6 419.7L525.9 420.7L524.7 419.9L524.8 418.8L525.7 418.1ZM535.2 436.6L534.2 435.5L535 434.5L536 434.7L536.3 436.2ZM533.6 447L533.1 445.5L534 443L534.6 443.3L534.4 445.7ZM524.2 438.4L524.8 436.7L526 437.2L526.1 438.6L524.8 439.1ZM522.7 420.6L521.6 419L521.7 417.6L522.7 417L523.6 419.4ZM521.2 420.5L519.9 421.2L517.6 419.7L518 418.6L520.1 418.6ZM524.1 449L524.1 447.4L525.5 445.8L526.9 446.3L526.3 448.3ZM522.1 444.6L521.9 443.7L522.2 442.1L522.8 441.9L522.5 443.9ZM531.1 425.5L531.3 424.6L532.3 424L532.7 424.3L532.1 425.1ZM524.3 432.6L523.9 431.7L524.9 430.3L526.2 430.7L526.1 432.1ZM524.1 435L524.7 433.9L525.7 433.4L526.1 434L525.1 435ZM537.7 439L538.2 437.8L540.2 436.4L540.8 437.1L539.7 438.6ZM523.5 417.9L523.6 417L524.3 416.2L524.8 416.4L524.3 417.5ZM532.4 434.4L531.1 435.6L529.7 434.8L529.8 433.3L532 433.4ZM541.1 451.3L540.7 451.1L540.4 449.9L541 449.7L541.5 450.4ZM524.1 427.9L523.7 426.6L524.8 425.1L526.3 425.8L525.3 427.7ZM532.5 430L532 429.4L531.9 427.8L532.3 427.9L532.6 429.5ZM532.3 425.2L533.1 423.9L534.5 422.5L535.2 422.7L533.3 424.8ZM529.9 418.5L529.1 417.2L528.7 415.4L529.1 415.3L529.9 417.1ZM529 440L527.6 440.5L526.5 439.5L527 438.6L528.5 439ZM541.8 414.5L540.8 414.4L540.2 413.2L540.8 412.6L542 413.3ZM548.6 425.2L547.6 424.4L546.6 422.3L547.2 422.5L548.3 424.2ZM555.8 424.1L556.1 422.9L557.2 421.8L557.8 422L556.8 423.4ZM555.5 424.6L555 423.5L555.2 421.3L555.7 421L556.1 422.9ZM546.3 423L544.6 423.7L543.7 423.2L543.6 421.9L545.6 421.9ZM544.6 418.3L543.4 416.6L543.4 415.2L544.5 414.7L545.2 417.2ZM557.5 438L557.7 435.7L558.9 434.9L560.2 435.5L558.9 437.8ZM550.2 417.5L549 417.7L547.7 417.4L547.8 416.9L549.2 417ZM548.2 422.5L546.5 422.6L545.1 421.4L545.8 420.5L547.6 421.1ZM538.6 416.1L538.9 414.7L540.1 412.7L540.8 412.8L540.1 414.8ZM552.2 423.6L553.8 423.1L555.8 423.1L556.5 423.6L553.8 424.1ZM542 426.4L541 425L542 424.4L543 424.9L543.1 426.2ZM545.7 414.3L546.4 413.3L547.9 413.7L548.1 414.5L546.6 415.4ZM556.3 428.8L557.1 427.5L559.2 426.6L559.6 427.1L558.1 428.4ZM546.8 430.3L547.8 428.5L549.2 428.5L549.9 429.9L548.4 431ZM552.5 419L551.9 417.7L553 416.2L553.6 416.5L553.3 418.5ZM543.3 428.8L542.4 429L541.8 428.8L541.8 428.3L542.7 428.3ZM552.3 436.4L551 436.9L550.1 436L550.9 434.5L552.2 434.8ZM564 435.7L563.8 434.8L565.3 432.7L566.4 433.5L566.1 434.9ZM544.6 418.2L545.1 417.3L546.8 416.4L547.3 417.2L545.8 418.4ZM543.2 415.2L542 414.7L541.1 412L542.1 411.4L543.1 413.1ZM542.6 418.8L540.9 418.8L539.4 417.9L539.9 417.3L541.9 417.8ZM546 426.8L545.2 427.2L544.8 426.7L545.2 426.1L546 426.3ZM550 422.5L549.2 421L549.1 418.9L549.5 418.7L550.2 421ZM538.3 421.6L538.8 420.2L539.7 419.2L540.3 419.3L539.5 421ZM544 423.4L542.6 423.2L542.4 422.1L543.1 421.4L544.6 422.2ZM562.4 435L561.6 434.5L560.4 432.4L561.1 432.5L562 433.8ZM560.1 429.6L560.2 428.8L561.2 428.5L561.5 429.1L560.9 429.7ZM561.4 434.1L560.6 433.3L561 432.4L561.9 432.3L562.4 433.5ZM550.7 441.4L549.8 440.6L550.1 439.5L551.1 439.7L551.2 440.7ZM551.8 416.1L550.2 416.4L548.9 415.4L549.1 414.7L550.8 414.6ZM550.7 438.3L550.6 437.7L551.1 436.4L551.5 436.8L551.3 437.8ZM561.1 430.5L560.3 431.1L558.3 430.7L558.5 429.5L560.1 429.3ZM539.3 416.6L538 416.2L536.9 413.7L537.9 413.6L538.9 414.9ZM559.8 437.1L558.3 438.2L557.4 437.9L557.3 436.1L559.1 435.9ZM553.8 423.8L553.9 422.6L554.8 421.5L555.8 421.8L555.2 423.5ZM549.2 417.5L548.7 417.7L547.6 417.3L547.5 416.6L548.9 416.8ZM562.4 429L561.3 429.1L560.3 428.4L560.7 428L562 428.5ZM538.3 416.2L538.5 415.4L540.3 414.3L540.6 414.7L539 416.2ZM557.7 430.3L557 428.2L557.7 426.3L558.6 426.4L558.7 428.7ZM547.8 434.9L547.6 433.8L549 431.2L549.9 431.9L549.5 433.5ZM556.8 423.8L555.6 423.5L555.8 423L557.3 422.4L558.1 422.9ZM544.2 423.2L543.3 422.6L543.2 421.3L544.3 421.1L544.8 422.1ZM563.2 432.7L563.2 431.4L564.3 431.5L564.6 432.7L563.9 433.2ZM548.7 415.7L547.1 415.5L546.1 414.2L546.6 413.8L548 414.5ZM564.3 435.5L564.1 434.2L564.8 433.5L565.7 433.7L565.2 435.1ZM560.3 433.6L559.5 433.5L557.5 432.3L557.8 432.1L559.7 433ZM548.9 425.8L547.6 426L547.7 425.2L548.8 424.4L549.7 424.9ZM548.4 414.2L547.8 413.2L548.2 411.8L548.9 412L549.1 413.1ZM550.6 418.6L549.9 417.6L549.4 415.6L549.6 415L550.7 417.5ZM559.6 429.6L559.2 429.1L559 427.3L559.7 427.3L560 428.7ZM580.9 414.6L579.5 413.9L579.7 412.7L581.4 412.4L581.7 414ZM591.5 415.5L590.1 415.9L588.3 415.6L588.4 414.8L590.1 414.9ZM555.8 421.6L554.5 421.3L552.3 420.1L552.1 419.6L555.1 421ZM585.9 406.8L586.6 405.1L588.1 404.6L588.4 405.4L587.1 406.7ZM590.9 416.1L589 415.8L587.5 414.2L587.9 413.6L590 414.6ZM597.7 400.8L597.3 399.4L598.3 398.6L599.8 399.7L599.3 400.8ZM551.6 413.1L551.3 412.3L552.1 411.8L552.7 412.2L552.4 413.2ZM561 405L561.9 404.2L563.9 403.6L564.6 404L562.9 404.9ZM565.2 423.4L565.3 421.6L566.9 420.7L567.7 421.3L567.4 423ZM577.8 411.2L579.4 410.5L581.8 410.3L581.7 410.7L579 411.2ZM591.3 406.3L591.9 404.6L593.5 403.9L594.6 405.3L593.3 406.7ZM556.9 410.2L557.5 409.4L558.3 409.2L558.6 409.9L557.8 410.4ZM583.9 396.4L583.2 396.7L581.7 395.8L582 395.3L583.3 395.4ZM571.7 417.3L570.8 416.1L569.8 413.8L570.3 413.8L571.5 416ZM583.3 408.5L582.3 408.5L581.3 408L581.5 407.2L582.7 407.6ZM565 408.7L565 407.8L566 407.1L567 408.2L566.2 409.1ZM562.8 407.5L561 407.6L560.3 406.7L560.9 405.2L562.7 405.6ZM567.3 415.2L566.7 415.4L565.8 415L566 414.6L566.7 414.7ZM566.2 400.9L566.8 399L568 397.7L568.5 398L567 400.3ZM575.6 417.2L575.2 416.5L575.8 415.9L576.8 416.4L576.9 417.2ZM564.1 430.9L563.3 429.4L564.8 427.1L565.7 427.4L565.7 429.5ZM594.4 399.2L592.3 399.3L590.4 398.3L590.9 397.8L593.2 398.3ZM577.2 417.2L575.8 417.3L573.6 416.4L574.2 415.5L576.2 416.1ZM564 404.2L564.7 403.6L565.5 403.6L565.7 404.1L564.4 404.5ZM600.4 303.7L600 302.7L601 302L601.9 302.9L601.5 303.8ZM590.7 302.1L589.6 302.4L589.1 301.9L589.3 300.9L590.6 301ZM622.5 371.1L622.5 370.2L623.8 368.7L624.1 369.1L623.2 370.7ZM599.5 293.7L599.1 293.2L599.2 292L599.8 291.8L600.1 293.2ZM573.1 291.8L572.2 291.6L571.2 289.9L572 289.2L573 290.5ZM617.1 313.7L616.4 314L615.3 312.3L616.5 311.5L617.6 312.3ZM553 303.3L552 303.6L550.7 302.1L551.6 301.2L553 301.8ZM595.9 297.9L595.4 296.6L596.7 294.6L598.1 295.4L597.6 297.4ZM619.8 322.7L619.8 322.1L620.8 322L621.1 322.6L620.5 323.3ZM585.3 345.4L583.7 346.3L582.7 345.9L582.8 344.5L584.8 344.7ZM592.8 320L591.2 320L590.2 318L591 317.3L592.7 318.5ZM609.9 338.4L609.1 337.5L610 335.3L611.4 335.9L611.6 337.1ZM595.8 395.2L595.1 395.1L594.1 394.4L594.3 394.1L595.2 394.4ZM553.6 302.5L553 301.4L554.5 300.1L555.3 300.5L555.1 302.3ZM588.4 355.7L587.7 355.1L587.4 353.6L587.8 353.7L588.4 355.2ZM596.2 328L595.3 327.3L594.5 325.7L594.9 325.7L595.8 326.9ZM567.3 287.4L566.3 287.5L566.2 286.5L567 286.1L567.7 286.7ZM621.4 320.1L620.5 319.9L619.7 317.9L620.7 317.2L622.1 318.6ZM597.5 366.2L597.6 365.1L598.9 365.2L599.3 366.3L598.1 367.2ZM602 281.5L601 281.9L600.4 281.2L601.5 280.1L602.1 280.4ZM605.3 391.9L605 390.7L606 390.8L606.6 391.6L606.5 392.3ZM614.8 291.5L614.6 289.3L616.2 287.8L617.1 289L616.3 290.7ZM578.8 350.5L578.7 349L580.1 348.3L580.7 349.5L580.1 350.3ZM603.5 354.9L603.5 354.3L604 353.5L604.4 353.6L604.1 354.3ZM620.9 310.8L620.6 310L620.7 309.1L621.1 308.8L621.3 310.2ZM588.9 382.3L589.1 381.8L589.8 381.6L590.1 382.2L589.5 382.5ZM614.7 297.4L613.8 298L612.5 297.7L612.6 296.9L613.8 296.8ZM620.2 335.9L619.6 335.2L619.4 333.9L620.2 333.7L620.6 334.7ZM565.9 310.3L565.4 309.6L565.8 308.6L566.4 308.8L566.4 309.6ZM612.4 293.2L611.5 292.7L611 290.9L611.9 290.7L612.5 291.6ZM612 343L612.7 341.4L614.1 340.9L614.9 341.5L613.6 343.5ZM561.9 308.1L561.4 307.4L561.5 305.9L562.1 306L562.2 307.5ZM580.9 301.6L579.4 300.8L579.1 298.6L580.8 298.2L581.6 299.8ZM579.9 347.6L579.9 346.5L580.6 345.1L581 345.3L580.5 346.8ZM585 343L585.4 340.9L586.3 339.9L587.3 340.3L586.3 342.1ZM581.2 532.9L581 531.9L581.4 530.5L581.8 530.7L581.9 531.9ZM577.6 524.7L576.2 524.5L575.9 523L576.7 522.6L577.9 523.7ZM575.3 526.3L575.9 525.5L578 523.8L577.9 524.4L576.7 525.5ZM579 524.3L578.2 523.5L578.7 522.8L579.9 523.2L580.5 524.2ZM591 524.9L589.9 525.5L588.5 524.9L588.5 524L590.6 523.8ZM589.1 527.5L587.3 527.4L586.2 526L587.1 525.5L588.6 526.5ZM582.8 513.7L583 512.7L583.9 512.8L584.1 513.5L583.3 514.1ZM575.8 520L575.3 520.4L574.7 520.2L574.7 519.7L575.5 519.7ZM585.9 530.5L587.2 529.4L589.1 529.4L589.3 531.4L586.9 531.8ZM588.2 528.5L587.4 528.8L587 528L587.5 527.5L588.2 527.7ZM591.3 520.2L590.2 520.3L590.2 519.4L590.8 519L591.6 519.6ZM584.2 515.7L583.1 514.9L582.7 513.5L583.5 513.5L584.2 514.3ZM576.7 522.7L575.4 522.2L574.6 521.2L575 520.4L576.4 521.3ZM580.7 518.3L580.6 517.4L581.4 517.2L581.7 517.9L581.2 518.4ZM594.2 516.3L593.8 515.8L593.8 514.1L594.2 514.3L594.3 515.4ZM590.3 527.8L591.1 526.3L593.1 526.6L593.2 528L591 528.4ZM592.7 517.2L592 516.8L592.2 515.7L593.3 515.6L593.8 516.6ZM586.2 516.5L585.8 515.8L585.8 513.8L586.4 513.9L586.7 515.5ZM746.4 187.8L745.5 187.7L745.3 187.1L745.9 186.6L746.4 186.9ZM770.1 196.5L770.9 195.5L773.7 195.1L774 195.9L771.7 197.3ZM804.6 181L804.1 179.8L805.4 178.9L806.1 179.7L805.5 180.9ZM777.8 141.9L777.6 140.5L778.5 140.6L779.1 141.6L778.6 142.4ZM760.1 171.2L758.7 171.6L757.3 170.9L757.8 170.5L759.5 170.8ZM796.5 168.5L796.2 167.3L797.4 164.7L798.1 165.2L797.7 167.6ZM769.2 194.5L767.6 193.8L766.1 192.3L766.6 191.9L768.4 193.2ZM790.9 189.2L790.1 189.3L789.1 188.6L789.2 187.8L790.6 188.1ZM784.6 200.8L783.5 201.4L783.1 201L783.4 199.9L784.5 200.2ZM783.9 154.6L783.9 153.6L784.8 153L785.7 153.4L785.1 154.8ZM774.8 154.3L773.6 155.5L771.9 155.3L771.5 154.1L773.8 153.5ZM771 205.3L769.7 204.6L767.9 202.6L768.5 202.6L770 203.9ZM768.6 193.3L769.6 192.7L770.8 192.4L771.1 192.9L769.9 193.4ZM776.4 149L775.5 148.3L775.8 147.6L776.8 147.6L777 148.6ZM774.8 197.9L773.7 198.4L773.4 197.9L774 196.7L775.1 196.7ZM785.9 165.1L784.9 163.7L785.7 162.9L787 163.2L787.3 164.6ZM729.1 192L728.9 190.5L730.1 190.3L730.6 190.9L730.2 192.1ZM767.9 168L768.3 167.7L769.3 167.5L769.3 167.9L768.3 168.3ZM773.6 191.7L774.4 190.5L776.1 190.4L776.3 192.2L774.8 192.8ZM768.2 153.2L767.4 152.5L767.4 150.8L768.2 150.7L768.9 152.4ZM769.4 160.1L770 158.5L771.9 157.3L773.1 158.1L771.5 160.1ZM739.3 195.2L738.9 193.9L739.4 193.2L740.8 193.5L740.8 194.6ZM783.6 142.5L783.5 141.9L784.2 140.4L784.5 140.4L784.3 141.5ZM734.5 183.9L733.9 183.1L734.4 181.6L736.1 181.9L736.1 183.2ZM748.4 191L749.2 190.3L750.8 190.2L751.1 190.7L749.4 191.4ZM876.3 142.2L877 141.3L879.5 141.3L879.5 141.9L877.2 142.6ZM855.4 139.2L855.6 137.8L857.1 137.3L857.9 138.7L856.7 139.6ZM873.5 246.5L873.1 244.9L873.4 242.7L874 242.4L874.1 244.8ZM858.9 272.4L857.9 273L857.3 272.1L857.9 271.4L858.6 271.4ZM852.5 269.3L851.4 269.1L850.2 267L851.3 266.4L852.3 267.8ZM785.6 129.2L784.8 128.5L784.5 126.4L785 126L785.8 128.3ZM878.5 180L877.3 179.6L876.5 178L877.2 177.3L878.5 178.7ZM872 311.5L871 312.1L869.9 311.6L870 310.6L871.5 310.5ZM882.8 237.4L882.5 236.4L882.9 235.5L883.8 235.8L883.5 237.1ZM925.3 272.1L923.8 271L922.7 269.7L922.8 269.1L925 271.2ZM865 254.1L865.6 253.3L866.9 253.5L866.8 254.4L865.6 254.6ZM894.8 163.3L893.8 163.1L893.2 161.9L893.5 161.7L894.7 162.7ZM935 302.4L934 301.2L934.9 300.6L936 301.2L936 302.1ZM840.4 228.9L839.8 227.7L839.6 226.1L839.9 225.9L840.5 227.9ZM853.1 191.7L851.7 191.2L850.5 188.9L851.4 187.8L853.6 190.1ZM862.8 263.8L862.4 262L863.9 261L864.8 261.7L863.9 263.6ZM919.8 219.4L919 218.4L918.6 217.1L919 217L919.7 218.1ZM899.9 163.3L898.4 164.1L896.6 163.2L897.1 161.8L898.5 161.8ZM820.2 132.9L819.5 133.1L818.6 132.6L818.6 132.1L819.7 132.4ZM945.2 300L943.7 299.8L942.4 298L943.2 297.2L944.6 298.2ZM840.7 165.9L840.8 164.6L843.3 163L843.8 164.1L842.4 165.8ZM673.2 209.5L671.9 208.9L672.3 208.2L673.6 208L674.3 208.8ZM641.9 226.5L642.9 225.1L644 224.2L644.4 224.3L642.7 226.2ZM641.2 244.1L639.5 243.5L638.4 241.8L639.4 240.8L641.3 242.9ZM639.4 222L639.8 221L641.3 220.5L641.4 221.3L640.6 221.9ZM624.7 210.7L624 210.9L623.5 210.2L623.7 209.8L624.6 209.8ZM647.5 189.9L647.7 188.7L648.9 188.3L649.6 189.4L648.4 190.2ZM684.7 226.5L683.7 227.1L682.2 226.5L682.5 225.4L683.9 225.3ZM651 211.9L650.1 212.6L647.6 211.8L647.6 211.1L649.8 211ZM642.6 208L641.9 207.6L641.9 207.1L642.6 206.9L642.9 207.5ZM660.4 229L661.4 228.1L662.9 227.9L662.9 228.5L661.9 229ZM658.6 238.8L657.8 238.4L657.4 237.6L658 237.1L658.6 237.7ZM678.5 234.2L677 234.2L676.5 233.4L677.1 232.5L678.4 233.4ZM647.1 233.3L646.1 233.8L645.2 233L645.6 232.1L646.7 232ZM631.7 230.5L630.3 229.9L629.3 227.5L629.9 227L631.6 229.1ZM649.4 249.9L649.6 249.2L650.9 248.9L651.2 249.6L650.1 250.4ZM497.9 237.2L497.6 235.8L498.5 234.7L499.3 235L499.1 236.4ZM472.5 239.9L472.8 239.1L473.9 239.1L474.2 239.7L473.3 240.4ZM451.2 231.4L450.3 231.7L449.8 230.9L450.1 230.4L451.2 230.8ZM479.1 240L479.7 239.4L480.6 239.5L480.9 240.7L479.6 241.1ZM489 238.9L487.7 238.7L486.4 237.2L486.9 236.5L488.6 237.6ZM477 248.1L477.9 246.8L479.2 246.3L479.8 247.5L478.5 248.4ZM497.7 240.7L496.8 241.4L496 240.7L496.2 239.8L497.4 239.7ZM497.8 231.4L498.7 230.7L500 230.5L500.6 231.2L498.7 231.8ZM480.7 242.9L481.2 241.8L483.1 241.6L483.4 242.9L482.3 243.7ZM448.7 234.3L449.2 233.9L450.8 233.3L451 233.8L449.9 234.3ZM501.1 226.5L499.6 226.4L499.1 225.7L499.6 224.7L500.8 225.3ZM483.5 241.1L482.1 240.5L482.4 238.6L483.5 238.5L484.3 240.3ZM467.8 233.5L465.8 232.9L465.2 230.7L466.8 230L467.9 231.3ZM483.2 232.7L481.8 233.1L479.9 232.2L480.1 231.3L482.4 232ZM491.2 234.9L490.9 234.6L490.8 233.5L491 233.5L491.4 234.2ZM495.3 222.9L495.9 222.3L496.7 222.5L496.7 223L495.7 223.2ZM470.3 244.8L469 245.3L467.4 244.4L468 243.5L469.5 243.6ZM472.4 231.4L472.1 230.7L472.6 229.5L473.1 229.9L473 230.6ZM450.5 242.6L451.4 241.5L452.7 241.6L452.9 242.8L452 243.4ZM474.7 223.8L474.8 221.9L475.6 220.5L476.4 220.3L475.8 222.6Z" stroke-width="0.8"/>
</g>
<g fill="none" stroke="#262626" stroke-width="1.0">
<path d="M320.1 345C320.7 338.1 322.2 331.1 324.1 324.4C325.9 317.7 328.7 311.2 331.4 304.9C334.1 298.6 337.1 292.5 340.2 286.6C343.3 280.7 346.6 274.9 350 269.3C353.4 263.7 356.9 258.2 360.5 252.9C364.2 247.6 368 242.5 371.9 237.4C375.9 232.4 379.9 227.4 384.3 222.8C388.6 218.2 393.3 213.8 398.1 209.6C402.9 205.5 407.9 201.5 413.1 197.9C418.3 194.3 423.8 191 429.4 188.1C435 185.1 440.8 182.5 446.6 180.3C452.5 178 458.6 176.2 464.6 174.5C470.6 172.8 476.7 171.3 482.8 170.2C489 169 495.2 168.2 501.4 167.6C507.5 167 513.8 166.6 520 166.5C526.2 166.5 532.5 166.7 538.7 167.3C544.9 167.8 551.1 168.8 557.2 169.9C563.4 170.9 569.6 172.1 575.6 173.7C581.7 175.4 587.6 177.6 593.5 179.9C599.4 182.2 605.2 184.7 610.9 187.6C616.5 190.5 622.1 193.6 627.4 197.2C632.7 200.7 637.6 204.8 642.5 209C647.3 213.1 652 217.6 656.4 222.2C660.9 226.8 665.2 231.6 669.2 236.6C673.1 241.7 676.9 247 680.2 252.5C683.5 258 686.4 263.8 689 269.8C691.6 275.7 693.7 281.8 695.6 287.9C697.5 294.1 699 300.4 700.2 306.7C701.4 313 702.2 319.4 702.7 325.8C703.3 332.2 703.5 338.6 703.5 345C703.5 351.4 703.5 357.8 702.9 364.2C702.3 370.6 701.3 377 700.1 383.3C698.9 389.6 697.5 395.9 695.8 402.1C694 408.3 692 414.5 689.6 420.5C687.2 426.5 684.5 432.5 681.6 438.3C678.6 444.1 675.4 449.9 671.9 455.4C668.3 460.8 664.4 466.1 660.2 471.2C656.1 476.4 651.6 481.2 647 486C642.4 490.8 637.6 495.5 632.6 499.9C627.5 504.4 622.3 508.7 616.8 512.6C611.2 516.5 605.4 520.2 599.4 523.4C593.4 526.7 587.2 529.9 580.8 532.1C574.3 534.3 567.5 535.9 560.8 536.8C554 537.7 547 537.7 540.2 537.5C533.4 537.4 526.7 536.6 520 535.8C513.3 535.1 506.8 534.1 500.2 533C493.7 531.9 487.2 530.8 480.8 529.3C474.4 527.7 468 526.1 461.9 523.9C455.8 521.6 449.7 518.8 444 515.6C438.3 512.5 432.9 508.7 427.6 505.1C422.2 501.5 417 497.7 411.9 493.8C406.8 489.9 401.8 485.9 396.8 481.9C391.7 477.8 386.6 473.9 381.6 469.6C376.7 465.3 371.7 460.9 367.1 456.1C362.4 451.4 357.8 446.4 353.6 441.1C349.4 435.8 345.3 430.2 341.8 424.4C338.2 418.5 334.9 412.4 332.1 406C329.3 399.7 326.7 393.2 324.8 386.5C322.9 379.8 321.3 372.9 320.6 366C319.8 359 319.5 351.9 320.1 345Z"/>
<path d="M305.4 345C305.7 337.5 306.7 330 308 322.7C309.4 315.4 311.3 308.2 313.6 301.1C315.8 294.1 318.4 287.2 321.5 280.5C324.5 273.8 328 267.4 331.7 261.1C335.3 254.9 339.4 248.9 343.6 243.2C347.8 237.4 352.5 232 357.1 226.7C361.8 221.4 366.6 216.2 371.6 211.4C376.6 206.5 381.8 201.9 387.2 197.5C392.6 193.2 398 188.8 403.8 185.1C409.6 181.4 415.8 178.1 422 175.2C428.2 172.4 434.6 169.8 441.1 167.8C447.6 165.7 454.2 164.2 460.8 162.8C467.4 161.4 473.9 160.2 480.5 159.3C487.1 158.3 493.7 157.6 500.3 157.1C506.8 156.7 513.4 156.4 520 156.3C526.6 156.3 533.2 156.4 539.8 156.9C546.3 157.4 552.9 158.3 559.5 159.4C566 160.4 572.6 161.5 579.1 163.1C585.6 164.7 592 166.8 598.3 169.1C604.7 171.3 611 173.8 617.1 176.7C623.3 179.6 629.4 182.8 635.2 186.5C641 190.1 646.5 194.2 652 198.5C657.4 202.7 662.7 207.2 667.8 211.9C672.9 216.7 677.9 221.6 682.6 226.9C687.3 232.1 691.7 237.7 695.9 243.5C700 249.3 703.8 255.3 707.3 261.6C710.8 267.9 714 274.4 716.9 281C719.7 287.7 722.2 294.6 724.2 301.6C726.3 308.6 727.8 315.8 729.1 323C730.4 330.3 731.6 337.6 732.1 345C732.5 352.4 732.4 359.9 731.7 367.3C731 374.6 729.4 381.9 727.7 389.2C726.1 396.4 724.1 403.5 721.7 410.6C719.4 417.6 716.7 424.5 713.6 431.2C710.6 437.9 707.2 444.6 703.6 451C700 457.4 696.1 463.8 691.8 469.9C687.6 475.9 683 481.8 678.2 487.5C673.4 493.1 668.3 498.6 663.1 503.9C657.8 509.2 652.5 514.6 646.8 519.5C641.1 524.5 635.1 529.2 628.9 533.6C622.6 537.9 616.1 542 609.3 545.7C602.6 549.4 595.7 553.1 588.5 555.7C581.3 558.4 573.6 560.4 566.1 561.7C558.5 562.9 550.6 563 542.9 563C535.2 563.1 527.6 562.5 520 562C512.4 561.5 504.9 560.8 497.4 559.9C489.9 559.1 482.4 558.3 475 556.9C467.6 555.4 460 553.9 453 551.1C446 548.4 439.2 544.7 433 540.5C426.7 536.3 421.1 530.8 415.6 525.9C410 521 404.7 515.9 399.5 510.9C394.2 505.9 389.2 501 384 496.1C378.8 491.2 373.4 486.6 368.3 481.6C363.1 476.6 358.1 471.5 353.3 466.1C348.5 460.7 343.7 455.2 339.4 449.3C335.1 443.4 331.1 437.1 327.5 430.7C323.9 424.3 320.7 417.5 317.9 410.7C315.1 403.8 312.5 396.7 310.6 389.5C308.6 382.3 307.1 374.9 306.3 367.5C305.4 360 305.1 352.5 305.4 345Z"/>
<path d="M358.9 345C359.8 339.4 361.9 333.8 364.4 328.6C366.8 323.5 370.5 318.6 373.7 313.9C376.8 309.2 380.3 304.9 383.2 300.5C386 296.1 388.6 292 390.9 287.5C393.1 283 394.8 278.5 396.6 273.8C398.5 269.1 399.9 264.1 402 259.3C404.1 254.5 406.3 249.6 409.1 245.2C411.9 240.7 415.1 236.4 418.7 232.5C422.3 228.6 426.4 225.1 430.6 221.9C434.7 218.6 439.2 215.8 443.8 213C448.4 210.3 453.1 207.7 457.9 205.5C462.7 203.3 467.7 201.3 472.7 199.6C477.8 197.8 482.9 196.2 488.1 195C493.3 193.8 498.7 193.1 504 192.5C509.3 191.9 514.7 191.6 520 191.6C525.3 191.5 530.7 191.7 536.1 192.1C541.4 192.6 546.7 193.4 552 194.3C557.3 195.2 562.7 196.3 567.8 197.8C573 199.3 578.1 201.3 583 203.5C588 205.6 592.9 207.9 597.6 210.6C602.3 213.2 607 216.1 611.3 219.3C615.6 222.6 619.7 226.2 623.5 230C627.3 233.8 630.9 238 634.1 242.3C637.3 246.6 640.3 251 642.9 255.7C645.5 260.3 647.8 265.2 649.6 270.2C651.5 275.1 653 280.2 654.1 285.3C655.3 290.4 656 295.5 656.6 300.6C657.2 305.7 657.6 310.7 657.8 315.7C657.9 320.7 657.8 325.7 657.5 330.6C657.1 335.4 656.2 340.3 655.5 345C654.9 349.7 654.2 354.4 653.5 359C652.7 363.7 651.9 368.3 650.9 372.8C650 377.4 648.9 382 647.7 386.5C646.5 391 645.3 395.6 643.7 400.1C642.1 404.5 640.2 408.9 638.1 413.2C636 417.5 633.8 421.8 631.2 425.8C628.7 429.9 625.8 433.8 622.8 437.6C619.8 441.3 616.6 445 613.2 448.5C609.7 451.9 606 455.1 602.2 458.2C598.4 461.2 594.4 464.2 590.3 466.7C586.1 469.3 581.7 471.5 577.2 473.4C572.7 475.4 568 477.1 563.3 478.3C558.6 479.6 553.7 480.3 548.9 480.8C544 481.4 539.2 481.4 534.3 481.4C529.5 481.4 524.7 481.2 520 480.9C515.3 480.5 510.6 479.8 505.9 479.1C501.2 478.5 496.6 477.8 492 477C487.3 476.1 482.6 475.4 478 474.3C473.3 473.2 468.7 471.9 464.1 470.5C459.5 469.2 454.8 467.8 450.1 466.1C445.5 464.3 440.9 462.4 436.3 460.3C431.7 458.1 427 455.8 422.5 453.3C418 450.7 413.5 447.9 409 444.9C404.6 441.9 400.1 438.7 396 435.1C391.9 431.5 388 427.5 384.4 423.3C380.8 419.1 377.6 414.5 374.6 409.7C371.7 405 368.9 400 366.7 394.8C364.5 389.6 362.8 384.2 361.4 378.7C360 373.2 358.9 367.6 358.5 362C358.1 356.4 357.9 350.6 358.9 345Z"/>
<path d="M347.9 345C348.8 339.1 350.8 333.1 353.1 327.5C355.5 321.9 359 316.5 362 311.4C365.1 306.3 368.5 301.5 371.4 296.7C374.3 291.9 377 287.3 379.6 282.5C382.2 277.7 384.4 272.9 386.8 268.1C389.2 263.2 391.3 258.2 393.9 253.4C396.5 248.6 399.2 243.6 402.4 239.1C405.6 234.6 409.2 230.3 413.1 226.3C417.1 222.4 421.4 218.8 425.8 215.4C430.3 212 435 209 439.8 206.1C444.6 203.3 449.6 200.7 454.7 198.4C459.8 196.1 465.1 194.1 470.4 192.3C475.7 190.5 481.1 188.8 486.5 187.5C492 186.3 497.6 185.4 503.2 184.8C508.7 184.1 514.4 183.7 520 183.7C525.6 183.6 531.3 183.8 536.9 184.3C542.5 184.8 548.1 185.7 553.6 186.7C559.2 187.7 564.8 188.8 570.2 190.4C575.7 192 581 194.1 586.2 196.3C591.4 198.5 596.6 201 601.6 203.7C606.6 206.4 611.5 209.4 616.1 212.7C620.7 216.1 625 219.9 629.1 223.8C633.2 227.8 637 232 640.6 236.4C644.2 240.8 647.6 245.3 650.6 250.1C653.6 254.9 656.3 259.9 658.6 265C660.9 270.1 662.8 275.4 664.3 280.8C665.8 286.1 666.9 291.6 667.8 297C668.7 302.4 669.4 307.8 669.7 313.2C670.1 318.5 670.2 323.9 670.1 329.2C669.9 334.5 669.3 339.8 668.8 345C668.3 350.2 667.7 355.3 667 360.4C666.2 365.6 665.4 370.6 664.3 375.7C663.3 380.7 662.2 385.8 660.8 390.7C659.4 395.7 657.9 400.7 656 405.6C654.2 410.4 652.1 415.2 649.7 419.9C647.4 424.6 644.9 429.2 642 433.6C639.1 438 635.9 442.3 632.5 446.3C629.2 450.4 625.6 454.3 621.8 458.1C618 461.8 614 465.3 609.8 468.6C605.7 472 601.3 475.2 596.8 478C592.3 480.9 587.5 483.4 582.6 485.6C577.7 487.8 572.6 489.8 567.5 491.1C562.3 492.4 556.9 493.2 551.6 493.7C546.3 494.1 540.9 494 535.6 493.8C530.4 493.5 525.1 492.9 520 492.3C514.9 491.7 509.8 491 504.7 490.2C499.7 489.3 494.7 488.4 489.7 487.4C484.7 486.4 479.8 485.3 474.8 484C469.9 482.7 465 481.1 460.1 479.5C455.2 477.8 450.3 476.1 445.5 474.1C440.6 472.1 435.8 469.9 431 467.4C426.3 465 421.5 462.4 416.8 459.6C412.1 456.8 407.4 453.8 402.9 450.5C398.3 447.2 393.6 443.8 389.3 440C385 436.1 380.8 432 377 427.6C373.2 423.1 369.6 418.4 366.4 413.4C363.1 408.4 360.2 403.2 357.7 397.7C355.2 392.3 353.1 386.6 351.4 380.8C349.8 375.1 348.5 369.1 347.9 363.1C347.3 357.1 347.1 350.9 347.9 345Z"/>
<path d="M397.1 345C398.5 340.8 400.7 336.6 403 332.7C405.3 328.8 408.4 325.3 411.1 321.9C413.8 318.4 416.7 315.4 419.1 312.2C421.5 309.1 423.6 306.1 425.5 302.9C427.3 299.8 428.8 296.6 430.4 293.2C431.9 289.9 433.2 286.6 434.6 282.9C435.9 279.3 437.2 275.7 438.5 271.6C439.7 267.5 440.3 262.5 441.9 258.2C443.5 254 445.5 249.5 448.2 246.2C450.9 242.8 454.6 240.3 458.2 237.9C461.7 235.5 465.7 233.7 469.6 231.9C473.6 230.1 477.6 228.6 481.7 227.1C485.8 225.7 489.9 224.3 494.1 223C498.2 221.7 502.5 220.3 506.8 219.2C511.1 218.2 515.5 217.3 520 216.7C524.5 216.2 529 215.9 533.6 215.8C538.2 215.7 542.8 215.8 547.4 216.1C552 216.4 556.7 216.9 561.3 217.7C566 218.6 570.7 219.6 575.2 221.1C579.6 222.6 584.2 224.4 588.3 226.7C592.4 229 596.4 231.8 599.9 235C603.4 238.2 606.7 241.8 609.4 245.7C612.1 249.6 614.4 254 616.3 258.3C618.2 262.6 619.7 267.2 620.9 271.7C622.1 276.2 623 280.7 623.7 285.1C624.5 289.5 624.9 293.9 625.3 298.1C625.6 302.4 625.8 306.5 625.9 310.6C626.1 314.6 626.2 318.6 626.1 322.4C626.1 326.3 626 330.1 625.7 333.9C625.4 337.7 624.9 341.3 624.4 345C623.9 348.7 623.5 352.3 622.8 355.8C622 359.3 621.2 362.9 620.1 366.3C619.1 369.7 617.7 373 616.2 376.2C614.7 379.5 612.9 382.6 611.1 385.6C609.2 388.5 607.2 391.4 605.1 394.1C603 396.8 600.7 399.4 598.3 401.9C595.9 404.3 593.4 406.6 590.9 408.8C588.3 411 585.7 413.1 583 414.9C580.3 416.8 577.4 418.5 574.6 420.2C571.8 421.8 568.9 423.3 566 424.6C563 425.9 560 427.1 557 428.1C554 429.2 551 430.1 547.9 430.9C544.8 431.7 541.7 432.2 538.7 432.8C535.6 433.3 532.5 433.8 529.4 434.2C526.3 434.5 523.1 435 520 435.1C516.9 435.1 513.7 434.8 510.6 434.6C507.4 434.3 504.3 434 501.2 433.6C498 433.3 494.8 432.9 491.6 432.4C488.4 431.9 485.2 431.2 481.9 430.5C478.7 429.8 475.4 429 472 428.2C468.6 427.4 465.2 426.4 461.5 425.5C457.9 424.5 454.1 423.6 450.2 422.5C446.3 421.4 442.1 420.3 438 418.9C433.8 417.4 429.2 416 425.1 413.9C421 411.9 416.8 409.5 413.3 406.6C409.8 403.7 406.6 400.3 404.1 396.6C401.5 392.9 399.5 388.8 398 384.6C396.5 380.5 395.6 376 395 371.6C394.5 367.1 394.3 362.6 394.6 358.2C395 353.7 395.7 349.2 397.1 345Z"/>
<path d="M383.2 345C384.4 340.3 386.5 335.6 388.9 331.2C391.3 326.9 394.7 322.8 397.6 319C400.5 315.1 403.7 311.7 406.3 308.1C408.8 304.4 411.1 301 412.9 297.3C414.8 293.6 416 289.8 417.4 285.7C418.7 281.7 419.7 277.4 421.1 273.2C422.5 268.9 424 264.5 425.8 260.2C427.6 255.9 429.4 251.2 431.9 247.2C434.4 243.1 437.4 239.2 440.8 236C444.1 232.7 448.1 230 452.1 227.4C456.1 224.8 460.3 222.6 464.6 220.5C468.8 218.4 473.3 216.6 477.8 215C482.2 213.3 486.8 211.8 491.4 210.5C496 209.3 500.8 208.2 505.5 207.5C510.3 206.7 515.2 206.1 520 205.9C524.8 205.6 529.7 205.7 534.6 205.9C539.5 206.1 544.4 206.6 549.3 207.3C554.1 208 559.1 208.8 563.9 210C568.7 211.2 573.4 212.8 578 214.6C582.7 216.5 587.3 218.5 591.6 221C595.9 223.5 600.1 226.3 603.9 229.5C607.8 232.6 611.4 236.2 614.5 240C617.7 243.8 620.5 248.1 622.9 252.3C625.4 256.6 627.4 261.2 629.2 265.7C630.9 270.2 632.3 274.9 633.4 279.5C634.5 284.2 635.2 288.9 635.8 293.4C636.4 298 636.7 302.6 636.9 307C637.1 311.5 637.2 315.8 637.1 320.1C637.1 324.4 636.9 328.6 636.4 332.8C636 336.9 635.2 341 634.5 345C633.8 349 633.2 352.9 632.4 356.8C631.7 360.7 630.8 364.6 629.8 368.3C628.7 372.1 627.5 375.8 626.1 379.5C624.8 383.1 623.4 386.8 621.7 390.3C620 393.8 618.1 397.2 616.1 400.5C614.1 403.8 611.9 407 609.5 410C607.1 413.1 604.6 416 601.9 418.8C599.3 421.5 596.5 424.3 593.6 426.7C590.7 429.2 587.5 431.5 584.4 433.6C581.2 435.7 577.9 437.7 574.5 439.5C571.2 441.2 567.6 442.7 564.1 444C560.5 445.3 556.9 446.4 553.2 447.2C549.6 448.1 545.8 448.7 542.1 449.2C538.5 449.7 534.8 450 531.1 450.3C527.4 450.5 523.7 450.8 520 450.8C516.3 450.7 512.6 450.4 509 450.1C505.3 449.8 501.6 449.4 497.9 449C494.2 448.6 490.4 448.2 486.7 447.6C482.9 447 479.1 446.2 475.3 445.4C471.5 444.5 467.6 443.7 463.6 442.6C459.7 441.5 455.8 440.3 451.8 438.9C447.7 437.5 443.6 436.2 439.4 434.5C435.3 432.8 431 431 426.8 428.9C422.6 426.8 418.1 424.6 414.1 421.9C410.1 419.2 406.1 416.2 402.7 412.7C399.3 409.3 396.2 405.4 393.6 401.3C391 397.2 388.7 392.8 386.9 388.2C385.2 383.7 384 378.9 383.2 374.1C382.3 369.3 381.7 364.4 381.7 359.5C381.8 354.7 382.1 349.7 383.2 345Z"/>
<path d="M512.8 266.2C514.3 264.9 516.7 262.6 518.6 260.7C520.5 258.8 522.3 256.8 524.2 255C526.2 253.2 528.2 251.4 530.3 249.9C532.5 248.3 534.8 246.9 537.1 245.6C539.4 244.3 541.7 242.8 544.2 242C546.6 241.2 549.3 240.8 551.9 240.6C554.5 240.4 557.2 240.6 559.9 240.8C562.5 241.1 565.2 241.4 567.7 242.1C570.2 242.8 572.8 243.8 575.1 245C577.5 246.2 579.8 247.6 581.9 249.2C583.9 250.8 586 252.7 587.7 254.6C589.4 256.6 591.1 258.8 592.2 261.1C593.3 263.5 594 266 594.5 268.6C595.1 271.2 595 273.9 595.3 276.6C595.6 279.3 596 281.9 596.4 284.6C596.7 287.2 597.2 289.9 597.6 292.5C598.1 295.1 598.5 297.8 599 300.4C599.5 303.1 600 305.7 600.5 308.3C601 310.9 601.5 313.6 601.9 316.2C602.3 318.9 602.6 321.5 602.9 324.2C603.1 326.9 603.2 329.5 603.2 332.2C603.2 334.9 603 337.6 602.8 340.2C602.5 342.9 602 345.5 601.4 348.1C600.9 350.7 600.2 353.3 599.3 355.8C598.5 358.4 597.6 360.9 596.4 363.2C595.1 365.5 593.5 367.7 591.8 369.7C590.1 371.7 588.2 373.6 586.2 375.2C584.1 376.8 581.7 378.1 579.3 379.3C576.9 380.5 574.4 381.4 571.9 382.2C569.4 383 566.8 383.7 564.2 384.4C561.6 385 559 385.6 556.3 386.1C553.7 386.6 551 387 548.4 387.3C545.7 387.7 543.1 388.1 540.4 388.3C537.8 388.5 535.1 388.6 532.4 388.6C529.8 388.5 527.1 388.3 524.4 387.9C521.8 387.6 519.2 386.9 516.6 386.3C514 385.8 511.4 385.2 508.7 384.6C506.1 384.1 503.5 383.6 500.8 383.1C498.2 382.6 495.6 382 492.9 381.7C490.3 381.4 487.6 381.3 485 381.3C482.3 381.3 479.6 381.5 476.9 381.6C474.3 381.8 471.6 382 468.9 382.3C466.3 382.5 463.6 382.9 460.9 383C458.3 383.2 455.6 383.5 452.9 383.4C450.3 383.4 447.6 383.1 445 382.7C442.4 382.3 439.6 382.1 437.3 381C435.1 380 432.8 378.3 431.4 376.4C429.9 374.4 429.2 371.9 428.7 369.4C428.2 367 428.3 364.1 428.4 361.5C428.6 358.8 429 356.2 429.5 353.6C430 350.9 430.6 348.3 431.4 345.8C432.2 343.2 433.1 340.7 434.2 338.3C435.2 335.8 436.3 333.4 437.6 331.1C439 328.8 440.6 326.6 442.1 324.4C443.6 322.2 445.1 320 446.7 317.8C448.3 315.7 449.8 313.4 451.5 311.4C453.3 309.4 455.1 307.5 457.1 305.8C459.1 304 461.4 302.5 463.5 300.9C465.6 299.3 467.8 297.7 469.9 296.1C472.1 294.5 474.2 292.9 476.4 291.3C478.6 289.7 480.7 288.1 482.9 286.5C485 284.9 487.2 283.3 489.4 281.8C491.6 280.3 493.9 278.9 496.1 277.4C498.4 276 500.7 274.6 502.9 273.1C505.1 271.6 508 269.8 509.6 268.7C511.2 267.5 511.3 267.6 512.8 266.2Z"/>
<path d="M565 310C568.2 309 570.3 310.3 573 312C575.7 313.7 579.2 316.5 581 320C582.8 323.5 583.8 328.5 584 333C584.2 337.5 583.3 343.3 582 347C580.7 350.7 578.7 353.3 576 355C573.3 356.7 569.2 357.5 566 357C562.8 356.5 559.3 354.3 557 352C554.7 349.7 553 346.7 552 343C551 339.3 550.7 334.2 551 330C551.3 325.8 551.7 321.3 554 318C556.3 314.7 561.8 311 565 310Z"/>
<path d="M718 116C718.8 117 719.5 118.3 722.9 122C726.2 125.7 733.2 132.2 738.1 138.4C743 144.7 747.9 152.1 752.2 159.5C756.5 166.9 760.8 175.2 763.9 183C767 190.8 769.1 199.4 770.9 206.4C772.6 213.4 774 219.6 774.4 225.1C774.8 230.6 774.5 235.7 773.3 239.2C772.1 242.7 769.8 245.2 767.4 246.2C765 247.2 762.5 246.6 759.2 245.1C755.9 243.6 751.8 240.6 747.5 236.9C743.2 233.2 738.5 227.9 733.4 222.8C728.3 217.7 722.9 212.2 717 206.4C711.1 200.6 704.9 193.9 698.3 187.7C691.7 181.4 684.6 175.2 677.2 168.9C669.8 162.7 661.5 155.7 653.7 150.2C645.9 144.7 638.1 140 630.3 136.1C622.5 132.2 614.3 129.1 606.9 126.7C599.5 124.4 591.9 123.3 585.8 122C579.6 120.7 572.6 119.5 570 119"/>
</g>
<g fill="none" stroke="#202020" stroke-width="1.95">
<path d="M512 141.5C514 141.5 517.3 141.6 520 141.7C522.7 141.8 525.4 141.9 528 142C530.7 142.1 533.4 142.3 536 142.4C538.7 142.5 541.4 142.6 544 142.8C546.7 143 549.4 143.3 552 143.7C554.6 144 557.3 144.5 559.9 145C562.5 145.4 565.2 145.9 567.8 146.4C570.4 146.9 573.1 147.4 575.7 147.9C578.3 148.4 580.9 148.9 583.5 149.5C586.1 150.1 588.7 150.8 591.3 151.5C593.8 152.3 596.4 153.1 598.9 154C601.4 154.8 604 155.6 606.5 156.5C609 157.4 611.6 158.2 614.1 159.2C616.5 160.2 619 161.2 621.4 162.3C623.9 163.4 626.2 164.6 628.6 165.8C631 167 633.4 168.2 635.8 169.4C638.1 170.7 640.5 172 642.8 173.4C645.1 174.7 647.3 176.2 649.5 177.7C651.7 179.2 653.9 180.7 656.1 182.3C658.3 183.8 660.4 185.4 662.6 187C664.7 188.6 666.8 190.2 668.9 191.9C671 193.6 673.1 195.2 675.1 197C677.2 198.7 679.2 200.4 681.2 202.1C683.2 203.9 685.2 205.8 687.1 207.6C689 209.5 690.9 211.4 692.8 213.3C694.7 215.2 696.6 217 698.4 219C700.2 220.9 702 222.9 703.7 225C705.5 227 707.1 229.1 708.8 231.2C710.4 233.3 712.1 235.4 713.7 237.5C715.3 239.7 716.9 241.8 718.4 244C720 246.2 721.4 248.4 722.8 250.7C724.3 252.9 725.6 255.2 727 257.5C728.4 259.8 729.8 262.1 731.1 264.4C732.4 266.7 733.7 269.1 734.9 271.4C736.1 273.8 737.2 276.3 738.3 278.7C739.5 281.1 740.5 283.6 741.6 286C742.6 288.5 743.6 291 744.5 293.5C745.4 296 746.1 298.6 746.9 301.1C747.6 303.7 748.4 306.3 749 308.8C749.7 311.4 750.4 314 750.9 316.6C751.5 319.2 752 321.9 752.5 324.5C753 327.1 753.5 329.7 753.9 332.4C754.4 335 754.8 337.7 755.2 340.3C755.5 342.9 755.9 345.6 756.1 348.3C756.3 350.9 756.5 353.6 756.6 356.2C756.7 358.9 756.7 361.6 756.6 364.2C756.4 366.9 756.1 369.5 755.8 372.2C755.4 374.8 755 377.5 754.5 380.1C754 382.7 753.5 385.4 753 388C752.4 390.6 751.7 393.2 751 395.7C750.4 398.3 749.7 400.9 748.9 403.5C748.2 406.1 747.5 408.6 746.7 411.2C745.9 413.7 745.1 416.3 744.1 418.8C743.2 421.3 742.2 423.7 741.2 426.2C740.2 428.7 739.2 431.2 738.1 433.6C737.1 436.1 736.1 438.6 734.9 441C733.8 443.4 732.6 445.8 731.4 448.1C730.1 450.5 728.8 452.9 727.6 455.2C726.3 457.6 725 459.9 723.7 462.2C722.4 464.6 721.1 466.9 719.7 469.2C718.3 471.5 716.8 473.7 715.3 475.9C713.8 478.1 712.3 480.3 710.8 482.5C709.2 484.7 707.7 486.9 706.1 489C704.6 491.2 703 493.3 701.3 495.4C699.6 497.5 697.9 499.5 696.1 501.6C694.4 503.6 692.6 505.6 690.8 507.6C689.1 509.6 687.3 511.6 685.5 513.5C683.7 515.5 681.9 517.5 680 519.4C678.2 521.3 676.3 523.2 674.4 525.1C672.5 527 670.6 528.9 668.7 530.8C666.8 532.7 664.9 534.6 663 536.4C661 538.2 659.1 540 657 541.7C655 543.5 652.9 545.1 650.8 546.8C648.7 548.4 646.6 550.1 644.5 551.7C642.3 553.3 640.2 554.9 638 556.4C635.8 558 633.6 559.4 631.3 560.8C629.1 562.3 626.8 563.6 624.5 565C622.2 566.4 619.9 567.8 617.6 569.1C615.3 570.5 612.9 571.8 610.6 573.1C608.2 574.3 605.9 575.5 603.5 576.7C601.1 577.9 598.6 579 596.2 580.1C593.8 581.2 591.3 582.2 588.8 583.1C586.3 584 583.8 584.9 581.2 585.6C578.6 586.3 576 586.9 573.4 587.4C570.8 587.9 568.1 588.2 565.5 588.6C562.9 589 560.2 589.3 557.5 589.6C554.9 589.8 552.2 589.9 549.6 590.1C546.9 590.2 544.2 590.2 541.5 590.3C538.9 590.3 536.2 590.4 533.5 590.4C530.8 590.4 528.2 590.4 525.5 590.4C522.8 590.4 520.2 590.3 517.5 590.2C514.8 590.2 512.1 590.1 509.5 590.1C506.8 590 504.1 589.9 501.4 589.8C498.8 589.7 496.1 589.6 493.4 589.5C490.8 589.4 488.1 589.3 485.4 589.2C482.7 589 480.1 588.8 477.4 588.6C474.8 588.4 472.1 588.1 469.4 587.8C466.8 587.5 464.1 587.2 461.5 586.7C458.9 586.3 456.3 585.7 453.7 585.1C451.1 584.5 448.5 583.7 446 582.9C443.4 582.1 440.9 581.3 438.4 580.3C436 579.3 433.5 578.2 431.2 576.9C428.9 575.6 426.7 574.2 424.6 572.6C422.5 571 420.5 569.2 418.5 567.4C416.6 565.6 414.7 563.7 412.8 561.8C410.9 559.9 409 558 407.2 556C405.4 554.1 403.6 552.1 401.8 550.1C400 548.2 398.3 546.1 396.5 544.1C394.7 542.1 393 540.1 391.2 538.1C389.4 536.1 387.7 534.1 385.9 532.1C384.1 530.1 382.3 528.1 380.6 526.1C378.8 524.1 377 522.1 375.2 520.1C373.4 518.1 371.7 516.1 369.8 514.1C368 512.2 366.2 510.3 364.3 508.4C362.4 506.4 360.5 504.6 358.7 502.7C356.8 500.8 354.9 498.9 353 497C351.1 495.1 349.2 493.2 347.4 491.2C345.6 489.2 343.9 487.2 342.1 485.2C340.4 483.2 338.7 481.1 337 479C335.3 477 333.6 474.9 331.9 472.8C330.3 470.7 328.5 468.7 326.9 466.6C325.3 464.4 323.8 462.3 322.3 460C320.8 457.8 319.5 455.5 318.1 453.2C316.7 450.9 315.4 448.6 314 446.3C312.7 444 311.3 441.7 310 439.4C308.7 437 307.5 434.7 306.3 432.3C305.2 429.9 304.1 427.4 303.1 424.9C302.1 422.5 301.2 420 300.2 417.5C299.3 415 298.3 412.5 297.4 410C296.4 407.5 295.5 405 294.7 402.4C293.9 399.9 293.2 397.3 292.5 394.7C291.9 392.1 291.4 389.5 290.8 386.9C290.2 384.3 289.7 381.7 289.2 379C288.7 376.4 288.2 373.8 287.8 371.2C287.4 368.5 287.2 365.9 286.9 363.2C286.7 360.5 286.5 357.9 286.4 355.2C286.2 352.5 286.1 349.9 286.1 347.2C286 344.5 286 341.8 286 339.2C286 336.5 286 333.8 286 331.2C286 328.5 286.1 325.8 286.1 323.1C286.2 320.5 286.3 317.8 286.5 315.1C286.7 312.5 286.8 309.8 287.1 307.1C287.3 304.5 287.7 301.8 288 299.2C288.4 296.5 288.9 293.9 289.4 291.3C289.9 288.7 290.4 286 291.1 283.5C291.7 280.9 292.4 278.3 293.2 275.7C293.9 273.2 294.7 270.6 295.6 268.1C296.5 265.6 297.5 263.1 298.6 260.7C299.7 258.2 300.9 255.9 302.1 253.5C303.4 251.1 304.7 248.8 306 246.5C307.3 244.2 308.7 241.9 310.1 239.6C311.6 237.4 313 235.1 314.6 232.9C316.1 230.7 317.6 228.5 319.2 226.4C320.8 224.3 322.5 222.3 324.3 220.3C326 218.2 327.9 216.3 329.7 214.3C331.5 212.4 333.4 210.4 335.2 208.5C337.1 206.6 339 204.7 340.9 202.9C342.8 201 344.7 199.1 346.7 197.3C348.6 195.4 350.5 193.6 352.5 191.8C354.5 190 356.5 188.3 358.6 186.5C360.6 184.8 362.6 183 364.7 181.3C366.7 179.6 368.8 178 370.9 176.3C373 174.7 375.2 173 377.3 171.5C379.5 169.9 381.6 168.3 383.9 166.9C386.1 165.5 388.5 164.2 390.8 163C393.2 161.8 395.7 160.7 398.1 159.6C400.5 158.6 403 157.5 405.5 156.5C407.9 155.5 410.4 154.6 413 153.7C415.5 152.8 418 152 420.6 151.3C423.2 150.5 425.7 149.7 428.3 149C430.9 148.4 433.5 147.9 436.1 147.4C438.7 146.9 441.4 146.6 444 146.2C446.7 145.8 449.3 145.4 452 145.1C454.6 144.8 457.3 144.5 460 144.2C462.6 144 465.3 143.8 467.9 143.5C470.6 143.3 473.3 143.1 475.9 142.9C478.6 142.7 481.3 142.6 484 142.4C486.6 142.3 489.3 142.2 492 142.1C494.6 142 497.3 141.9 500 141.8C502.6 141.7 506 141.6 508 141.5C510 141.5 510 141.5 512 141.5Z"/>
<path d="M512 175.9C514.7 175.7 517.3 175.7 520 175.7C522.7 175.8 525.3 175.8 528 175.9C530.7 176 533.3 176.1 536 176.2C538.7 176.4 541.3 176.6 543.9 176.9C546.6 177.3 549.2 177.7 551.8 178.2C554.5 178.7 557.1 179.2 559.7 179.7C562.3 180.2 564.9 180.7 567.5 181.2C570.1 181.8 572.7 182.4 575.3 183.2C577.8 184 580.3 184.9 582.8 185.9C585.3 186.8 587.8 187.8 590.2 188.8C592.7 189.8 595.2 190.8 597.6 191.9C600 193.1 602.4 194.3 604.7 195.5C607.1 196.7 609.4 198 611.8 199.3C614.1 200.6 616.4 201.9 618.7 203.4C620.9 204.8 623 206.3 625.1 208C627.3 209.6 629.2 211.4 631.3 213.1C633.3 214.9 635.3 216.6 637.2 218.4C639.2 220.2 641.1 222.1 643 224C644.9 225.9 646.6 227.9 648.4 229.9C650.2 231.8 652 233.8 653.7 235.9C655.4 237.9 657.1 240 658.7 242.1C660.3 244.2 661.8 246.4 663.3 248.6C664.7 250.9 666.2 253.1 667.5 255.4C668.9 257.7 670.2 260 671.4 262.4C672.6 264.7 673.6 267.2 674.6 269.7C675.6 272.1 676.6 274.6 677.4 277.2C678.3 279.7 679.1 282.2 679.8 284.8C680.5 287.3 681.1 289.9 681.7 292.5C682.3 295.1 682.9 297.7 683.4 300.4C683.9 303 684.3 305.6 684.6 308.2C685 310.9 685.2 313.5 685.5 316.2C685.7 318.9 685.9 321.5 686.1 324.2C686.2 326.8 686.3 329.5 686.3 332.2C686.3 334.8 686.3 337.5 686.2 340.2C686.1 342.8 686.1 345.5 686 348.2C685.8 350.8 685.7 353.5 685.5 356.2C685.3 358.8 685.1 361.5 684.9 364.1C684.6 366.8 684.3 369.4 684 372.1C683.6 374.7 683.1 377.3 682.7 380C682.2 382.6 681.8 385.2 681.2 387.8C680.7 390.4 680.2 393.1 679.5 395.6C678.9 398.2 678.1 400.8 677.3 403.3C676.5 405.9 675.7 408.4 674.9 410.9C674 413.5 673.2 416 672.2 418.5C671.2 420.9 670.1 423.4 669 425.8C667.9 428.2 666.7 430.6 665.5 433C664.3 435.4 663.1 437.8 661.8 440.1C660.5 442.4 659.2 444.7 657.8 446.9C656.3 449.2 654.7 451.3 653.1 453.4C651.6 455.6 650 457.7 648.3 459.8C646.6 461.9 645 464 643.2 466C641.4 468 639.6 469.9 637.7 471.8C635.8 473.7 634 475.6 632.1 477.4C630.2 479.3 628.3 481.2 626.3 483C624.3 484.8 622.3 486.5 620.3 488.2C618.2 489.9 616.1 491.5 614 493.2C611.9 494.8 609.8 496.5 607.6 498C605.5 499.6 603.3 501.1 601.1 502.5C598.8 503.9 596.4 505.2 594.1 506.4C591.7 507.7 589.3 508.9 586.9 510C584.5 511.2 582.1 512.4 579.7 513.3C577.2 514.2 574.7 515 572.1 515.6C569.5 516.2 566.9 516.6 564.3 517.1C561.6 517.5 559 518 556.4 518.3C553.7 518.6 551.1 518.8 548.5 518.8C545.8 518.9 543.2 518.6 540.5 518.4C537.9 518.1 535.2 517.8 532.6 517.5C529.9 517.1 527.3 516.8 524.6 516.4C522 516 519.4 515.6 516.7 515.1C514.1 514.6 511.5 514.1 508.9 513.5C506.3 512.9 503.7 512.3 501.1 511.6C498.5 511 496 510.3 493.4 509.6C490.8 508.9 488.2 508.3 485.6 507.6C483.1 506.8 480.5 506.1 478 505.3C475.4 504.5 472.9 503.6 470.4 502.7C467.9 501.8 465.4 500.8 463 499.8C460.5 498.8 458 497.8 455.6 496.8C453.1 495.7 450.7 494.6 448.2 493.5C445.8 492.4 443.4 491.2 441.1 490C438.7 488.8 436.3 487.7 433.9 486.4C431.5 485.2 429.2 484 426.9 482.7C424.5 481.3 422.3 479.9 420 478.5C417.8 477 415.6 475.6 413.4 474.1C411.1 472.6 408.9 471.1 406.7 469.6C404.5 468.1 402.4 466.5 400.2 465C398 463.4 395.9 461.8 393.8 460.2C391.6 458.6 389.5 457 387.4 455.3C385.4 453.6 383.3 451.9 381.4 450.1C379.4 448.3 377.5 446.5 375.6 444.6C373.7 442.7 371.8 440.8 370 438.9C368.2 436.9 366.4 435 364.7 432.9C363 430.9 361.4 428.8 359.7 426.6C358.1 424.5 356.5 422.4 355 420.2C353.5 418 352 415.8 350.6 413.5C349.3 411.3 348 408.9 346.8 406.5C345.6 404.2 344.4 401.8 343.3 399.3C342.1 396.9 341 394.5 340.1 392C339.1 389.5 338.4 387 337.6 384.5C336.8 381.9 336.1 379.3 335.5 376.7C334.8 374.2 334.3 371.6 333.8 369C333.4 366.3 333.2 363.7 333 361C332.8 358.4 332.7 355.7 332.8 353.1C332.8 350.4 333 347.8 333.4 345.1C333.7 342.5 334.2 339.9 334.8 337.3C335.4 334.7 336.1 332.1 336.9 329.6C337.7 327.1 338.6 324.6 339.7 322.1C340.7 319.7 341.9 317.3 343.1 314.9C344.3 312.5 345.6 310.2 346.9 307.9C348.2 305.6 349.5 303.3 350.9 300.9C352.2 298.6 353.5 296.3 354.8 294C356.1 291.6 357.4 289.3 358.8 287C360.1 284.7 361.4 282.4 362.7 280.1C364.1 277.7 365.4 275.4 366.7 273.1C368.1 270.8 369.4 268.5 370.8 266.2C372.2 263.9 373.6 261.7 375 259.4C376.4 257.1 377.8 254.9 379.2 252.6C380.6 250.4 382 248.1 383.5 245.8C384.9 243.6 386.4 241.4 387.9 239.2C389.4 237 391.1 234.9 392.7 232.8C394.4 230.8 396.2 228.7 398 226.8C399.8 224.8 401.6 222.9 403.5 221C405.4 219.2 407.4 217.4 409.4 215.6C411.4 213.9 413.5 212.2 415.6 210.6C417.7 209 419.9 207.4 422.1 205.9C424.3 204.5 426.5 203 428.8 201.6C431.1 200.2 433.4 198.9 435.7 197.6C438.1 196.3 440.4 195.1 442.8 193.9C445.2 192.7 447.7 191.7 450.1 190.6C452.6 189.6 455 188.6 457.5 187.7C460 186.7 462.6 185.9 465.1 185C467.6 184.2 470.2 183.4 472.7 182.7C475.3 181.9 477.9 181.1 480.4 180.5C483 179.8 485.6 179.2 488.2 178.8C490.8 178.3 493.5 177.9 496.1 177.6C498.8 177.2 501.4 176.8 504.1 176.6C506.7 176.3 509.4 176 512 175.9Z"/>
<path d="M512 199.1C514 199.1 517.4 199 520 199C522.7 199 525.4 199.1 528.1 199.2C530.7 199.2 533.4 199.3 536.1 199.4C538.7 199.6 541.4 199.8 544 200.1C546.7 200.5 549.3 201 551.9 201.5C554.6 202 557.2 202.5 559.8 203.1C562.4 203.7 565 204.2 567.6 205C570.1 205.7 572.6 206.6 575.1 207.6C577.6 208.6 580 209.8 582.5 210.9C584.9 212 587.4 213 589.7 214.2C592.1 215.4 594.5 216.7 596.8 218.1C599 219.4 601.3 221 603.5 222.5C605.7 224 607.9 225.5 610 227.1C612.1 228.7 614.2 230.4 616.1 232.3C618 234.1 619.7 236.2 621.5 238.2C623.2 240.2 625 242.2 626.6 244.3C628.2 246.4 629.8 248.6 631.2 250.8C632.7 253.1 634 255.4 635.3 257.7C636.6 260.1 637.9 262.4 638.9 264.9C640 267.3 640.9 269.8 641.8 272.3C642.6 274.9 643.4 277.4 644.1 280C644.8 282.6 645.5 285.2 645.9 287.8C646.4 290.4 646.8 293.1 647.1 295.7C647.5 298.4 647.8 301 648 303.7C648.2 306.4 648.4 309 648.5 311.7C648.6 314.4 648.7 317.1 648.7 319.7C648.7 322.4 648.7 325.1 648.5 327.7C648.3 330.4 647.9 333 647.5 335.7C647.1 338.3 646.6 340.9 646.1 343.6C645.6 346.2 645.1 348.8 644.6 351.5C644.1 354.1 643.5 356.7 642.9 359.3C642.4 361.9 641.8 364.5 641.2 367.2C640.6 369.8 640 372.4 639.3 375C638.7 377.5 637.9 380.1 637.2 382.7C636.4 385.3 635.7 387.8 634.9 390.4C634.1 392.9 633.3 395.5 632.3 398C631.3 400.4 630.2 402.8 629 405.2C627.8 407.6 626.5 410 625.2 412.3C623.9 414.6 622.6 417 621.1 419.2C619.7 421.4 618.1 423.6 616.5 425.7C614.9 427.8 613.1 429.8 611.3 431.8C609.6 433.8 607.8 435.9 606 437.8C604.1 439.7 602.2 441.6 600.2 443.3C598.1 445 595.9 446.5 593.7 448C591.5 449.5 589.3 451 587 452.4C584.8 453.8 582.5 455.3 580.2 456.5C577.8 457.6 575.3 458.5 572.8 459.4C570.3 460.3 567.7 461.1 565.1 461.8C562.6 462.5 560 463.3 557.4 463.9C554.8 464.4 552.2 464.8 549.5 465.1C546.9 465.4 544.2 465.5 541.5 465.6C538.8 465.8 536.2 465.9 533.5 466C530.8 466 528.1 466.1 525.5 466.1C522.8 466 520.1 465.9 517.5 465.8C514.8 465.6 512.1 465.4 509.4 465.2C506.8 465 504.1 464.7 501.4 464.5C498.8 464.2 496.1 464 493.5 463.7C490.8 463.4 488.1 463.2 485.5 462.9C482.8 462.5 480.2 462.1 477.6 461.6C474.9 461.1 472.3 460.5 469.7 459.9C467.1 459.4 464.5 458.8 461.9 458.2C459.3 457.5 456.7 456.9 454.1 456.1C451.6 455.4 449.1 454.4 446.6 453.5C444.1 452.6 441.6 451.5 439.1 450.5C436.6 449.5 434.1 448.5 431.7 447.4C429.3 446.3 426.9 445.1 424.6 443.8C422.2 442.5 420 441.1 417.7 439.7C415.4 438.3 413.1 436.9 410.9 435.4C408.7 433.9 406.6 432.3 404.5 430.6C402.5 428.9 400.6 427 398.7 425.1C396.8 423.3 394.8 421.4 393.1 419.4C391.3 417.4 389.6 415.4 388 413.3C386.5 411.1 385.1 408.8 383.8 406.5C382.4 404.2 381.1 401.8 379.9 399.5C378.7 397.1 377.4 394.7 376.4 392.3C375.4 389.8 374.7 387.3 373.9 384.7C373.1 382.1 372.4 379.6 371.8 377C371.1 374.4 370.5 371.8 370.1 369.1C369.7 366.5 369.5 363.8 369.3 361.2C369.1 358.5 368.9 355.8 369 353.2C369 350.5 369.2 347.9 369.7 345.3C370.2 342.7 370.9 340.1 371.8 337.6C372.7 335.1 373.9 332.7 375.2 330.4C376.5 328.1 378 325.9 379.6 323.7C381.1 321.5 382.7 319.4 384.4 317.3C386.1 315.2 387.8 313.2 389.5 311.1C391.2 309.1 392.9 307 394.5 304.8C396 302.7 397.5 300.5 398.9 298.2C400.3 295.9 401.6 293.6 402.7 291.2C403.7 288.7 404.5 286.2 405.3 283.6C406 281.1 406.6 278.5 407.2 275.9C407.9 273.3 408.4 270.6 409.1 268.1C409.8 265.5 410.5 262.9 411.5 260.4C412.4 257.9 413.4 255.5 414.6 253.1C415.7 250.7 417 248.3 418.5 246.1C419.9 243.9 421.5 241.7 423.1 239.6C424.8 237.5 426.5 235.5 428.4 233.7C430.3 231.8 432.4 230.2 434.5 228.6C436.7 227 438.9 225.5 441.1 223.9C443.3 222.4 445.5 220.9 447.8 219.5C450.1 218.1 452.4 216.8 454.7 215.6C457.1 214.3 459.4 213 461.8 211.8C464.3 210.7 466.7 209.6 469.2 208.6C471.7 207.7 474.2 206.8 476.7 205.9C479.3 205.1 481.8 204.1 484.4 203.4C486.9 202.7 489.5 202.1 492.1 201.6C494.7 201.1 497.4 200.8 500.1 200.4C502.7 200 506 199.6 508 199.4C510 199.2 510 199.2 512 199.1Z"/>
<path d="M515.7 228.5C517.6 228.1 520.9 227.4 523.5 226.9C526.1 226.5 528.8 226.1 531.4 225.8C534.1 225.5 536.8 225.4 539.5 225.3C542.1 225.1 544.8 225 547.5 225C550.1 225 552.8 225.2 555.5 225.4C558.1 225.5 560.8 225.8 563.5 226.1C566.1 226.5 568.7 226.9 571.3 227.5C573.9 228.1 576.5 228.9 579 229.9C581.4 230.8 583.9 231.8 586.2 233.1C588.5 234.5 590.6 236.2 592.6 237.9C594.6 239.6 596.7 241.3 598.4 243.3C600.1 245.3 601.5 247.6 603 249.9C604.4 252.1 605.8 254.4 606.9 256.8C607.9 259.2 608.6 261.8 609.3 264.4C610.1 267 610.7 269.6 611.3 272.2C611.8 274.8 612.1 277.4 612.4 280.1C612.8 282.7 613 285.4 613.3 288.1C613.5 290.7 613.7 293.4 613.8 296.1C613.9 298.8 613.9 301.4 614 304.1C614 306.8 614.1 309.5 614.1 312.1C614.1 314.8 614.1 317.5 614.1 320.2C614.2 322.8 614.2 325.5 614.1 328.2C614.1 330.9 614.1 333.6 613.9 336.2C613.8 338.9 613.7 341.6 613.4 344.2C613.2 346.9 612.9 349.6 612.4 352.2C611.9 354.8 611.3 357.4 610.6 360C609.8 362.5 608.9 365 607.7 367.4C606.5 369.7 605 372 603.4 374.1C601.8 376.2 600 378.2 598.2 380.2C596.4 382.1 594.5 384 592.4 385.7C590.4 387.5 588.3 389.1 586.1 390.6C583.9 392.1 581.6 393.5 579.3 394.8C577 396.1 574.6 397.3 572.1 398.4C569.7 399.5 567.2 400.4 564.7 401.3C562.2 402.2 559.6 403 557 403.7C554.5 404.5 551.9 405.1 549.3 405.8C546.7 406.5 544.1 407.1 541.5 407.7C538.9 408.3 536.2 408.8 533.6 409.4C531 409.9 528.4 410.5 525.7 410.9C523.1 411.3 520.5 411.8 517.8 412C515.2 412.1 512.5 412 509.8 411.9C507.2 411.8 504.5 411.7 501.8 411.5C499.1 411.3 496.5 410.9 493.8 410.6C491.2 410.2 488.6 409.7 485.9 409.3C483.3 409 480.6 408.5 478 408.2C475.3 407.9 472.6 407.8 470 407.6C467.3 407.4 464.6 407.2 461.9 407.1C459.3 406.9 456.6 406.7 453.9 406.5C451.3 406.3 448.6 406.1 446 405.7C443.3 405.3 440.7 404.8 438.1 404.1C435.5 403.5 432.9 402.8 430.5 401.8C428.1 400.8 425.7 399.5 423.6 398C421.4 396.5 419.3 394.8 417.5 392.9C415.8 390.9 414.4 388.6 413.1 386.3C411.8 384 410.7 381.6 409.9 379.1C409.1 376.5 408.7 373.9 408.4 371.2C408.1 368.6 408 365.9 408 363.3C408.1 360.6 408.4 357.9 408.8 355.3C409.3 352.7 410 350.1 410.8 347.6C411.7 345.1 412.7 342.6 414 340.3C415.2 338 416.8 335.8 418.3 333.6C419.9 331.4 421.6 329.3 423.3 327.3C425 325.2 426.8 323.3 428.5 321.2C430.3 319.2 432.1 317.2 433.7 315.1C435.4 313 436.9 310.8 438.4 308.6C440 306.5 441.5 304.3 443 302C444.5 299.8 446 297.6 447.3 295.2C448.5 292.9 449.8 290.6 450.6 288.1C451.3 285.6 451.5 282.9 451.7 280.2C451.9 277.6 451.5 274.9 451.6 272.3C451.8 269.6 452 266.9 452.5 264.4C453.1 261.8 453.8 259.2 455.1 257C456.4 254.7 458.3 252.8 460.2 251.1C462.2 249.4 464.5 248 466.9 246.8C469.2 245.5 471.7 244.5 474.2 243.5C476.7 242.5 479.2 241.6 481.7 240.7C484.2 239.8 486.8 239.1 489.3 238.2C491.8 237.3 494.4 236.4 496.8 235.4C499.3 234.5 501.8 233.4 504.3 232.4C506.8 231.4 509.9 230.3 511.8 229.7C513.7 229 513.7 229 515.7 228.5Z"/>
</g>
<g font-family="'Liberation Sans',sans-serif" font-size="5.5" fill="#444" text-anchor="middle">
<rect x="506.7" y="346.3" width="11" height="6" fill="#fff" fill-opacity="0.9"/><text x="512.2" y="351.3">90°N</text>
<rect x="506.7" y="379.5" width="11" height="6" fill="#fff" fill-opacity="0.9"/><text x="512.2" y="384.5">80°N</text>
<rect x="506.7" y="413.3" width="11" height="6" fill="#fff" fill-opacity="0.9"/><text x="512.2" y="418.3">70°N</text>
<rect x="506.7" y="448.1" width="11" height="6" fill="#fff" fill-opacity="0.9"/><text x="512.2" y="453.1">60°N</text>
<rect x="506.7" y="484.6" width="11" height="6" fill="#fff" fill-opacity="0.9"/><text x="512.2" y="489.6">50°N</text>
<rect x="506.7" y="523.5" width="11" height="6" fill="#fff" fill-opacity="0.9"/><text x="512.2" y="528.5">40°N</text>
<rect x="506.7" y="565.7" width="11" height="6" fill="#fff" fill-opacity="0.9"/><text x="512.2" y="570.7">30°N</text>
</g>
<g font-family="'Liberation Sans',sans-serif" font-size="7.5" fill="#222" text-anchor="middle" stroke="#fff" stroke-width="2" paint-order="stroke">
<text x="398" y="186.5" transform="rotate(-30 398 186.5)" dy="2.6">576</text>
<text x="731.5" y="338" transform="rotate(-85 731.5 338)" dy="2.6">576</text>
<text x="684.5" y="338" transform="rotate(-88 684.5 338)" dy="2.6">564</text>
<text x="655" y="338" transform="rotate(-88 655 338)" dy="2.6">552</text>
<text x="634.5" y="338" transform="rotate(-88 634.5 338)" dy="2.6">540</text>
<text x="613.5" y="338" transform="rotate(-88 613.5 338)" dy="2.6">528</text>
<text x="566" y="312" transform="rotate(0 566 312)" dy="2.6">516</text>
<text x="726" y="142" transform="rotate(62 726 142)" dy="2.6">588</text>
<text x="444.5" y="531.6" transform="rotate(48 444.5 531.6)" dy="2.6">576</text>
<text x="668" y="423" transform="rotate(-60 668 423)" dy="2.6">564</text>
<text x="338.5" y="318" transform="rotate(-80 338.5 318)" dy="2.6">564</text>
</g>
</g>
<rect x="53.0" y="122.0" width="918.0" height="458.0" fill="none" stroke="#b9b9b9" stroke-width="1.2"/>
<rect shape-rendering="crispEdges" x="80.8" y="657.7" width="22.9" height="28.6" fill="rgb(0,26,255)"/>
<rect shape-rendering="crispEdges" x="102.9" y="657.7" width="22.9" height="28.6" fill="rgb(0,33,255)"/>
<rect shape-rendering="crispEdges" x="125" y="657.7" width="22.9" height="28.6" fill="rgb(0,42,255)"/>
<rect shape-rendering="crispEdges" x="147.1" y="657.7" width="22.9" height="28.6" fill="rgb(0,52,255)"/>
<rect shape-rendering="crispEdges" x="169.3" y="657.7" width="22.9" height="28.6" fill="rgb(0,63,255)"/>
<rect shape-rendering="crispEdges" x="191.4" y="657.7" width="22.9" height="28.6" fill="rgb(0,73,255)"/>
<rect shape-rendering="crispEdges" x="213.5" y="657.7" width="22.9" height="28.6" fill="rgb(0,84,255)"/>
<rect shape-rendering="crispEdges" x="235.6" y="657.7" width="22.9" height="28.6" fill="rgb(0,96,255)"/>
<rect shape-rendering="crispEdges" x="257.7" y="657.7" width="22.9" height="28.6" fill="rgb(0,107,255)"/>
<rect shape-rendering="crispEdges" x="279.8" y="657.7" width="22.9" height="28.6" fill="rgb(0,119,255)"/>
<rect shape-rendering="crispEdges" x="301.9" y="657.7" width="22.9" height="28.6" fill="rgb(0,131,255)"/>
<rect shape-rendering="crispEdges" x="324.1" y="657.7" width="22.9" height="28.6" fill="rgb(0,143,255)"/>
<rect shape-rendering="crispEdges" x="346.2" y="657.7" width="22.9" height="28.6" fill="rgb(0,155,255)"/>
<rect shape-rendering="crispEdges" x="368.3" y="657.7" width="22.9" height="28.6" fill="rgb(0,168,255)"/>
<rect shape-rendering="crispEdges" x="390.4" y="657.7" width="22.9" height="28.6" fill="rgb(0,180,255)"/>
<rect shape-rendering="crispEdges" x="412.5" y="657.7" width="22.9" height="28.6" fill="rgb(0,193,255)"/>
<rect shape-rendering="crispEdges" x="434.6" y="657.7" width="22.9" height="28.6" fill="rgb(0,206,255)"/>
<rect shape-rendering="crispEdges" x="456.8" y="657.7" width="22.9" height="28.6" fill="rgb(0,219,255)"/>
<rect shape-rendering="crispEdges" x="478.9" y="657.7" width="22.1" height="28.6" fill="rgb(0,232,255)"/>
<rect shape-rendering="crispEdges" x="523.1" y="657.7" width="22.9" height="28.6" fill="rgb(255,165,0)"/>
<rect shape-rendering="crispEdges" x="545.2" y="657.7" width="22.9" height="28.6" fill="rgb(255,157,0)"/>
<rect shape-rendering="crispEdges" x="567.3" y="657.7" width="22.9" height="28.6" fill="rgb(255,150,0)"/>
<rect shape-rendering="crispEdges" x="589.4" y="657.7" width="22.9" height="28.6" fill="rgb(255,142,0)"/>
<rect shape-rendering="crispEdges" x="611.6" y="657.7" width="22.9" height="28.6" fill="rgb(255,135,0)"/>
<rect shape-rendering="crispEdges" x="633.7" y="657.7" width="22.9" height="28.6" fill="rgb(255,127,0)"/>
<rect shape-rendering="crispEdges" x="655.8" y="657.7" width="22.9" height="28.6" fill="rgb(255,119,0)"/>
<rect shape-rendering="crispEdges" x="677.9" y="657.7" width="22.9" height="28.6" fill="rgb(255,112,0)"/>
<rect shape-rendering="crispEdges" x="700" y="657.7" width="22.9" height="28.6" fill="rgb(255,104,0)"/>
<rect shape-rendering="crispEdges" x="722.1" y="657.7" width="22.9" height="28.6" fill="rgb(255,96,0)"/>
<rect shape-rendering="crispEdges" x="744.2" y="657.7" width="22.9" height="28.6" fill="rgb(255,89,0)"/>
<rect shape-rendering="crispEdges" x="766.4" y="657.7" width="22.9" height="28.6" fill="rgb(255,81,0)"/>
<rect shape-rendering="crispEdges" x="788.5" y="657.7" width="22.9" height="28.6" fill="rgb(255,74,0)"/>
<rect shape-rendering="crispEdges" x="810.6" y="657.7" width="22.9" height="28.6" fill="rgb(255,66,0)"/>
<rect shape-rendering="crispEdges" x="832.7" y="657.7" width="22.9" height="28.6" fill="rgb(255,58,0)"/>
<rect shape-rendering="crispEdges" x="854.8" y="657.7" width="22.9" height="28.6" fill="rgb(255,51,0)"/>
<rect shape-rendering="crispEdges" x="876.9" y="657.7" width="22.9" height="28.6" fill="rgb(255,43,0)"/>
<rect shape-rendering="crispEdges" x="899.1" y="657.7" width="22.9" height="28.6" fill="rgb(255,36,0)"/>
<rect shape-rendering="crispEdges" x="921.2" y="657.7" width="22.1" height="28.6" fill="rgb(255,28,0)"/>
<g font-family="'Liberation Sans',sans-serif" font-size="10" fill="#2a2a2a" text-anchor="middle">
<text x="80.8" y="649.3">-40</text>
<text x="102.9" y="649.3">-38</text>
<text x="125" y="649.3">-36</text>
<text x="147.1" y="649.3">-34</text>
<text x="169.3" y="649.3">-32</text>
<text x="191.4" y="649.3">-30</text>
<text x="213.5" y="649.3">-28</text>
<text x="235.6" y="649.3">-26</text>
<text x="257.7" y="649.3">-24</text>
<text x="279.8" y="649.3">-22</text>
<text x="301.9" y="649.3">-20</text>
<text x="324.1" y="649.3">-18</text>
<text x="346.2" y="649.3">-16</text>
<text x="368.3" y="649.3">-14</text>
<text x="390.4" y="649.3">-12</text>
<text x="412.5" y="649.3">-10</text>
<text x="434.6" y="649.3">-8</text>
<text x="456.8" y="649.3">-6</text>
<text x="478.9" y="649.3">-4</text>
<text x="501" y="649.3">-2</text>
<text x="523.1" y="649.3">2</text>
<text x="545.2" y="649.3">4</text>
<text x="567.3" y="649.3">6</text>
<text x="589.4" y="649.3">8</text>
<text x="611.6" y="649.3">10</text>
<text x="633.7" y="649.3">12</text>
<text x="655.8" y="649.3">14</text>
<text x="677.9" y="649.3">16</text>
<text x="700" y="649.3">18</text>
<text x="722.1" y="649.3">20</text>
<text x="744.2" y="649.3">22</text>
<text x="766.4" y="649.3">24</text>
<text x="788.5" y="649.3">26</text>
<text x="810.6" y="649.3">28</text>
<text x="832.7" y="649.3">30</text>
<text x="854.8" y="649.3">32</text>
<text x="876.9" y="649.3">34</text>
<text x="899.1" y="649.3">36</text>
<text x="921.2" y="649.3">38</text>
<text x="943.3" y="649.3">38</text>
</g>
<line x1="325.4" y1="724.6" x2="398.4" y2="724.6" stroke="#222" stroke-width="1"/>
<line x1="325.4" y1="738.1" x2="398.4" y2="738.1" stroke="#111" stroke-width="2.4"/>
<g fill="none" stroke="#111" stroke-width="2.3"><circle cx="122.4" cy="848.1" r="12.3"/><circle cx="150.7" cy="848.1" r="12.3"/></g>
<text x="122.3" y="851.7" font-family="'Liberation Sans',sans-serif" font-weight="bold" font-size="15.5" text-anchor="middle" fill="#111" letter-spacing="-0.9">cc</text>
<circle cx="150.7" cy="840.6" r="1.9" fill="#111"/><path d="M147.4 844.2h6.6v6h-1.6v7h-3.4v-7h-1.6z" fill="#111"/>
<g fill="#1a70b1"><circle cx="654" cy="847.7" r="24.4"/><circle cx="673.3" cy="847.7" r="24.4"/></g>
<g fill="#fff"><ellipse cx="653.7" cy="848.1" rx="9.6" ry="10.7"/><ellipse cx="673.7" cy="848.1" rx="9.7" ry="10.7"/>
<rect x="680" y="843.3" width="19" height="9.3"/><rect x="627" y="843.3" width="21" height="9.3"/></g>
<rect x="629.3" y="845.4" width="20" height="4.9" fill="#1a70b1"/>
<text x="0" y="0" transform="translate(703.9 868.5) scale(0.952 1)" font-family="'Liberation Sans',sans-serif" font-weight="bold" font-size="59.7" fill="#1a70b1">ECMWF</text>
</svg>
<div class="t" id="title">500 hPa Z: Weekly mean anomalies</div>
<div class="t" id="sub">Base time: Thu 29 Oct 2020, Valid time: Mon 16 Nov 2020 - Mon 23 Nov 2020, - T+600 h, Area : North Pole</div>
<div class="t" id="lt">Extended range: 500 hPa geopotential anomaly (dam)</div>
<div id="l2">Extended range: 500 hPa geopotential (dm)</div>
</body></html>
